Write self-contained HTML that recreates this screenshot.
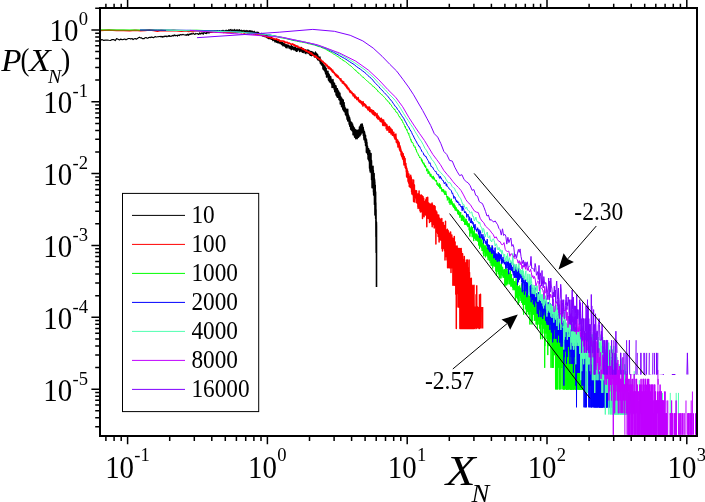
<!DOCTYPE html>
<html><head><meta charset="utf-8"><title>P(X_N)</title>
<style>html,body{margin:0;padding:0;background:#fff;}body{width:705px;height:502px;overflow:hidden;font-family:"Liberation Serif",serif;}svg{display:block;will-change:transform;}</style></head>
<body>
<svg width="705" height="502" viewBox="0 0 705 502">
<rect width="100%" height="100%" fill="#fff"/>
<defs><clipPath id="cp"><rect x="100" y="8" width="597" height="428"/></clipPath></defs>
<g clip-path="url(#cp)">
<path d="M100.0 40.7L101.9 39.5L103.7 40.4L105.5 40.1L107.2 40.0L108.9 40.3L110.5 40.5L112.1 39.5L113.6 39.6L115.2 40.6L116.6 38.6L118.1 39.2L119.5 39.9L120.8 39.1L122.2 39.7L123.5 39.4L124.8 39.0L126.0 39.9L127.3 39.0L128.5 38.5L129.7 38.5L130.8 39.1L132.0 38.5L133.1 39.6L134.2 38.8L135.3 38.5L136.3 39.2L137.4 38.6L138.4 37.7L139.4 37.2L140.4 37.9L141.4 37.8L142.3 38.6L143.3 38.6L144.2 38.6L145.1 37.7L146.0 37.5L146.9 38.1L147.8 38.2L148.7 37.5L149.5 37.4L150.4 37.6L151.2 36.9L152.0 37.4L152.8 37.3L153.6 37.7L154.4 37.1L155.2 36.5L155.9 37.0L156.7 37.0L157.4 36.7L158.2 36.7L158.9 36.6L159.6 36.5L160.3 36.4L161.0 37.0L161.7 36.4L162.4 37.2L163.1 36.3L163.8 37.0L164.4 36.4L165.1 36.1L165.8 36.4L166.4 36.1L167.0 36.9L167.7 36.4L168.3 35.7L168.9 36.5L169.5 35.6L170.1 36.5L170.7 36.2L171.3 36.3L171.9 35.7L172.5 35.4L173.1 36.1L173.6 35.7L174.2 34.8L174.8 35.6L175.3 35.8L175.9 35.2L176.4 35.5L177.0 35.6L177.5 36.1L178.0 34.9L178.6 35.4L179.1 35.2L179.6 35.6L180.1 34.5L180.6 34.7L181.1 34.6L181.6 35.0L182.1 34.7L182.6 34.5L183.1 34.4L183.6 34.7L184.1 34.8L184.5 34.9L185.0 35.0L185.5 35.1L186.0 34.5L186.4 34.7L186.9 35.5L187.3 34.6L187.8 34.0L188.2 34.6L188.7 35.3L189.1 34.5L189.6 34.0L190.0 34.2L190.4 34.5L190.9 33.5L191.3 33.4L191.7 34.2L192.1 33.8L192.6 34.0L193.0 33.8L193.4 33.4L193.8 33.7L194.2 34.0L194.6 34.3L195.0 34.3L195.4 33.9L195.8 33.4L196.2 33.7L196.6 33.8L197.0 33.7L197.4 33.7L197.7 33.5L198.1 34.2L198.5 34.5L198.9 33.8L199.2 34.1L199.6 32.8L200.0 33.6L200.4 33.6L200.7 34.1L201.1 33.3L201.4 33.6L201.8 32.8L202.2 32.9L202.5 33.6L202.9 33.0L203.2 34.4L203.6 33.4L203.9 32.5L204.3 32.7L204.6 32.9L204.9 33.0L205.3 33.5L205.6 33.5L206.0 32.7L206.3 32.0L206.6 33.7L206.9 32.4L207.3 32.4L207.6 32.2L207.9 33.0L208.2 32.8L208.6 32.5L208.9 32.9L209.2 33.0L209.5 32.8L209.8 32.4L210.1 32.1L210.5 32.3L210.8 32.2L211.1 32.5L211.4 32.5L211.7 31.6L212.0 32.1L212.3 32.1L212.6 31.6L212.9 31.4L213.2 31.4L213.5 31.7L213.8 31.9L214.1 31.7L214.4 31.7L214.7 31.1L214.9 31.6L215.2 31.4L215.5 31.7L215.8 31.0L216.1 32.5L216.4 31.4L216.6 31.2L216.9 32.0L217.2 30.5L217.5 31.5L217.8 31.5L218.0 31.9L218.3 31.0L218.6 31.3L218.8 31.6L219.1 31.2L219.4 31.0L219.7 30.7L219.9 31.1L220.2 31.7L220.4 31.5L220.7 32.2L221.0 31.5L221.2 30.8L221.5 30.9L221.7 31.2L222.0 31.2L222.3 30.4L222.5 30.9L222.8 30.6L223.0 30.8L223.3 31.3L223.5 30.3L223.8 31.5L224.0 31.5L224.3 31.1L224.5 31.2L224.8 31.1L225.0 31.1L225.3 30.4L225.5 30.8L225.7 30.6L226.0 31.5L226.2 31.2L226.5 30.3L226.7 31.3L226.9 30.2L227.2 31.2L227.4 30.6L227.6 31.1L227.9 30.6L228.1 31.1L228.3 30.7L228.6 29.9L228.8 30.8L229.0 29.7L229.3 30.8L229.5 31.1L229.7 30.5L229.9 30.7L230.2 29.7L230.4 30.1L230.6 30.0L230.8 30.2L231.0 29.4L231.3 30.1L231.5 30.2L231.7 30.9L231.9 30.9L232.1 30.4L232.4 30.0L232.6 29.9L232.8 30.9L233.0 30.2L233.2 30.3L233.4 30.9L233.6 30.2L233.9 31.5L234.1 30.3L234.3 29.3L234.5 30.9L234.7 30.4L234.9 31.3L235.1 30.8L235.3 30.0L235.5 30.9L235.7 30.4L235.9 30.6L236.1 30.6L236.3 30.3L236.5 30.2L236.7 29.8L236.9 30.0L237.1 30.7L237.3 29.8L237.5 29.9L237.7 31.2L237.9 30.1L238.1 30.1L238.3 30.0L238.5 30.2L238.7 31.1L238.9 30.6L239.1 31.5L239.3 30.6L239.5 29.6L239.7 30.2L239.9 30.2L240.1 30.8L240.3 31.1L240.4 31.1L240.6 30.5L240.8 31.0L241.0 30.9L241.2 30.1L241.4 31.5L241.6 31.3L241.8 30.9L241.9 30.7L242.1 30.8L242.3 31.4L242.5 30.7L242.7 30.8L242.9 30.6L243.0 31.3L243.2 30.7L243.4 30.7L243.6 31.2L243.8 31.0L243.9 31.2L244.1 30.2L244.3 32.5L244.5 31.6L244.6 31.8L244.8 31.2L245.0 31.3L245.2 31.2L245.4 30.7L245.5 31.9L245.7 31.5L245.9 31.2L246.0 31.7L246.2 30.9L246.4 31.0L246.6 31.5L246.7 32.1L246.9 30.4L247.1 31.0L247.2 31.0L247.4 31.2L247.6 31.3L247.7 30.9L247.9 31.3L248.1 31.6L248.2 31.0L248.4 31.3L248.6 31.8L248.7 31.9L248.9 30.9L249.1 31.1L249.2 30.5L249.4 31.8L249.6 31.9L249.7 31.3L249.9 30.9L250.1 31.3L250.2 31.4L250.4 30.7L250.5 32.0L250.7 32.3L250.9 32.1L251.0 31.9L251.2 31.5L251.3 31.2L251.5 31.6L251.6 31.0L251.8 32.2L252.0 30.9L252.1 32.3L252.3 31.3L252.4 32.4L252.6 31.8L252.7 32.0L252.9 31.8L253.0 31.7L253.2 32.2L253.4 32.1L253.5 32.0L253.7 32.9L253.8 32.6L254.0 33.1L254.1 32.3L254.3 31.2L254.4 32.0L254.6 32.8L254.7 32.8L254.9 32.0L255.0 32.8L255.2 33.4L255.3 33.1L255.5 33.2L255.6 33.2L255.8 32.4L255.9 32.7L256.0 33.6" fill="none" stroke="#000000" stroke-width="1.15" stroke-linejoin="round"/>
<path d="M256.0 33.6L256.2 33.1L256.3 33.5L256.5 33.6L256.6 33.8L256.8 32.1L256.9 33.2L257.1 32.8L257.2 32.7L257.4 33.4L257.5 33.0L257.6 33.0L257.8 33.2L257.9 32.2L258.1 33.3L258.2 33.6L258.3 33.2L258.5 32.6L258.6 33.1L258.8 33.9L258.9 34.2L259.0 34.3L259.2 34.2L259.3 33.6L259.5 33.4L259.6 35.2L259.7 34.0L259.9 34.6L260.0 33.7L260.2 33.6L260.3 34.6L260.4 34.5L260.6 34.8L260.7 34.1L260.8 35.3L261.0 35.0L261.1 34.8L261.2 33.8L261.4 33.3L261.5 34.6L261.6 35.3L261.8 34.7L261.9 35.2L262.0 34.5L262.2 35.5L262.3 35.1L262.4 35.0L262.6 34.7L262.7 35.1L262.8 34.4L263.0 35.1L263.1 36.2L263.2 34.7L263.4 35.4L263.5 35.7L263.6 34.5L263.7 36.0L263.9 35.4L264.0 35.9L264.1 34.8L264.3 35.8L264.4 35.5L264.5 36.5L264.6 34.9L264.8 36.4L264.9 35.3L265.0 35.2L265.1 35.2L265.3 34.9L265.4 36.7L265.5 35.8L265.6 36.0L265.8 35.9L265.9 35.6L266.0 36.2L266.1 36.8L266.3 36.4L266.4 35.5L266.5 37.2L266.6 36.5L266.8 37.2L266.9 36.0L267.0 37.7L267.1 36.9L267.2 36.8L267.4 36.8L267.5 35.5L267.6 36.0L267.7 37.6L267.9 35.8L268.0 37.8L268.1 38.3L268.2 38.1L268.3 37.1L268.5 37.0L268.6 38.7L268.7 37.1L268.8 37.6L268.9 37.1L269.0 37.8L269.2 37.1L269.3 37.3L269.4 38.5L269.5 36.9L269.6 37.7L269.8 37.4L269.9 37.2L270.0 38.6L270.1 38.1L270.2 38.6L270.3 38.8L270.4 38.0L270.6 38.1L270.7 37.5L270.8 37.5L270.9 38.4L271.0 39.0L271.1 36.6L271.3 37.3L271.4 38.7L271.5 39.3L271.6 39.0L271.7 38.6L271.8 38.1L271.9 38.3L272.0 38.7L272.2 39.2L272.3 39.0L272.4 39.3L272.5 39.1L272.6 39.3L272.7 38.9L272.8 40.6L272.9 39.6L273.0 39.6L273.2 40.2L273.3 39.7L273.4 40.3L273.5 40.1L273.6 39.9L273.7 39.9L273.8 40.2L273.9 39.1L274.0 39.8L274.1 39.7L274.3 39.8L274.4 40.5L274.5 40.7L274.6 39.6L274.7 40.4L274.8 41.4L274.9 41.8L275.0 40.2L275.1 40.9L275.2 40.5L275.3 40.9L275.4 40.8L275.5 40.7L275.6 41.5L275.8 40.7L275.9 40.1L276.0 40.3L276.1 42.0L276.2 41.8L276.3 41.8L276.4 41.1L276.5 40.4L276.6 40.8L276.7 42.3L276.8 41.1L276.9 40.6L277.0 41.5L277.1 40.0L277.2 41.8L277.3 40.6L277.4 39.8L277.5 42.4L277.6 41.7L277.7 41.2L277.8 39.4L277.9 42.9L278.0 41.3L278.1 41.5L278.2 42.1L278.3 42.4L278.4 42.2L278.5 42.1L278.6 42.9L278.7 40.9L278.8 42.9L278.9 42.4L279.0 42.6L279.1 42.5L279.2 42.2L279.3 42.8L279.4 42.5L279.5 41.2L279.6 41.7L279.7 42.7L279.8 41.9L279.9 43.1L280.0 42.5L280.1 43.7L280.2 43.5L280.3 43.4L280.4 41.9L280.5 42.7L280.6 42.5L280.7 42.8L280.8 42.7L280.9 42.7L281.0 42.5L281.1 43.0L281.2 43.8L281.3 43.8L281.4 42.4L281.5 42.3L281.6 42.9L281.7 44.6L281.8 42.3L281.9 43.3L282.0 43.6L282.1 43.6L282.2 43.9L282.3 42.4L282.4 42.5L282.5 44.6L282.6 43.9L282.6 43.6L282.7 43.0L282.8 45.8L282.9 43.3L283.0 42.8L283.1 44.3L283.2 44.2L283.3 43.2L283.4 43.9L283.5 45.3L283.6 45.2L283.7 45.1L283.8 45.5L283.9 44.4L284.0 44.9L284.0 44.5L284.1 44.0L284.2 43.3L284.3 44.5L284.4 46.1L284.5 43.7L284.6 44.9L284.7 43.9L284.8 45.2L284.9 44.7L285.0 45.1L285.1 45.0L285.1 44.1L285.2 45.6L285.3 45.0L285.4 45.0L285.5 45.5L285.6 47.0L285.7 45.0L285.8 47.6L285.9 46.6L286.0 45.8L286.0 45.1L286.1 44.8L286.2 44.9L286.3 45.1L286.4 45.9L286.5 44.7L286.6 45.9L286.7 44.9L286.8 47.6L286.8 46.6L286.9 46.3L287.0 45.9L287.1 47.9L287.2 45.3L287.3 45.2L287.4 45.4L287.5 46.5L287.5 45.0L287.6 46.6L287.7 45.5L287.8 46.3L287.9 46.3L288.0 46.4L288.1 46.4L288.2 45.5L288.2 45.3L288.3 45.3L288.4 45.8L288.5 46.0L288.6 46.2L288.7 45.2L288.8 47.0L288.8 47.2L288.9 46.7L289.0 48.1L289.1 47.0L289.2 46.9L289.3 47.7L289.3 47.3L289.4 46.3L289.5 47.1L289.6 46.9L289.7 46.2L289.8 47.5L289.9 48.0L289.9 47.1L290.0 46.8L290.1 48.7L290.2 46.7L290.3 47.5L290.4 47.6L290.4 48.0L290.5 47.5L290.6 46.6L290.7 47.0L290.8 46.8L290.9 47.8L290.9 46.2L291.0 46.5L291.1 47.6L291.2 49.8L291.3 47.6L291.3 45.4L291.4 47.7L291.5 48.6L291.6 46.3L291.7 48.3L291.8 47.4L291.8 47.2L291.9 49.1L292.0 47.8L292.1 46.9L292.2 48.2L292.2 47.4L292.3 48.0L292.4 47.1L292.5 46.5L292.6 49.0L292.6 48.3L292.7 47.8L292.8 48.7L292.9 48.9L293.0 48.5L293.0 48.4L293.1 48.8L293.2 48.0L293.3 47.6L293.4 47.7L293.4 47.8L293.5 47.4L293.6 49.6L293.7 48.5L293.8 48.3L293.8 48.0L293.9 49.9L294.0 46.9L294.1 49.3L294.1 48.3L294.2 47.9L294.3 47.7L294.4 49.2L294.5 49.1L294.5 48.3L294.6 48.2L294.7 47.9L294.8 48.8L294.8 49.3L294.9 49.9L295.0 47.3L295.1 50.0L295.2 48.2L295.2 48.6L295.3 48.2L295.4 48.0L295.5 47.7L295.5 49.0L295.6 48.6L295.7 50.7L295.8 48.9L295.8 49.8L295.9 49.1L296.0 47.9L296.1 48.9L296.1 48.1L296.2 49.2L296.3 48.7L296.4 49.5L296.4 51.4L296.5 49.8L296.6 49.4L296.7 49.0L296.7 49.2L296.8 49.3L296.9 48.4L297.0 48.7L297.0 49.6L297.1 48.5L297.2 51.1L297.3 49.5L297.3 49.4L297.4 48.2L297.5 49.8L297.6 50.7L297.6 49.2L297.7 47.9L297.8 49.6L297.9 49.5L297.9 49.6L298.0 49.4L298.1 48.3L298.2 47.8L298.2 49.1L298.3 49.6L298.4 47.9L298.4 49.4L298.5 49.5L298.6 49.9L298.7 49.9L298.7 49.4L298.8 49.9L298.9 49.2L299.0 49.5L299.0 49.1L299.1 50.0L299.2 49.8L299.2 49.5L299.3 49.6L299.4 49.6L299.5 48.7L299.5 50.7L299.6 51.6L299.7 49.1L299.7 50.0L299.8 48.6L299.9 49.9L300.0 50.9L300.0 47.9L300.1 49.5L300.2 50.3L300.2 50.6L300.3 49.4L300.4 50.5L300.4 49.6L300.5 48.9L300.6 51.2L300.7 50.3L300.7 49.5L300.8 48.5L300.9 49.2L300.9 50.4L301.0 48.7L301.1 50.4L301.1 50.2L301.2 49.7L301.3 51.1L301.4 47.4L301.4 49.0L301.5 49.9L301.6 50.7L301.6 51.2L301.7 49.8L301.8 49.5L301.8 50.6L301.9 50.4L302.0 49.7L302.0 50.3L302.1 52.0L302.2 49.7L302.3 50.1L302.3 49.6L302.4 51.0L302.5 52.3L302.5 51.5L302.6 50.1L302.7 48.5L302.7 48.3L302.8 50.1L302.9 51.8L302.9 50.7L303.0 50.0L303.1 50.1L303.1 50.4L303.2 49.3L303.3 51.3L303.3 52.6L303.4 51.3L303.5 51.6L303.5 48.6L303.6 50.7L303.7 51.9L303.7 50.0L303.8 49.7L303.9 50.6L303.9 50.5L304.0 49.7L304.1 50.2L304.1 51.4L304.2 50.2L304.3 49.9L304.3 50.4L304.4 50.0L304.5 50.2L304.5 51.0L304.6 50.9L304.7 50.3L304.7 51.4L304.8 49.8L304.9 49.8L304.9 52.9L305.0 51.0L305.1 51.6L305.1 51.5L305.2 50.8L305.3 51.1L305.3 50.5L305.4 50.7L305.5 50.7L305.5 51.8L305.6 51.4L305.6 49.8L305.7 53.5L305.8 49.6L305.8 51.7L305.9 50.1L306.0 53.7L306.0 51.6L306.1 50.4L306.2 51.1L306.2 50.3L306.3 52.1L306.4 51.8L306.4 51.9L306.5 50.9L306.5 50.9L306.6 51.5L306.7 51.6L306.7 51.7L306.8 51.4L306.9 52.4L306.9 51.5L307.0 51.6L307.1 52.0L307.1 52.1L307.2 50.2L307.2 52.2L307.3 51.2L307.4 50.3L307.4 50.9L307.5 51.6L307.6 50.7L307.6 53.1L307.7 52.9L307.7 52.1L307.8 52.0L307.9 51.9L307.9 50.0L308.0 50.2L308.1 51.9L308.1 51.6L308.2 52.7L308.2 51.6L308.3 53.2L308.4 50.6L308.4 52.4L308.5 51.4L308.6 53.3L308.6 50.7L308.7 51.4L308.7 50.2L308.8 52.0L308.9 53.7L308.9 52.9L309.0 53.4L309.0 50.7L309.1 52.8L309.2 52.9L309.2 51.6L309.3 52.0L309.3 51.8L309.4 52.8L309.5 54.3L309.5 53.6L309.6 54.5L309.6 51.1L309.7 51.5L309.8 52.8L309.8 51.8L309.9 51.8L310.0 51.9L310.0 52.0L310.1 51.7L310.1 52.5L310.2 54.8L310.3 55.4L310.3 51.4L310.5 52.5L310.6 53.6L310.6 53.2L310.7 55.4L310.7 52.0L310.8 52.9L310.8 52.0L310.9 51.8L311.0 51.6L311.0 51.3L311.1 52.6L311.1 52.7L311.2 53.6L311.3 52.5L311.4 54.2L311.4 51.9L311.5 52.4L311.6 55.8L311.6 55.0L311.7 53.4L311.7 54.5L311.8 52.0L311.8 53.0L311.9 52.7L312.0 52.4L312.0 52.0L312.1 53.6L312.1 52.7L312.2 53.1L312.3 52.6L312.4 52.1L312.5 54.0L312.5 53.4L312.6 54.7L312.7 53.3L312.7 52.1L312.8 54.2L312.8 55.4L312.9 53.8L312.9 54.2L313.0 53.7L313.2 54.9L313.2 52.3L313.3 54.1L313.3 53.4L313.4 53.2L313.5 54.1L313.5 53.6L313.6 54.5L313.7 53.6L313.8 55.5L313.9 55.1L313.9 55.0L314.0 54.8L314.0 53.1L314.1 54.3L314.1 54.7L314.2 54.2L314.3 53.4L314.4 57.0L314.5 55.4L314.5 53.1L314.6 53.1L314.6 54.4L314.7 55.1L314.8 53.9L314.8 55.1L314.9 53.2L315.0 54.1L315.0 55.7L315.1 53.9L315.1 55.2L315.2 55.2L315.3 55.4L315.4 54.2L315.5 54.3L315.5 51.9L315.6 55.6L315.6 54.1L315.7 56.0L315.8 55.5L315.8 56.6L315.9 54.2L316.0 55.3L316.0 55.6" fill="none" stroke="#000000" stroke-width="1.3" stroke-linejoin="round"/>
<path d="M316.0 55.6L316.1 56.1L316.2 53.2L316.3 55.9L316.4 56.4L316.4 56.9L316.5 55.1L316.5 55.9L316.7 57.2L316.8 54.1L317.0 58.4L317.1 58.0L317.1 56.9L317.2 56.6L317.2 58.0L317.3 55.0L317.5 57.2L317.5 54.6L317.7 59.8L317.7 57.3L317.8 56.5L317.8 57.4L317.9 55.7L318.0 57.9L318.0 57.0L318.1 56.9L318.1 58.9L318.2 57.5L318.3 56.8L318.3 56.8L318.4 59.0L318.5 57.5L318.5 57.2L318.6 58.4L318.7 57.4L318.8 58.6L318.8 58.3L318.9 58.6L319.0 58.9L319.0 59.7L319.1 60.4L319.2 58.6L319.3 58.7L319.4 58.1L319.5 60.2L319.5 58.9L319.7 60.8L319.7 59.3L319.8 60.1L319.9 57.1L320.0 60.3L320.0 59.7L320.2 61.8L320.3 61.0L320.4 63.2L320.5 59.3L320.5 61.4L320.6 60.8L320.7 63.1L320.7 61.6L320.8 62.1L320.8 61.1L320.9 63.1L321.0 61.7L321.0 61.4L321.1 61.2L321.2 63.4L321.3 61.1L321.4 64.7L321.5 61.9L321.5 63.8L321.7 61.8L321.7 63.5L321.8 63.8L321.9 65.0L321.9 63.0L322.0 64.8L322.0 63.1L322.1 64.7L322.2 63.0L322.2 63.2L322.3 65.5L322.4 63.8L322.5 65.6L322.5 65.3L322.7 64.0L322.7 65.9L322.8 63.2L322.9 67.5L323.0 66.3L323.0 68.8L323.2 64.6L323.2 65.6L323.3 68.5L323.4 65.7L323.4 69.4L323.5 67.8L323.5 66.1L323.6 69.7L323.7 64.9L323.8 68.0L323.8 68.7L324.0 67.2L324.0 66.2L324.1 70.0L324.2 68.3L324.3 67.3L324.4 69.6L324.5 67.6L324.5 69.2L324.6 67.9L324.7 69.5L324.7 68.4L324.8 66.0L324.9 71.3L325.0 70.7L325.0 69.6L325.1 70.2L325.1 67.0L325.2 68.0L325.3 71.4L325.4 68.0L325.5 73.0L325.5 69.0L325.7 73.6L325.8 68.2L326.0 73.8L326.0 71.5L326.1 68.3L326.2 74.4L326.2 73.2L326.3 71.9L326.3 71.7L326.4 73.5L326.5 71.9L326.5 71.3L326.6 77.1L326.7 72.6L326.8 73.3L326.9 71.3L327.0 75.2L327.0 73.4L327.1 75.5L327.2 71.7L327.2 74.9L327.3 75.4L327.4 72.6L327.5 75.5L327.5 75.4L327.7 71.9L327.8 75.9L327.9 71.2L328.0 76.6L328.0 75.9L328.2 74.7L328.2 78.0L328.3 75.7L328.3 73.5L328.5 80.1L328.5 76.4L328.5 78.8L328.6 74.2L328.7 77.9L328.8 75.8L328.9 78.6L329.0 77.7L329.0 76.4L329.1 74.3L329.2 78.5L329.2 75.7L329.3 77.1L329.3 76.3L329.5 81.7L329.5 78.6L329.6 75.8L329.7 80.8L329.7 78.7L329.8 78.7L329.9 77.2L329.9 81.3L330.0 80.0L330.0 77.9L330.1 77.6L330.2 80.9L330.2 78.8L330.3 77.0L330.4 81.0L330.5 80.8L330.5 82.5L330.7 76.8L330.7 79.8L330.8 78.0L330.9 81.1L331.0 80.0L331.0 79.6L331.1 79.1L331.2 81.6L331.2 80.6L331.3 81.9L331.4 80.4L331.5 82.7L331.5 84.0L331.7 80.6L331.8 82.3L331.8 81.4L332.0 84.8L332.0 81.7L332.1 87.5L332.2 81.4L332.2 85.4L332.3 82.5L332.3 86.1L332.4 80.8L332.5 81.4L332.5 85.2L332.6 87.0L332.7 81.5L332.7 82.0L332.8 84.0L332.9 84.2L332.9 79.5L333.0 81.3L333.0 84.5L333.1 82.0L333.1 86.2L333.2 85.5L333.3 85.3L333.4 82.3L333.5 87.4L333.5 82.3L333.6 85.5L333.7 84.2L333.8 86.4L333.8 87.9L333.9 82.7L334.0 87.4L334.0 87.2L334.1 84.8L334.2 86.9L334.3 84.2L334.3 89.6L334.5 83.5L334.5 87.9L334.5 87.7L334.6 89.6L334.7 85.0L334.7 86.0L334.8 91.8L334.8 85.2L335.0 87.3L335.0 87.6L335.1 89.8L335.1 86.1L335.2 87.4L335.3 87.5L335.4 90.9L335.5 89.0L335.5 91.9L335.6 86.4L335.7 90.2L335.8 89.9L335.8 91.3L335.9 85.8L336.0 86.0L336.0 90.7L336.1 95.1L336.2 87.8L336.2 89.8L336.3 89.4L336.4 89.0L336.4 92.4L336.5 91.3L336.5 90.8L336.7 95.9L336.7 89.4L336.8 90.4L336.8 89.8L336.9 93.9L337.0 91.9L337.0 93.6L337.1 88.8L337.2 90.6L337.3 91.2L337.3 88.7L337.4 97.2L337.5 93.1L337.5 94.2L337.7 90.1L337.7 92.3L337.8 92.8L337.9 95.5L338.0 90.7L338.0 90.9L338.2 97.0L338.2 94.7L338.3 95.5L338.4 91.1L338.5 97.2L338.5 94.1L338.6 91.4L338.6 97.5L338.7 96.5L338.8 95.8L338.9 93.2L339.0 99.6L339.0 97.8L339.2 99.0L339.2 94.5L339.3 95.6L339.3 97.6L339.5 97.3L339.5 96.7L339.7 93.0L339.7 99.5L339.7 97.5L339.8 94.9L339.9 93.6L340.0 100.5L340.0 96.6L340.1 99.8L340.2 96.5L340.3 103.1L340.3 104.0L340.4 96.6L340.5 98.6L340.5 96.3L340.7 100.7L340.8 102.9L340.9 98.5L341.0 103.9L341.0 101.1L341.0 97.4L341.2 104.4L341.3 98.4L341.4 100.7L341.5 98.0L341.5 105.5L341.6 106.6L341.7 98.3L341.7 100.3L341.8 101.2L341.8 104.1L341.9 100.3L342.0 102.6L342.0 103.1L342.1 99.6L342.2 105.6L342.2 103.6L342.3 104.9L342.5 99.6L342.5 106.0L342.5 102.4L342.7 102.6L342.8 109.1L342.9 100.3L343.0 105.3L343.0 106.3L343.1 109.8L343.2 100.0L343.2 104.2L343.3 105.3L343.3 102.3L343.5 105.5L343.5 103.7L343.6 109.4L343.7 103.4L343.8 107.7L343.8 105.0L343.8 110.7L344.0 108.2L344.0 103.2L344.1 102.7L344.1 110.3L344.2 108.7L344.3 108.3L344.3 111.6L344.5 105.7L344.5 108.8L344.6 107.2L344.7 109.7L344.7 107.3L344.8 109.0L344.8 108.2L344.9 111.9L345.0 110.3L345.0 110.3L345.1 108.5L345.2 111.5L345.2 108.9L345.3 111.8L345.4 108.1L345.5 114.4L345.5 110.1L345.6 108.9L345.6 112.8L345.7 110.1L345.8 113.6L345.8 108.9L346.0 112.4L346.0 115.0L346.1 109.7L346.2 115.8L346.2 111.5L346.3 112.7L346.3 114.7L346.4 112.0L346.5 114.1L346.5 113.5L346.6 112.9L346.6 116.0L346.7 113.6L346.8 113.1L346.8 109.7L347.0 117.9L347.0 117.0L347.1 119.2L347.2 114.5L347.2 115.4L347.3 113.0L347.3 112.9L347.4 116.1L347.5 115.7L347.5 115.7L347.6 118.9L347.7 109.4L347.8 118.9L347.8 121.0L347.9 113.0L348.0 117.3L348.0 118.4L348.1 119.5L348.2 116.0L348.3 114.9L348.4 119.9L348.5 119.0L348.5 116.8L348.6 121.1L348.7 118.8L348.8 119.3L348.8 115.9L348.9 120.5L349.0 119.7L349.0 117.7L349.2 124.3L349.2 119.7L349.3 119.5L349.3 117.3L349.4 121.4L349.5 119.0L349.5 120.1L349.6 117.9L349.7 124.9L349.7 119.9L349.8 121.0L349.8 126.3L349.9 119.3L350.0 122.4L350.0 123.1L350.1 122.0L350.2 125.0L350.2 123.6L350.3 123.6L350.4 126.8L350.4 121.4L350.5 123.8L350.5 122.8L350.6 121.9L350.7 129.0L350.8 125.5L350.8 122.2L350.9 129.5L351.0 122.7L351.0 122.1L351.0 122.0L351.1 127.0L351.2 126.1L351.3 126.2L351.3 123.9L351.5 129.9L351.5 127.8L351.6 124.2L351.7 126.2L351.8 125.9L351.8 122.8L351.9 129.1L352.0 127.4L352.0 125.8L352.1 130.7L352.2 124.4L352.2 126.1L352.3 127.4L352.3 130.0L352.5 124.1L352.5 130.0L352.6 131.3L352.7 127.1L352.8 127.4L352.9 127.2L352.9 129.5L353.0 129.0L353.0 130.0L353.0 126.0L353.1 134.8L353.2 127.0L353.3 129.3L353.3 126.2L353.5 133.7L353.5 129.2L353.5 134.6L353.6 128.2L353.7 130.5L353.8 134.9L354.0 129.1L354.0 133.0L354.0 130.1L354.1 128.2L354.1 132.9L354.2 130.5L354.3 130.1L354.4 128.1L354.5 134.2L354.5 131.4L354.5 132.3L354.6 137.1L354.7 135.5L354.8 133.1L354.8 135.0L354.8 131.4L355.0 133.0L355.0 131.9L355.2 130.9L355.2 136.2L355.2 133.3L355.3 133.3L355.3 129.9L355.5 137.4L355.5 132.4L355.6 135.2L355.6 130.3L355.7 131.9L355.8 138.8L355.8 130.4L356.0 134.8L356.0 132.3L356.1 130.4L356.2 136.5L356.2 135.8L356.3 133.9L356.3 136.9L356.3 131.6L356.5 136.2L356.5 134.2L356.6 135.8L356.6 131.8L356.7 135.6L356.8 130.8L356.8 130.3L356.9 137.9L357.0 133.9L357.0 135.3L357.0 132.9L357.2 138.6L357.2 135.1L357.3 134.0L357.3 137.8L357.4 131.1L357.5 134.8L357.5 137.7L357.7 131.9L357.8 134.4L357.8 136.3L358.0 132.7L358.0 133.0L358.1 136.9L358.2 132.4L358.2 136.5L358.3 131.0L358.3 130.1L358.3 136.4L358.5 131.3L358.5 137.3L358.6 131.3L358.7 133.1L358.8 133.6L358.9 136.5L358.9 131.2L359.0 135.4L359.0 130.2L359.1 135.8L359.2 132.1L359.3 133.8L359.3 134.4L359.5 129.2L359.5 130.7L359.5 127.1L359.7 133.3L359.7 131.8L359.8 130.0L359.8 128.6L359.8 133.8L360.0 132.0L360.0 131.9L360.0 135.8L360.2 128.7L360.2 129.0L360.3 130.3L360.4 127.1L360.4 130.9L360.5 129.5L360.5 125.6L360.7 131.3L360.7 126.8L360.8 126.4L360.9 134.2L360.9 124.5L361.0 127.6L361.0 129.2L361.1 130.9L361.2 124.2L361.3 128.1L361.3 127.2L361.4 133.0L361.5 127.3L361.5 127.8L361.7 125.4L361.7 129.5L361.7 126.2L361.8 128.4L361.9 129.4L362.0 124.3L362.0 127.3L362.0 126.6L362.1 129.9L362.2 124.1L362.2 126.7L362.3 125.8L362.3 131.8L362.5 127.1L362.5 126.0L362.6 125.7L362.7 131.5L362.7 128.7L362.8 130.6L362.9 131.0L363.0 128.2L363.0 133.4L363.2 127.6L363.2 129.5L363.3 130.9L363.4 135.5L363.4 129.8L363.5 132.0L363.5 129.6L363.7 136.0L363.8 133.3L363.8 132.6L363.9 138.3L364.0 133.7L364.0 134.8L364.1 139.7L364.2 131.2L364.2 132.9L364.3 135.0L364.3 131.7L364.5 137.5L364.5 136.2L364.5 132.0L364.7 138.8L364.7 136.7L364.8 136.6L364.8 139.5L364.9 134.1L365.0 136.7L365.0 136.9L365.2 142.5L365.2 138.7L365.3 135.5L365.4 141.8L365.5 135.5L365.5 141.0L365.5 142.1L365.5 138.0L365.6 145.6L365.7 143.6L365.8 145.0L365.8 138.2L366.0 139.0L366.0 144.2L366.2 141.0L366.2 145.9L366.3 146.1L366.4 139.7L366.4 152.2L366.5 145.5L366.5 145.3L366.5 139.8L366.5 151.0L366.7 143.6L366.8 151.0L366.9 142.4L367.0 148.8L367.0 146.5L367.0 145.8L367.1 153.1L367.2 147.7L367.3 148.8L367.3 152.8L367.4 146.1L367.5 146.8L367.5 149.0L367.6 153.0L367.7 148.0L367.7 152.6L367.8 152.0L367.8 154.8L367.9 148.7L368.0 149.5L368.0 151.0L368.1 149.3L368.1 159.1L368.2 154.3L368.3 153.4L368.3 148.7L368.5 158.0L368.5 157.4L368.6 148.7L368.7 158.4L368.7 153.9L368.8 154.0L368.8 151.5L369.0 161.0L369.0 152.9L369.0 152.0L369.1 159.5L369.2 157.0L369.3 159.1L369.3 155.0L369.4 160.6L369.5 158.7L369.5 156.7L369.6 168.2L369.7 150.6L369.7 158.2L369.8 161.9L370.0 153.1L370.0 170.4L370.0 161.9L370.2 156.2L370.2 171.9L370.3 167.5L370.4 156.2L370.5 163.1L370.5 161.9L370.7 171.1L370.7 161.4L370.8 164.3L370.8 170.4L371.0 153.5L371.0 157.7L371.0 163.1L371.2 171.9L371.3 169.6L371.4 160.3L371.5 174.3L371.5 161.4L371.6 179.8L371.7 178.8L371.8 173.5L371.8 178.8L371.9 166.2L372.0 170.4L372.0 173.5L372.1 187.8L372.2 169.6L372.2 174.3L372.3 174.3L372.4 187.8L372.4 168.2L372.5 168.9L372.5 174.3L372.6 183.0L372.6 168.9L372.7 171.1L372.8 179.8L372.8 181.9L373.0 166.2L373.0 180.9L373.0 184.1L373.0 171.1L373.2 177.9L373.3 170.4L373.3 186.5L373.5 178.8L373.5 192.0L373.6 176.0L373.7 195.1L373.7 180.9L373.8 176.0L373.8 189.1L374.0 173.5L374.0 180.9L374.1 173.5L374.2 193.5L374.2 177.9L374.3 187.8L374.4 178.8L374.5 204.6L374.5 180.9L374.6 204.6L374.6 179.8L374.7 183.0L374.8 192.0L374.8 181.9L375.0 215.1L375.0 193.5L375.1 207.0L375.2 185.3L375.3 202.5L375.3 190.5L375.4 204.6L375.5 198.6L375.5 207.0L375.6 192.0L375.7 218.4L375.8 202.5L376.0 236.8L376.0 209.5L376.0 212.2L376.2 252.7L376.3 236.8L376.3 252.7L376.4 222.1L376.5 226.3L376.5 287.0" fill="none" stroke="#000000" stroke-width="1.6" stroke-linejoin="round"/>
<path d="M100.0 30.6L108.9 30.1L116.6 30.6L123.5 30.5L129.7 30.8L135.3 30.3L140.4 30.8L145.1 30.4L149.5 30.1L153.6 30.6L157.4 31.3L161.0 30.5L164.4 30.7L167.7 30.7L170.7 30.8L173.6 30.6L176.4 30.7L179.1 31.0L181.6 31.3L184.1 31.1L186.4 30.9L188.7 31.6L190.9 31.1L193.0 31.7L195.0 30.9L197.0 30.8L198.9 31.1L200.7 31.5L202.5 31.2L204.3 31.1L206.0 31.0L207.6 31.2L209.2 31.3L210.8 31.9L212.3 31.7L213.8 31.6L215.2 31.8L216.6 32.3L218.0 31.9L219.4 32.1L220.7 31.9L222.0 31.9L223.3 32.4L224.5 32.3L225.7 32.1L226.9 32.5L228.1 32.2L229.3 32.5L230.4 32.5L231.5 32.1L232.6 32.4L233.6 32.6L234.7 32.1L235.7 32.6L236.7 32.6L237.7 32.6L238.7 31.8L239.7 32.5L240.6 32.5L241.6 32.9L242.5 32.6L243.4 32.6L244.3 33.3L245.2 32.9L246.0 32.6L246.9 32.6L247.7 33.1L248.6 32.6L249.4 33.5L250.2 33.1L251.0 33.3L251.8 33.8L252.6 33.3L253.4 34.0L254.1 33.9L254.9 33.9L255.6 34.3L256.3 33.7L257.1 34.2L257.8 34.5L258.5 34.2L259.2 34.4L259.9 34.8L260.6 34.8L261.2 34.6L261.9 34.8L262.6 35.7L263.2 35.1L263.9 35.3L264.5 35.5L265.1 36.2L265.8 36.5L266.4 36.5L267.0 36.9L267.6 37.0L268.2 37.3L268.8 37.4L269.4 37.6L270.0 37.7L270.6 37.8L271.1 38.1L271.7 38.3L272.3 37.9L272.8 38.2L273.4 38.5L273.9 39.1L274.5 38.8L275.0 39.2L275.5 39.1L276.1 39.3L276.6 38.8L277.1 39.7L277.6 40.1L278.1 39.6L278.6 39.8L279.1 39.8L279.6 41.2L280.1 40.8L280.6 40.9L281.1 41.3L281.6 40.9L282.1 40.9L282.6 40.9L283.0 41.1L283.5 41.5L284.0 41.1L284.4 41.7L284.9 42.8L285.3 42.1L285.8 42.4L286.2 42.2L286.7 42.6L287.1 42.7L287.5 42.3L288.0 43.1L288.4 43.5L288.8 43.1L289.3 43.1L289.7 43.5L290.1 43.6L290.5 43.9L290.9 44.3L291.3 44.3L291.8 44.5L292.2 43.9L292.6 44.5L293.0 44.1L293.4 44.8L293.8 45.2L294.1 45.0L294.5 45.2L294.9 44.9L295.3 46.2L295.7 45.8L296.1 45.7L296.4 46.3L296.8 46.1L297.2 46.4L297.6 46.0L297.9 46.2L298.3 47.5L298.7 47.5L299.0 47.4L299.4 47.3L299.7 47.5L300.1 47.8L300.4 47.6L300.8 47.7L301.1 48.1L301.5 48.4L301.8 48.5L302.2 49.0L302.5 48.5L302.9 48.7L303.2 49.5L303.5 48.8L303.9 49.5L304.2 49.4L304.5 49.9L304.9 50.1L305.2 50.0L305.5 50.8L305.8 50.7L306.2 51.2L306.5 50.7L306.8 51.2L307.1 51.4L307.4 51.7L307.7 51.4L308.1 51.7L308.4 52.1L308.7 52.4L309.0 51.7L309.3 52.0L309.6 53.1L309.9 52.4L310.2 52.9L310.5 53.1L310.8 53.3L311.1 54.1L311.4 52.9L311.7 53.2L312.0 54.1L312.3 54.3L312.5 54.5L312.8 55.0L313.1 54.7L313.4 55.1L313.7 55.7L314.0 55.6L314.3 55.9L314.5 56.0L314.8 56.1L315.1 55.9L315.4 56.5L315.6 57.2L315.9 56.1L316.2 57.2L316.5 56.5L316.7 57.2L317.0 57.2L317.3 58.0L317.5 57.8L317.8 58.2L318.1 58.2L318.3 58.2L318.6 58.7L318.8 58.4L319.1 59.5L319.4 59.6L319.6 59.1L319.9 59.3L320.1 59.3L320.4 59.2L320.6 59.9L320.9 60.0L321.1 60.4L321.4 60.6L321.6 60.9L321.9 61.0L322.1 61.5L322.4 61.6L322.6 61.4L322.9 61.7L323.1 61.6L323.4 62.5L323.6 62.7L323.8 62.5L324.1 63.3L324.3 63.6L324.6 63.1L324.8 63.7L325.0 63.4L325.3 63.9L325.5 64.4L325.7 64.9L326.0 64.1L326.2 64.9L326.4 65.5L326.6 66.0L326.9 66.1L327.1 65.9L327.3 65.3L327.6 66.6L327.8 66.2L328.0 66.4L328.2 68.4L328.5 67.6L328.7 66.8L328.9 68.4L329.1 67.1L329.3 67.8L329.6 68.9L329.8 67.4L330.0 68.5L330.2 67.9L330.4 68.8L330.6 69.5L330.8 68.8L331.1 68.7L331.3 69.1L331.5 70.6L331.7 69.9L331.9 71.0L332.1 70.9L332.3 70.2L332.5 71.8L332.7 70.0L332.9 72.3L333.2 72.4L333.4 71.5L333.6 72.2L333.8 72.4L334.0 73.0L334.2 72.4L334.4 72.8L334.6 73.2L334.8 73.8L335.0 74.4L335.2 73.8L335.4 75.2L335.6 74.6L335.8 74.1L336.0 74.3L336.2 75.1L336.4 76.5L336.6 74.9L336.7 75.0L336.9 75.6L337.1 75.2L337.3 75.5L337.5 77.2L337.7 76.6L337.9 76.9L338.1 76.0L338.3 76.5L338.5 77.2L338.7 77.2L338.8 77.2L339.0 78.3L339.2 78.2L339.4 78.3L339.6 78.7L339.8 78.9L340.0 78.7L340.1 79.8L340.3 80.0L340.5 79.0L340.7 78.8L340.9 78.8L341.0 81.1L341.2 80.0L341.4 80.9L341.6 81.0L341.8 81.0L341.9 80.8L342.1 80.9L342.3 82.9L342.5 82.0L342.6 81.2L342.8 81.9L343.0 83.2L343.2 83.0L343.3 83.1L343.5 82.2L343.7 81.9L343.9 83.9L344.0 83.1L344.2 83.8L344.4 83.5L344.6 84.2L344.7 85.0L344.9 84.9L345.1 85.1L345.2 84.0L345.4 85.6L345.6 85.0L345.7 86.1L345.9 86.2L346.1 85.8L346.2 86.6L346.4 85.1L346.6 85.7L346.7 87.6L346.9 86.7L347.1 86.2L347.2 88.3L347.4 87.9L347.5 86.9L347.7 88.6L347.9 87.8L348.0 88.5L348.2 88.6L348.3 89.6L348.5 89.1L348.7 89.6L348.8 88.3L349.0 89.2L349.1 89.8L349.3 90.1L349.5 89.8L349.6 91.6L349.8 91.4L349.9 91.5L350.1 91.6L350.2 92.4L350.4 91.1L350.5 92.0L350.7 90.9L350.9 92.1L351.0 92.5L351.2 92.1L351.3 92.2L351.5 92.9L351.6 92.5L351.8 92.2L351.9 93.6L352.1 92.5L352.2 93.8L352.4 93.1L352.5 94.0L352.7 94.4L352.8 94.1L353.0 95.3L353.1 95.8L353.3 94.8L353.4 95.1L353.6 95.9L353.7 93.7L353.9 95.1L354.0 96.1L354.1 95.3L354.3 95.4L354.4 96.3L354.6 96.3L354.7 97.7L354.9 96.2L355.0 95.1L355.2 95.8L355.3 96.0L355.4 97.4L355.6 97.9L355.7 96.5L355.9 97.1L356.0 97.6L356.1 97.9L356.3 97.0L356.4 97.4L356.6 98.4L356.7 98.2L356.8 99.6L357.0 99.4L357.1 98.1L357.3 99.0L357.4 99.5L357.5 98.7L357.7 98.0L357.8 99.8L358.0 99.5L358.1 99.6L358.2 97.6L358.4 98.8L358.5 99.5L358.6 101.1L358.8 99.4L358.9 99.7L359.0 100.4L359.2 101.0L359.3 100.8L359.4 102.0L359.6 101.0L359.7 101.2L359.8 101.7L360.0 101.3L360.1 102.5L360.2 100.4L360.4 101.5L360.5 102.5L360.6 101.0L360.8 101.3L360.9 102.3L361.0 103.1L361.1 102.1L361.3 101.8L361.4 101.8L361.5 101.6L361.7 101.8L361.8 103.9L361.9 102.6L362.0 104.5L362.2 102.1L362.3 102.7L362.4 102.4L362.6 103.3L362.7 103.4L362.8 104.0L362.9 106.1L363.1 103.9L363.2 101.7L363.3 102.8L363.4 104.2L363.6 103.9L363.7 103.9L363.8 104.9L363.9 104.5L364.1 104.3L364.2 105.1L364.3 104.4L364.4 103.8L364.5 104.3L364.7 104.9L364.8 105.4L364.9 104.7L365.0 105.9L365.2 106.1L365.3 104.5L365.4 106.1L365.5 107.1L365.6 105.2L365.8 105.4L365.9 105.2L366.0 106.4L366.1 105.4L366.2 106.6L366.4 107.5L366.5 106.9L366.6 106.6L366.7 107.9L366.8 107.2L367.0 106.9L367.1 107.6L367.2 107.3L367.3 107.5L367.4 108.3L367.5 107.3L367.7 107.2L367.8 109.7L367.9 108.6L368.0 107.3L368.1 107.7L368.2 110.0L368.3 108.1L368.5 107.2L368.6 107.7L368.7 107.9L368.8 108.8L368.9 108.8L369.0 110.0L369.1 109.0L369.3 107.0L369.4 109.2L369.5 110.2L369.6 108.9L369.7 111.5L369.8 107.5L369.9 109.1L370.1 110.0L370.2 110.2L370.3 110.9L370.4 110.0L370.5 110.1L370.6 111.8L370.7 109.4L370.8 110.8L370.9 111.6L371.1 109.8L371.2 110.0L371.3 111.4L371.4 111.6L371.5 110.0L371.6 111.5L371.7 111.0L371.8 110.0L371.9 112.6L372.0 113.0L372.1 112.4L372.3 112.3L372.4 111.8L372.5 110.9L372.6 112.4L372.7 110.5L372.8 111.9L372.9 114.2L373.0 112.4L373.1 111.7L373.2 111.5L373.3 113.3L373.4 112.8L373.5 110.7L373.6 112.8L373.7 113.9L373.8 114.6L374.0 113.6L374.1 112.9L374.2 114.5L374.3 112.1L374.4 114.3L374.5 115.6L374.6 113.1L374.7 113.8L374.8 114.2L374.9 112.8L375.0 114.7L375.1 113.5L375.2 114.9L375.3 112.8L375.4 114.5L375.5 114.6L375.6 114.1L375.7 114.9L375.8 114.4L375.9 115.2L376.0 114.4L376.1 115.1L376.2 115.8L376.3 114.8L376.4 115.0L376.5 116.7L376.6 116.0L376.7 117.5L376.8 115.7L376.9 115.1L377.0 113.6L377.1 115.8L377.2 115.1L377.3 114.8L377.4 115.7L377.5 118.5L377.6 117.1L377.7 116.3L377.8 116.5L377.9 116.8L378.0 118.0L378.1 119.1L378.2 116.8L378.3 116.1L378.4 117.9L378.5 116.9L378.6 118.1L378.7 117.8L378.8 118.4L378.9 117.0L379.0 119.0L379.1 117.9L379.2 117.2L379.3 118.3L379.4 119.7L379.5 118.0L379.6 118.7L379.7 120.1L379.8 118.9L379.9 119.2L379.9 118.3L380.0 119.6L380.1 119.0L380.2 118.6L380.3 121.5L380.4 118.4L380.5 119.5L380.6 120.7L380.7 119.6L380.8 118.7L380.9 120.7L381.0 120.6L381.1 118.6L381.2 118.5L381.3 118.2L381.4 120.3L381.4 121.5L381.5 121.7L381.6 121.0L381.7 121.9L381.8 120.4L381.9 119.6L382.0 122.3L382.1 119.5L382.2 122.3L382.3 122.1L382.4 123.0L382.5 120.7L382.6 121.7L382.6 121.7L382.7 125.3L382.8 122.6L382.9 121.7L383.0 125.4L383.1 120.1L383.2 122.0L383.3 121.2L383.4 122.9L383.5 121.6L383.5 121.3L383.6 120.0L383.7 124.1L383.8 120.7L383.9 124.3L384.0 123.0L384.1 123.7L384.2 123.5L384.3 125.8L384.3 123.9L384.4 125.0L384.5 123.9L384.6 123.5L384.7 123.8L384.8 124.1L384.9 122.5L385.0 123.8L385.1 123.6L385.1 122.8L385.2 124.5L385.3 124.4L385.4 123.9L385.5 125.1L385.6 123.4L385.7 125.7L385.7 125.3L385.8 125.3L385.9 125.6L386.0 125.4L386.1 126.0L386.2 128.6L386.3 124.3L386.4 126.3L386.4 125.0L386.5 127.3L386.6 125.4L386.7 127.8L386.8 124.6L386.9 126.5L386.9 127.0L387.0 130.3L387.1 129.6L387.2 127.4L387.3 127.7L387.4 127.8L387.5 127.8L387.5 126.1L387.6 127.8L387.7 127.9L387.8 128.5L387.9 129.0L388.0 127.3L388.0 128.4L388.1 128.4L388.2 127.7L388.3 128.1L388.4 127.3L388.5 127.4L388.5 130.1L388.6 129.6L388.7 127.5L388.8 129.2L388.9 128.1L388.9 130.1L389.0 132.3L389.1 132.1L389.2 130.2L389.3 129.9L389.4 126.6L389.4 128.6L389.5 128.8L389.6 128.6L389.7 132.0L389.8 129.9L389.8 130.2L389.9 127.7L390.0 131.2L390.1 132.3L390.2 130.4L390.2 130.8L390.3 130.5L390.4 130.5L390.5 130.7L390.6 131.8L390.6 131.6L390.7 128.2L390.8 132.1L390.9 130.7L391.0 132.8L391.0 133.9L391.1 130.5L391.2 131.5L391.3 130.1L391.4 130.5L391.4 131.7L391.5 133.1L391.6 129.7L391.7 132.2L391.8 129.6L391.8 131.5L391.9 131.3L392.0 131.8L392.1 132.1L392.1 133.1L392.2 129.9L392.3 134.2L392.4 135.2L392.5 132.8L392.5 134.2L392.6 132.1L392.7 133.7L392.8 132.0L392.8 133.6L392.9 134.9L393.0 134.4L393.1 133.1L393.1 135.0L393.2 135.4L393.3 134.6L393.4 134.0L393.5 132.9L393.5 134.1L393.6 133.6L393.7 135.2L393.8 132.5L393.8 132.2L393.9 136.2L394.0 135.0L394.1 135.6L394.1 135.1L394.2 136.1L394.3 136.8L394.4 137.8L394.4 136.7L394.5 136.1L394.6 134.8L394.7 135.6L394.7 137.1L394.8 137.6L394.9 138.9L395.0 135.9L395.0 136.8L395.1 136.2L395.2 136.1L395.3 136.6L395.3 137.6L395.4 138.0L395.5 139.2L395.5 138.8L395.6 137.3L395.7 135.0L395.8 138.8L395.8 138.0L395.9 134.1L396.0 138.5L396.1 139.2L396.1 138.9L396.2 139.4L396.3 142.2L396.3 138.1L396.4 142.2L396.5 140.4L396.6 140.4L396.6 139.2L396.7 140.3L396.8 140.9L396.9 141.7L396.9 140.1L397.0 141.1L397.1 141.9L397.1 143.0L397.2 142.4L397.3 141.0L397.4 143.9L397.4 141.3L397.5 141.6L397.6 140.1L397.6 143.1L397.7 143.7L397.8 142.5L397.9 143.1L397.9 147.1L398.0 141.0L398.1 142.6L398.1 142.9L398.2 144.6L398.3 142.9L398.3 144.1L398.4 141.4L398.5 142.9L398.6 141.9L398.6 146.4L398.7 146.0L398.8 145.4L398.8 145.9L398.9 142.5L399.0 144.6L399.0 147.2L399.1 146.0L399.2 142.8L399.3 146.4L399.3 145.1L399.4 149.3L399.5 147.4L399.5 146.9L399.6 147.2L399.7 147.0L399.7 146.6L399.8 145.5L399.9 150.7L399.9 147.6L400.0 146.7L400.1 147.7L400.1 146.4L400.2 148.7L400.3 149.4L400.4 150.3L400.4 147.5L400.5 151.6L400.6 150.2L400.6 149.7L400.7 148.8L400.8 150.6L400.8 152.0L400.9 149.4L401.0 152.8L401.0 152.2L401.1 154.9L401.2 150.9L401.2 151.2L401.3 155.0L401.4 152.3L401.4 151.1L401.5 153.5L401.6 155.8L401.6 152.9L401.7 151.8L401.8 156.8L401.8 151.8L401.9 153.7L402.0 152.0L402.0 156.0L402.1 152.4L402.2 153.7L402.2 153.1L402.3 154.6L402.4 153.1L402.4 155.5L402.5 156.2L402.6 157.6L402.6 159.0L402.7 155.8L402.8 156.9L402.8 156.6L402.9 157.2L402.9 156.1L403.0 156.9L403.1 158.4L403.1 156.0L403.2 153.7L403.3 159.7L403.3 158.9L403.4 157.1L403.5 160.0L403.5 156.6L403.6 160.3L403.7 161.6L403.7 161.3L403.8 157.3L403.9 164.2L403.9 159.6L404.0 164.9L404.0 158.7L404.1 159.6L404.2 159.3L404.2 156.6L404.3 161.2L404.4 158.9L404.4 160.2L404.5 159.5L404.6 163.5L404.6 159.7L404.7 162.9L404.7 159.4L404.8 160.7L404.9 162.7L404.9 161.8L405.0 162.2L405.1 163.0L405.1 158.4L405.2 165.9L405.2 167.4L405.3 167.6L405.4 165.3L405.4 165.1L405.5 163.7L405.6 163.3L405.6 165.1L405.7 165.6L405.7 168.4L405.8 164.2L405.9 163.6L405.9 167.2L406.0 165.5L406.1 168.9L406.1 167.7L406.2 167.7L406.2 166.2L406.3 172.1L406.4 168.5L406.4 166.9L406.5 168.4L406.5 167.9L406.6 176.4L406.7 172.2L406.7 171.3L406.8 172.4L406.9 177.2L406.9 168.5L407.0 170.7L407.0 176.9L407.1 173.1L407.2 172.0L407.2 170.0L407.3 170.9L407.3 175.6L407.4 174.8L407.5 172.8L407.5 171.1L407.6 175.0L407.6 175.8L407.7 172.8L407.8 174.2L407.8 171.4L407.9 173.8L407.9 172.7L408.0 181.3L408.2 175.5L408.3 177.4L408.4 175.5L408.4 179.2L408.5 174.7L408.5 175.2L408.6 182.9L408.7 181.0L408.7 179.9L408.8 176.1L408.8 176.3L408.9 173.9L409.0 183.5L409.0 178.4L409.1 179.3L409.1 180.2L409.2 180.0L409.3 186.4L409.5 176.6L409.5 182.8L409.6 180.2L409.7 183.1L409.7 186.2L409.8 182.8L409.8 180.6L409.9 184.9L410.0 180.4L410.0 177.3L410.2 185.0L410.2 180.0L410.3 187.4L410.4 186.3L410.4 178.2L410.5 182.1L410.5 181.9L410.6 184.4L410.6 175.9L410.7 175.3L410.8 184.4L410.9 185.1L411.0 180.5L411.0 180.8L411.1 185.5L411.2 183.6L411.2 177.1L411.3 182.2L411.3 181.0L411.5 189.4L411.6 189.1L411.6 191.9L411.7 189.9L411.7 189.3L411.8 184.1L411.8 192.5L411.9 185.4L411.9 194.1L412.0 179.5L412.1 189.1L412.2 188.2L412.3 187.4L412.3 187.4L412.4 186.2L412.5 189.8L412.5 182.9L412.7 189.1L412.8 190.8L412.8 189.4L412.9 187.6L413.0 195.1L413.0 190.6L413.1 188.1L413.2 194.0L413.3 189.4L413.3 190.5L413.4 189.2L413.4 193.2L413.5 198.4L413.6 201.5L413.6 180.0L413.7 194.4L413.8 197.8L413.8 186.8L414.0 196.1L414.0 188.4L414.1 194.8L414.2 187.9L414.2 192.5L414.3 202.0L414.4 184.9L414.5 198.0L414.5 194.0L414.6 196.4L414.7 193.6L414.8 192.2L414.9 195.2L414.9 194.7L415.0 193.8L415.0 197.7L415.2 190.6L415.2 191.9L415.3 192.6L415.4 197.7L415.4 190.7L415.5 196.2L415.5 195.4L415.6 196.6L415.7 192.7L415.7 197.7L415.8 193.1L416.0 199.1L416.0 191.5L416.2 202.4L416.3 192.9L416.5 200.3L416.5 190.8L416.6 194.7L416.6 194.3L416.7 193.9L416.8 193.4L417.0 203.1L417.0 199.2L417.1 193.7L417.1 203.1L417.2 195.4L417.3 199.1L417.4 202.4L417.4 197.3L417.5 200.5L417.5 201.1L417.7 194.7L417.7 203.4L417.8 196.6L417.9 207.1L418.0 198.6L418.0 199.1L418.1 208.4L418.2 193.9L418.2 196.0L418.3 196.6L418.3 206.4L418.5 201.4L418.5 199.4L418.6 206.7L418.6 195.5L418.7 196.6L418.8 194.5L418.8 207.5L419.0 205.4L419.0 196.8L419.1 191.1L419.1 204.7L419.2 199.9L419.3 199.6L419.4 197.6L419.4 203.0L419.5 202.1L419.5 194.4L419.7 208.7L419.7 198.8L419.8 198.3L419.9 195.0L419.9 210.4L420.0 197.7L420.0 208.3L420.1 210.4L420.2 198.2L420.2 201.8L420.3 203.4L420.4 211.9L420.5 200.7L420.5 204.6L420.6 209.0L420.7 201.2L420.7 203.4L420.8 201.2L420.8 196.4L420.9 204.6L421.0 200.7L421.0 207.7L421.1 196.4L421.2 208.3L421.3 202.9L421.3 204.0L421.4 195.0L421.5 195.9L421.5 202.9L421.6 198.7L421.7 207.0L421.8 197.3L421.9 211.9L422.0 205.2L422.0 205.8L422.1 202.3L422.2 209.0L422.3 196.4L422.3 208.3L422.4 195.9L422.5 202.3L422.5 218.4L422.7 197.3L422.8 209.7L422.8 196.8L423.0 215.8L423.0 196.4L423.1 209.7L423.2 201.8L423.3 198.2L423.4 215.0L423.5 209.0L423.5 203.4L423.6 205.2L423.7 198.2L423.7 204.6L423.8 212.6L423.8 204.6L424.0 205.8L424.0 205.2L424.1 216.7L424.1 202.9L424.2 204.0L424.3 205.8L424.3 201.8L424.3 214.2L424.5 207.7L424.5 205.8L424.6 201.8L424.7 209.7L424.7 208.3L424.8 204.6L424.8 211.1L425.0 202.9L425.0 202.9L425.2 209.7L425.3 205.8L425.3 201.2L425.4 212.6L425.5 209.0L425.5 203.4L425.6 215.0L425.7 199.7L425.7 205.8L425.8 205.2L425.9 214.2L426.0 207.0L426.0 208.3L426.2 211.9L426.2 202.3L426.3 214.2L426.4 197.7L426.5 205.2L426.5 215.0L426.6 205.2L426.7 207.0L426.8 226.8L426.8 204.6L427.0 207.7L427.0 213.4L427.1 204.6L427.2 211.1L427.3 208.3L427.3 201.8L427.5 217.5L427.5 207.0L427.6 209.7L427.7 197.3L427.8 211.1L427.9 213.4L428.0 205.2L428.0 205.8L428.1 204.0L428.2 215.0L428.2 209.0L428.3 218.4L428.3 203.4L428.5 207.0L428.5 215.8L428.6 218.4L428.7 202.9L428.8 209.0L428.8 204.0L428.9 217.5L429.0 209.0L429.0 212.6L429.1 205.8L429.1 215.0L429.2 206.4L429.3 213.4L429.4 207.7L429.5 222.4L429.5 211.9L429.6 204.0L429.6 214.2L429.7 211.9L429.8 215.8L429.8 211.1L430.0 218.4L430.0 219.4L430.2 206.4L430.3 208.3L430.4 205.2L430.5 214.2L430.5 207.7L430.6 206.4L430.6 211.9L430.7 210.4L430.8 221.3L430.9 204.0L431.0 215.8L431.0 208.3L431.2 215.8L431.3 215.8L431.3 219.4L431.4 207.7L431.5 217.5L431.5 214.2L431.5 216.7L431.7 209.0L431.8 216.7L431.8 210.4L432.0 224.5L432.0 213.4L432.0 224.5L432.1 202.9L432.2 226.8L432.2 212.6L432.3 219.4L432.4 204.6L432.5 212.6L432.5 213.4L432.7 220.3L432.7 210.4L432.8 215.8L432.9 205.2L433.0 218.4L433.0 209.7L433.2 222.4L433.2 207.7L433.3 209.0L433.4 224.5L433.5 222.4L433.5 209.7L433.6 222.4L433.7 213.4L433.8 217.5L433.8 210.4L434.0 211.9L434.0 216.7L434.1 214.2L434.2 228.0L434.2 223.4L434.3 222.4L434.3 205.8L434.4 224.5L434.5 219.4L434.5 218.4L434.6 214.2L434.6 225.6L434.7 219.4L434.8 225.6L434.9 215.8L435.0 216.7L435.0 224.5L435.1 206.4L435.2 224.5L435.3 218.4L435.4 212.6L435.4 226.8L435.5 220.3L435.5 219.4L435.6 211.1L435.7 221.3L435.7 217.5L435.8 210.4L435.9 244.0L436.0 217.5L436.0 215.0L436.1 212.6L436.2 226.8L436.2 224.5L436.3 217.5L436.4 214.2L436.5 226.8L436.5 224.5L436.7 216.7L436.7 225.6L436.7 223.4L436.8 229.3L436.8 211.9L437.0 222.4L437.0 224.5L437.1 232.0L437.2 217.5L437.2 217.5L437.3 217.5L437.5 224.5L437.5 230.6L437.6 216.7L437.7 233.5L437.7 223.4L437.8 226.8L437.8 215.0L437.9 233.5L438.0 223.4L438.0 220.3L438.1 217.5L438.2 236.6L438.2 217.5L438.3 226.8L438.3 233.5L438.4 217.5L438.5 223.4L438.5 226.8L438.7 235.0L438.7 215.0L438.8 228.0L438.9 221.3L439.0 236.6L439.0 235.0L439.1 242.0L439.2 225.6L439.3 228.0L439.3 222.4L439.4 233.5L439.5 232.0L439.5 224.5L439.6 218.4L439.6 235.0L439.7 230.6L439.8 220.3L439.9 218.4L440.0 238.3L440.0 228.0L440.0 232.0L440.1 233.5L440.2 223.4L440.3 226.8L440.4 233.5L440.5 219.4L440.5 229.3L440.6 240.1L440.6 221.3L440.7 223.4L440.8 236.6L440.9 223.4L441.0 229.3L441.0 230.6L441.1 219.4L441.2 238.3L441.3 233.5L441.3 236.6L441.4 222.4L441.5 229.3L441.5 230.6L441.6 240.1L441.6 225.6L441.7 226.8L441.8 229.3L441.8 218.4L441.9 248.5L442.0 235.0L442.0 229.3L442.0 225.6L442.2 238.3L442.2 232.0L442.3 229.3L442.4 225.6L442.5 251.0L442.5 236.6L442.5 235.0L442.7 224.5L442.7 232.0L442.8 240.1L442.8 242.0L442.8 228.0L443.0 230.6L443.0 240.1L443.2 244.0L443.2 222.4L443.2 244.0L443.3 226.8L443.4 248.5L443.5 229.3L443.5 240.1L443.7 226.8L443.7 248.5L443.7 246.1L443.8 246.1L443.8 226.8L444.0 236.6L444.0 238.3L444.0 248.5L444.1 226.8L444.2 246.1L444.3 235.0L444.3 225.6L444.5 229.3L444.5 235.0L444.6 226.8L444.7 251.0L444.8 235.0L444.9 229.3L445.0 244.0L445.0 259.9L445.2 225.6L445.2 228.0L445.3 242.0L445.3 230.6L445.5 233.5L445.5 236.6L445.5 221.3L445.6 248.5L445.7 236.6L445.8 242.0L445.8 235.0L446.0 256.6L446.0 246.1L446.0 246.1L446.1 235.0L446.2 235.0L446.3 238.3L446.3 230.6L446.4 246.1L446.5 230.6L446.5 244.0L446.6 256.6L446.7 242.0L446.7 244.0L446.8 242.0L446.8 238.3L447.0 259.9L447.0 238.3L447.2 251.0L447.3 253.7L447.4 229.3L447.5 240.1L447.5 251.0L447.6 230.6L447.6 267.8L447.7 238.3L447.8 251.0L447.8 236.6L448.0 246.1L448.0 242.0L448.1 230.6L448.2 256.6L448.3 246.1L448.3 251.0L448.3 238.3L448.5 238.3L448.5 244.0L448.6 253.7L448.7 232.0L448.8 236.6L448.9 267.8L449.0 263.6L449.0 240.1L449.1 263.6L449.2 246.1L449.3 267.8L449.4 240.1L449.5 240.1L449.5 235.0L449.6 263.6L449.7 253.7L449.8 244.0L450.0 267.8L450.0 242.0L450.1 233.5L450.2 259.9L450.3 242.0L450.4 253.7L450.4 233.5L450.5 244.0L450.5 259.9L450.6 232.0L450.7 242.0L450.8 259.9L450.8 240.1L451.0 267.8L451.0 272.6L451.2 240.1L451.3 259.9L451.5 238.3L451.5 236.6L451.6 267.8L451.7 256.6L451.8 248.5L451.8 235.0L452.0 263.6L452.0 251.0L452.0 256.6L452.2 246.1L452.2 267.8L452.2 246.1L452.3 251.0L452.3 259.9L452.3 240.1L452.5 246.1L452.5 251.0L452.6 259.9L452.7 240.1L452.7 248.5L452.8 253.7L452.8 238.3L452.9 285.2L453.0 263.6L453.0 259.9L453.0 248.5L453.2 285.2L453.2 267.8L453.3 256.6L453.3 267.8L453.4 248.5L453.5 248.5L453.5 256.6L453.5 278.3L453.7 242.0L453.7 256.6L453.8 256.6L453.8 244.0L453.9 259.9L454.0 248.5L454.0 248.5L454.1 278.3L454.2 256.6L454.3 253.7L454.3 236.6L454.4 267.8L454.5 253.7L454.5 248.5L454.6 285.2L454.6 244.0L454.7 259.9L454.8 267.8L454.9 242.0L455.0 259.9L455.0 251.0L455.1 242.0L455.2 272.6L455.3 259.9L455.3 246.1L455.5 253.7L455.5 246.1L455.6 285.2L455.7 256.6L455.8 263.6L455.8 294.2L455.8 246.1L456.0 259.9L456.0 256.6L456.1 263.6L456.1 251.0L456.2 259.9L456.3 256.6L456.3 328.5L456.4 251.0L456.5 272.6L456.5 248.5L456.7 278.3L456.7 251.0L456.8 267.8L456.8 248.5L457.0 285.2L457.0 256.6L457.1 246.1L457.2 259.9L457.2 259.9L457.3 267.8L457.4 278.3L457.4 251.0L457.5 263.6L457.5 267.8L457.6 253.7L457.6 272.6L457.7 259.9L457.8 256.6L457.8 294.2L458.0 248.5L458.0 272.6L458.0 306.9L458.0 256.6L458.2 285.2L458.3 259.9L458.3 285.2L458.3 256.6L458.5 263.6L458.5 267.8L458.5 285.2L458.6 253.7L458.7 267.8L458.8 248.5L459.0 306.9L459.0 251.0L459.2 306.9L459.2 263.6L459.3 263.6L459.4 256.6L459.4 285.2L459.5 278.3L459.5 267.8L459.6 253.7L459.7 294.2L459.8 263.6L459.9 328.5L459.9 248.5L460.0 253.7L460.0 278.3L460.2 256.6L460.3 263.6L460.3 306.9L460.4 253.7L460.5 294.2L460.5 278.3L460.6 256.6L460.7 328.5L460.7 278.3L460.8 272.6L460.8 294.2L460.9 256.6L461.0 285.2L461.0 259.9L461.0 272.6L461.2 248.5L461.2 267.8L461.3 263.6L461.3 285.2L461.4 251.0L461.5 263.6L461.5 272.6L461.6 253.7L461.7 328.5L461.7 278.3L461.8 285.2L461.8 263.6L462.0 285.2L462.0 272.6L462.0 285.2L462.1 263.6L462.2 278.3L462.3 278.3L462.3 253.7L462.5 285.2L462.5 259.9L462.5 285.2L462.6 253.7L462.7 328.5L462.7 267.8L462.8 285.2L463.0 263.6L463.0 328.5L463.1 259.9L463.2 267.8L463.3 278.3L463.4 259.9L463.4 306.9L463.5 285.2L463.5 278.3L463.5 328.5L463.6 272.6L463.7 294.2L463.8 263.6L464.0 328.5L464.0 328.5L464.2 263.6L464.2 263.6L464.3 256.6L464.4 294.2L464.5 278.3L464.5 285.2L464.5 328.5L464.7 259.9L464.7 263.6L464.8 278.3L464.8 263.6L464.9 328.5L465.0 263.6L465.0 328.5L465.2 263.6L465.2 328.5L465.3 272.6L465.4 294.2L465.5 263.6L465.5 285.2L465.5 272.6L465.6 263.6L465.7 306.9L465.7 278.3L465.8 272.6L465.9 294.2L465.9 263.6L466.0 278.3L466.0 285.2L466.0 263.6L466.1 306.9L466.2 294.2L466.3 328.5L466.3 267.8L466.5 278.3L466.5 263.6L466.7 306.9L466.7 278.3L466.8 285.2L466.8 328.5L466.8 259.9L467.0 285.2L467.0 278.3L467.1 306.9L467.2 267.8L467.2 285.2M467.3 267.8L467.3 328.5L467.4 259.9L467.5 285.2L467.5 328.5L467.6 272.6L467.7 294.2L467.8 294.2L467.8 328.5L468.0 278.3L468.0 294.2L468.0 306.9L468.0 278.3L468.1 328.5L468.1 285.2M468.2 306.9L468.2 278.3L468.3 294.2L468.3 306.9L468.4 267.8L468.4 294.2M468.5 278.3L468.5 285.2L468.6 272.6L468.7 328.5L468.7 285.2L468.8 294.2L468.8 328.5L468.8 285.2L469.0 306.9L469.0 328.5L469.1 259.9L469.2 294.2L469.3 328.5L469.5 285.2L469.5 294.2L469.5 285.2L469.5 272.6L469.5 328.5L469.7 328.5L469.8 294.2M469.8 285.2L469.8 278.3L469.9 328.5L470.0 294.2L470.0 328.5L470.0 306.9L470.1 328.5M470.2 285.2L470.2 306.9L470.2 294.2L470.3 285.2L470.3 306.9L470.3 306.9M470.4 285.2L470.4 285.2L470.4 306.9M470.5 306.9L470.5 328.5L470.5 285.2L470.6 328.5L470.7 328.5M470.8 328.5L470.8 328.5L470.9 306.9L470.9 294.2M470.9 285.2L470.9 328.5L471.0 285.2L471.0 294.2L471.0 328.5L471.0 306.9L471.0 294.2L471.1 328.5M471.2 328.5L471.2 294.2L471.3 306.9L471.3 278.3L471.4 294.2M471.5 328.5L471.5 294.2M471.5 328.5L471.6 328.5M471.6 294.2L471.6 328.5L471.6 294.2M471.7 328.5L471.7 328.5L471.7 306.9L471.7 328.5L471.8 294.2M471.8 328.5L471.8 306.9M471.9 328.5L472.0 285.2L472.0 294.2L472.0 306.9L472.1 328.5M472.1 306.9L472.1 285.2L472.1 306.9M472.2 328.5L472.2 328.5M472.2 294.2L472.3 328.5L472.3 306.9L472.3 328.5L472.3 328.5M472.4 328.5L472.4 328.5L472.4 328.5M472.5 306.9L472.5 328.5M472.6 306.9L472.6 328.5L472.7 306.9M472.8 306.9L472.8 328.5M472.9 306.9L472.9 306.9M473.0 294.2L473.0 306.9L473.0 328.5L473.0 294.2M473.2 306.9L473.2 294.2L473.2 328.5L473.2 306.9L473.3 328.5L473.3 306.9M473.3 285.2L473.3 306.9M473.5 328.5L473.5 328.5L473.5 328.5M473.5 328.5L473.6 306.9L473.6 306.9M473.7 328.5L473.7 328.5L473.7 328.5L473.8 328.5L474.0 285.2L474.0 328.5L474.0 294.2L474.1 306.9M474.1 328.5L474.2 328.5L474.2 306.9L474.2 328.5M474.3 306.9L474.3 328.5L474.3 306.9L474.4 328.5M474.4 306.9L474.4 306.9M474.5 328.5L474.5 306.9M474.6 328.5L474.6 306.9L474.7 306.9M474.7 328.5L474.7 328.5L474.7 306.9L474.8 306.9L474.8 328.5M474.9 306.9L474.9 328.5L474.9 328.5M475.1 306.9L475.2 328.5L475.2 328.5M475.3 328.5L475.3 328.5M475.3 328.5L475.3 306.9M475.4 328.5L475.4 306.9M475.4 328.5L475.5 328.5L475.5 328.5L475.5 328.5L475.5 328.5L475.5 328.5L475.6 306.9M475.7 306.9L475.7 306.9M475.8 328.5L475.8 328.5M476.0 328.5L476.0 306.9L476.0 328.5M476.1 294.2L476.1 306.9L476.1 328.5L476.1 294.2M476.3 328.5L476.3 306.9M476.4 306.9L476.4 328.5L476.5 328.5L476.5 328.5L476.5 328.5M476.6 328.5L476.6 328.5M476.7 285.2L476.8 328.5M476.9 328.5L477.0 328.5L477.0 328.5M477.4 328.5L477.4 328.5L477.4 328.5L477.4 328.5M477.5 328.5L477.5 306.9L477.6 328.5M477.7 328.5L477.7 328.5L477.7 328.5M477.8 328.5L477.8 328.5M478.0 328.5L478.0 328.5L478.0 328.5L478.0 328.5L478.0 328.5L478.1 306.9M478.2 328.5L478.2 328.5M478.2 328.5L478.2 328.5L478.3 328.5L478.3 328.5M478.3 328.5L478.4 328.5M478.5 328.5L478.6 328.5M478.6 306.9L478.6 306.9M478.7 328.5L478.7 306.9M479.0 306.9L479.0 306.9L479.1 328.5M479.4 306.9L479.4 328.5L479.5 294.2M479.6 328.5L479.7 328.5M479.8 328.5L479.8 328.5M479.9 328.5L479.9 328.5M480.1 328.5L480.1 328.5L480.2 328.5M480.3 328.5L480.3 328.5L480.3 328.5M480.4 306.9L480.5 294.2L480.5 328.5M480.5 328.5L480.5 328.5M480.6 328.5L480.6 306.9M480.8 328.5L480.8 328.5M481.0 328.5L481.1 306.9M481.5 328.5L481.5 328.5M482.1 328.5L482.1 328.5L482.1 328.5L482.1 328.5M482.2 328.5L482.2 328.5M482.6 306.9L482.6 328.5L482.6 328.5" fill="none" stroke="#ff0000" stroke-width="1.5" stroke-linejoin="round"/>
<path d="M100.0 29.9L135.3 30.0L157.4 30.0L173.6 30.2L186.4 30.5L197.0 30.2L206.0 30.6L213.8 30.9L220.7 31.2L226.9 31.4L232.6 31.7L237.7 31.8L242.5 32.2L246.9 32.7L251.0 33.1L254.9 33.2L258.5 33.7L261.9 33.9L265.1 34.4L268.2 35.2L271.1 35.4L273.9 35.8L276.6 36.6L279.1 37.4L281.6 37.9L284.0 38.2L286.2 38.7L288.4 39.2L290.5 39.7L292.6 40.3L294.5 40.7L296.4 41.0L298.3 41.4L300.1 41.9L301.8 42.0L303.5 42.3L305.2 42.8L306.8 43.1L308.4 43.7L309.9 43.9L311.4 44.3L312.8 44.7L314.3 44.9L315.6 45.4L317.0 45.9L318.3 46.5L319.6 46.7L320.9 47.0L322.1 47.7L323.4 48.3L324.6 48.7L325.7 49.2L326.9 50.0L328.0 50.5L329.1 51.3L330.2 51.8L331.3 52.5L332.3 53.0L333.4 53.9L334.4 54.4L335.4 55.0L336.4 55.7L337.3 56.4L338.3 56.8L339.2 57.6L340.1 58.4L341.0 58.7L341.9 59.6L342.8 59.9L343.7 61.0L344.6 61.2L345.4 61.6L346.2 62.5L347.1 62.9L347.9 63.8L348.7 64.5L349.5 65.1L350.2 65.5L351.0 66.1L351.8 66.8L352.5 67.5L353.3 68.3L354.0 69.3L354.7 69.7L355.4 69.9L356.1 71.2L356.8 71.4L357.5 72.0L358.2 73.1L358.9 73.3L359.6 74.1L360.2 74.5L360.9 75.2L361.5 75.8L362.2 76.6L362.8 77.4L363.4 77.2L364.1 78.3L364.7 78.7L365.3 79.3L365.9 79.8L366.5 80.5L367.1 80.7L367.7 81.4L368.2 82.0L368.8 82.5L369.4 82.8L369.9 83.6L370.5 83.8L371.1 84.1L371.6 84.7L372.1 85.3L372.7 86.3L373.2 86.2L373.7 86.8L374.3 87.0L374.8 88.0L375.3 88.4L375.8 88.4L376.3 89.5L376.8 89.5L377.3 90.1L377.8 91.4L378.3 91.3L378.8 91.8L379.3 92.5L379.8 93.1L380.2 93.1L380.7 93.8L381.2 94.2L381.6 94.8L382.1 95.1L382.6 95.3L383.0 95.7L383.5 96.3L383.9 97.0L384.3 97.4L384.8 97.7L385.2 98.0L385.7 98.8L386.1 99.7L386.5 99.7L386.9 100.1L387.4 100.9L387.8 100.9L388.2 101.9L388.6 102.2L389.0 102.6L389.4 102.7L389.8 104.0L390.2 104.0L390.6 104.4L391.0 105.1L391.4 105.2L391.8 106.3L392.2 106.9L392.6 107.5L393.0 107.8L393.4 108.4L393.8 108.3L394.1 109.0L394.5 110.0L394.9 109.5L395.3 110.4L395.6 111.6L396.0 112.2L396.3 112.0L396.7 112.0L397.1 113.2L397.4 113.2L397.8 113.5L398.1 114.3L398.5 115.3L398.8 116.2L399.2 116.5L399.5 116.2L399.9 117.2L400.2 118.2L400.6 118.5L400.9 119.0L401.2 119.0L401.6 120.2L401.9 119.8L402.2 121.0L402.6 121.6L402.9 122.8L403.2 122.7L403.5 123.4L403.9 123.9L404.2 125.1L404.5 125.4L404.8 126.8L405.1 127.3L405.4 126.4L405.7 128.3L406.1 129.2L406.4 129.0L406.7 130.2L407.0 129.5L407.3 131.4L407.6 131.8L407.9 132.9L408.2 132.9L408.5 134.1L408.8 133.3L409.1 135.8L409.4 135.8L409.7 136.3L410.0 138.0L410.2 138.2L410.5 139.0L410.8 140.2L411.1 139.6L411.4 142.1L411.7 141.7L411.9 142.3L412.2 142.0L412.5 142.8L412.8 142.7L413.1 143.2L413.3 144.4L413.6 145.7L413.9 145.2L414.2 146.7L414.4 147.0L414.7 147.4L415.0 147.0L415.2 146.7L415.5 148.2L415.8 149.8L416.0 149.4L416.3 149.6L416.5 151.6L416.8 151.4L417.1 152.5L417.3 152.9L417.6 152.9L417.8 153.4L418.1 154.5L418.3 154.4L418.6 155.8L418.8 155.5L419.1 155.7L419.3 156.6L419.6 157.9L419.8 157.8L420.1 157.4L420.3 157.4L420.6 157.8L420.8 158.2L421.1 158.1L421.3 160.2L421.5 159.4L421.8 161.4L422.0 159.7L422.3 160.8L422.5 162.8L422.7 161.8L423.0 162.0L423.2 163.9L423.4 163.3L423.7 163.2L423.9 162.8L424.1 165.2L424.3 163.8L424.6 166.4L424.8 166.6L425.0 165.1L425.3 166.0L425.5 167.7L425.7 166.0L425.9 167.3L426.2 167.9L426.4 168.7L426.6 171.2L426.8 169.1L427.0 168.6L427.3 169.8L427.5 169.4L427.7 170.5L427.9 169.5L428.1 174.0L428.3 170.9L428.5 172.6L428.8 171.8L429.0 171.7L429.2 171.5L429.4 172.2L429.6 172.1L429.8 174.6L430.0 173.7L430.2 176.4L430.4 174.1L430.6 176.4L430.9 173.9L431.1 175.1L431.3 175.8L431.5 176.5L431.7 175.9L431.9 177.0L432.1 178.2L432.3 176.5L432.5 178.1L432.7 177.0L432.9 178.7L433.1 179.3L433.3 175.9L433.5 177.9L433.7 177.5L433.9 179.3L434.1 179.3L434.3 179.5L434.4 177.7L434.6 179.3L434.8 180.1L435.0 180.5L435.2 180.7L435.4 179.8L435.6 181.2L435.8 181.4L436.0 180.2L436.2 180.8L436.4 181.3L436.5 180.2L436.7 182.7L436.9 184.2L437.1 185.0L437.3 183.4L437.5 183.3L437.7 182.7L437.8 185.7L438.0 185.9L438.2 184.8L438.4 185.1L438.6 186.7L438.7 185.4L438.9 184.6L439.1 186.0L439.3 183.2L439.5 185.3L439.6 187.4L439.8 186.9L440.0 188.6L440.2 184.5L440.4 187.6L440.5 187.9L440.7 186.9L440.9 188.4L441.0 189.1L441.2 188.6L441.4 187.4L441.6 187.7L441.7 191.0L441.9 191.6L442.1 189.1L442.3 190.3L442.4 190.7L442.6 189.0L442.8 190.0L442.9 191.5L443.1 190.2L443.3 192.2L443.4 192.2L443.6 189.3L443.8 192.2L443.9 191.4L444.1 192.7L444.3 193.0L444.4 194.4L444.6 194.6L444.8 191.6L444.9 190.6L445.1 192.8L445.2 193.1L445.4 194.9L445.6 194.4L445.7 192.5L445.9 191.4L446.1 194.0L446.2 194.7L446.4 193.9L446.5 195.5L446.7 197.0L446.8 197.4L447.0 196.7L447.2 197.1L447.3 200.4L447.5 199.7L447.6 196.0L447.8 196.0L447.9 196.5L448.1 198.2L448.3 199.1L448.4 198.3L448.6 198.0L448.7 199.4L448.9 197.3L449.0 200.2L449.2 203.1L449.3 198.5L449.5 198.4L449.6 200.2L449.8 198.6L449.9 198.6L450.1 204.8L450.2 200.2L450.4 202.9L450.5 200.1L450.7 201.0L450.8 200.3L451.0 202.2L451.1 203.0L451.3 201.8L451.4 198.8L451.6 201.9L451.7 204.5L451.9 203.1L452.0 203.6L452.1 201.4L452.3 203.4L452.4 204.3L452.6 203.7L452.7 205.4L452.9 203.7L453.0 206.5L453.1 205.6L453.3 204.7L453.4 207.6L453.6 207.7L453.7 206.9L453.9 203.4L454.0 204.6L454.1 206.1L454.3 204.7L454.4 205.1L454.6 207.8L454.7 208.9L454.8 205.1L455.0 208.5L455.1 206.4L455.2 210.5L455.4 208.1L455.5 210.3L455.7 207.2L455.8 207.2L455.9 208.0L456.1 207.5L456.2 210.0L456.3 208.5L456.5 208.4L456.6 211.2L456.7 208.7L456.9 209.5L457.0 209.3L457.1 210.8L457.3 210.6L457.4 209.9L457.5 210.7L457.7 210.1L457.8 213.8L457.9 209.8L458.1 213.2L458.2 210.0L458.3 214.8L458.5 213.4L458.6 211.9L458.7 211.8L458.9 213.6L459.0 214.7L459.1 212.0L459.2 211.4L459.4 215.2L459.5 216.1L459.6 215.0L459.8 214.3L459.9 217.8L460.0 216.4L460.1 213.3L460.3 216.3L460.4 216.6L460.5 212.3L460.6 213.2L460.8 212.4L460.9 215.6L461.0 216.1L461.1 216.8L461.3 219.2L461.4 220.8L461.5 216.7L461.6 218.2L461.8 215.6L461.9 215.1L462.0 220.4L462.1 220.2L462.3 217.1L462.4 214.9L462.5 214.8L462.6 219.4L462.7 218.0L462.9 215.5L463.0 220.1L463.1 220.8L463.2 216.2L463.3 220.5L463.5 221.7L463.6 216.2L463.7 220.4L463.8 220.5L463.9 218.6L464.1 216.9L464.2 218.5L464.3 219.7L464.4 219.5L464.5 219.7L464.7 220.1L464.8 224.8L464.9 220.4L465.0 224.2L465.1 223.0L465.2 221.3L465.4 222.0L465.5 221.1L465.6 222.1L465.7 221.2L465.8 218.6L465.9 225.0L466.1 220.4L466.2 219.0L466.3 223.9L466.4 223.9L466.5 223.5L466.6 222.5L466.7 225.2L466.9 224.6L467.0 224.0L467.1 223.9L467.2 221.2L467.3 225.5L467.4 222.7L467.5 223.0L467.6 224.4L467.8 224.7L467.9 227.1L468.0 227.0L468.1 224.6L468.2 225.1L468.3 226.4L468.4 223.4L468.5 225.7L468.6 226.1L468.8 226.7L468.9 224.1L469.0 225.4L469.1 226.1L469.2 230.1L469.3 223.4L469.4 230.7L469.5 226.5L469.6 230.5L469.7 231.6L469.9 236.6L470.0 227.8L470.1 227.6L470.2 229.4L470.3 229.8L470.4 232.3L470.5 229.1L470.6 229.9L470.7 233.2L470.8 230.7L470.9 230.5L471.0 232.7L471.1 227.4L471.2 233.5L471.3 225.8L471.5 227.7L471.6 231.7L471.7 226.9L471.8 228.2L471.9 228.0L472.0 230.7L472.1 233.8L472.2 237.2L472.3 230.8L472.4 232.0L472.5 233.4L472.6 227.2L472.7 230.9L472.8 236.3L472.9 232.7L473.0 231.2L473.1 236.0L473.2 232.3L473.3 233.8L473.4 237.2L473.5 232.2L473.6 231.7L473.7 241.1L473.8 232.5L473.9 235.3L474.0 234.8L474.1 238.7L474.2 236.9L474.3 230.0L474.4 232.7L474.5 235.1L474.6 234.5L474.7 237.2L474.8 235.4L474.9 237.5L475.0 234.6L475.1 238.6L475.2 235.1L475.3 233.7L475.4 236.7L475.5 235.5L475.6 235.4L475.7 237.7L475.8 240.5L475.9 233.8L476.0 236.4L476.1 237.6L476.2 233.7L476.3 239.4L476.4 238.6L476.5 239.3L476.6 240.4L476.7 238.0L476.8 239.5L476.9 234.2L477.0 239.9L477.1 234.9L477.2 240.8L477.3 239.3L477.4 238.4L477.5 241.2L477.6 236.9L477.7 240.6L477.8 240.9L477.8 237.3L477.9 241.5L478.0 237.7L478.1 236.7L478.2 237.5L478.3 236.0L478.4 241.1L478.5 236.7L478.6 241.8L478.7 245.4L478.8 241.0L478.9 235.4L479.0 243.7L479.1 236.1L479.2 245.4L479.3 238.6L479.3 239.8L479.4 242.7L479.5 248.9L479.6 239.7L479.7 239.9L479.8 240.5L479.9 239.3L480.0 244.6L480.1 236.9L480.2 239.8L480.3 244.9L480.4 236.8L480.4 242.7L480.5 241.6L480.6 240.6L480.7 245.9L480.8 246.1L480.9 243.9L481.0 247.2L481.1 244.3L481.2 239.9L481.3 247.6L481.3 243.8L481.4 246.0L481.5 241.9L481.6 248.3L481.7 248.2L481.8 245.3L481.9 239.2L482.0 248.1L482.1 251.0L482.1 248.6L482.2 243.3L482.3 242.8L482.4 245.9L482.5 245.1L482.6 250.7L482.7 244.9L482.8 246.7L482.8 248.4L482.9 243.5L483.0 243.4L483.1 248.3L483.2 246.2L483.3 253.9L483.4 250.7L483.5 243.3L483.5 251.2L483.6 250.6L483.7 244.2L483.8 256.3L483.9 250.2L484.0 245.7L484.1 249.6L484.1 251.2L484.2 252.0L484.3 247.8L484.4 251.8L484.5 247.7L484.6 249.3L484.7 248.9L484.7 245.5L484.8 250.7L484.9 252.5L485.0 249.3L485.1 248.6L485.2 250.2L485.2 255.9L485.3 247.6L485.4 256.3L485.5 257.4L485.6 247.1L485.7 245.5L485.7 251.2L485.8 253.3L485.9 246.1L486.0 255.4L486.1 250.8L486.2 252.8L486.2 248.9L486.3 249.9L486.4 253.8L486.5 247.6L486.6 248.8L486.7 251.3L486.7 252.5L486.8 251.8L486.9 256.3L487.0 252.6L487.1 252.7L487.1 250.1L487.2 252.8L487.3 253.6L487.4 251.4L487.5 249.2L487.6 250.5L487.6 253.0L487.7 254.2L487.8 248.3L487.9 252.8L488.0 257.5L488.0 252.3L488.1 260.1L488.2 255.1L488.3 251.1L488.4 254.0L488.4 254.7L488.5 251.1L488.6 249.8L488.7 257.4L488.8 258.2L488.8 256.7L488.9 258.4L489.0 252.6L489.1 251.8L489.1 254.8L489.2 258.6L489.3 260.9L489.4 255.3L489.5 257.8L489.5 253.4L489.6 260.0L489.7 257.2L489.8 256.7L489.9 251.8L489.9 252.7L490.0 253.8L490.1 254.9L490.2 253.3L490.2 263.2L490.3 252.8L490.4 256.9L490.5 251.0L490.5 253.0L490.6 252.1L490.7 258.9L490.8 247.2L490.9 254.4L490.9 255.5L491.0 258.8L491.1 255.4L491.2 265.8L491.2 252.2L491.3 255.1L491.4 257.2L491.5 252.4L491.5 255.3L491.6 255.6L491.7 259.3L491.8 256.2L491.8 262.2L491.9 262.1L492.0 257.1L492.1 260.2L492.1 263.4L492.2 258.7L492.3 265.9L492.4 252.7L492.4 261.9L492.5 261.9L492.6 253.0L492.7 264.8L492.7 268.5L492.8 258.7L492.9 259.9L493.0 255.2L493.0 259.2L493.1 266.0L493.2 258.8L493.3 260.3L493.3 254.9L493.4 258.3L493.5 263.4L493.5 262.4L493.6 259.7L493.7 261.5L493.8 259.1L493.8 258.9L493.9 265.0L494.0 259.3L494.1 257.2L494.1 265.4L494.2 266.6L494.3 257.6L494.3 258.4L494.4 257.1L494.5 254.4L494.6 261.2L494.6 265.3L494.7 260.1L494.8 263.8L494.9 259.6L494.9 258.4L495.0 260.9L495.1 259.2L495.1 261.6L495.2 260.6L495.3 266.7L495.4 255.5L495.4 264.3L495.5 263.8L495.6 264.9L495.6 263.2L495.7 263.8L495.8 271.3L495.8 256.8L495.9 261.1L496.0 263.8L496.1 262.7L496.1 258.6L496.2 259.6L496.3 261.6L496.3 259.6L496.4 275.9L496.5 259.6L496.5 264.3L496.6 266.7L496.7 267.9L496.8 263.2L496.8 271.3L496.9 262.1L497.0 267.3L497.0 261.1L497.1 272.0L497.2 262.7L497.2 266.1L497.3 269.2L497.4 259.6L497.4 260.1L497.5 268.6L497.6 266.1L497.7 259.1L497.7 264.3L497.8 267.9L497.9 269.2L497.9 268.6L498.0 262.7L498.1 261.6L498.1 267.3L498.2 269.9L498.3 269.2L498.3 274.3L498.4 263.8L498.5 266.1L498.5 261.6L498.7 257.7L498.8 261.1L498.9 268.6L499.1 267.9L499.2 272.8L499.3 277.6L499.5 260.1L499.6 266.1L499.7 275.1L499.9 264.9L500.0 278.4L500.1 269.2L500.3 267.9L500.4 271.3L500.5 271.3L500.7 265.5L500.8 271.3L500.9 264.3L501.0 278.4L501.2 271.3L501.3 263.2L501.4 275.1L501.6 275.1L501.7 269.9L501.8 272.8L501.9 269.2L502.1 266.7L502.2 268.6L502.3 269.9L502.5 272.8L502.6 270.6L502.7 267.3L502.8 275.9L503.0 273.5L503.1 277.6L503.2 272.0L503.3 271.3L503.5 275.1L503.6 277.6L503.7 276.7L503.8 269.9L504.0 275.9L504.1 269.2L504.2 275.9L504.3 276.7L504.4 269.9L504.6 277.6L504.7 269.2L504.8 286.5L504.9 274.3L505.1 276.7L505.2 276.7L505.3 273.5L505.4 285.4L505.5 266.1L505.7 277.6L505.8 265.5L505.9 272.0L506.0 274.3L506.1 284.3L506.3 268.6L506.4 272.8L506.5 270.6L506.6 284.3L506.7 285.4L506.8 278.4L507.0 274.3L507.1 273.5L507.2 271.3L507.3 281.2L507.4 284.3L507.5 274.3L507.7 282.2L507.8 277.6L507.9 269.2L508.0 280.3L508.1 276.7L508.2 276.7L508.4 278.4L508.5 276.7L508.6 276.7L508.7 278.4L508.8 272.8L508.9 275.1L509.0 284.3L509.2 272.8L509.3 278.4L509.4 280.3L509.5 283.3L509.6 276.7L509.7 280.3L509.8 284.3L509.9 284.3L510.1 275.1L510.2 282.2L510.3 282.2L510.4 270.6L510.5 279.3L510.6 278.4L510.7 280.3L510.8 281.2L510.9 286.5L511.0 278.4L511.2 280.3L511.3 286.5L511.4 282.2L511.5 274.3L511.6 281.2L511.7 282.2L511.8 285.4L511.9 285.4L512.0 280.3L512.1 279.3L512.2 282.2L512.4 279.3L512.5 287.7L512.6 285.4L512.7 282.2L512.8 278.4L512.9 286.5L513.0 279.3L513.1 290.2L513.2 279.3L513.3 278.4L513.4 286.5L513.5 283.3L513.6 281.2L513.7 288.9L513.8 287.7L513.9 287.7L514.0 283.3L514.2 281.2L514.3 290.2L514.4 290.2L514.5 283.3L514.6 288.9L514.7 287.7L514.8 282.2L514.9 286.5L515.0 281.2L515.1 286.5L515.2 287.7L515.3 290.2L515.4 301.0L515.5 288.9L515.6 297.5L515.7 283.3L515.8 284.3L515.9 285.4L516.0 282.2L516.1 278.4L516.2 297.5L516.3 288.9L516.4 284.3L516.5 290.2L516.6 288.9L516.7 283.3L516.8 286.5L516.9 297.5L517.0 282.2L517.1 292.9L517.2 287.7L517.3 286.5L517.4 299.2L517.5 282.2L517.6 286.5L517.7 287.7L517.8 286.5L517.9 291.5L518.0 286.5L518.1 287.7L518.2 304.9L518.3 297.5L518.4 286.5L518.5 297.5L518.6 287.7L518.7 291.5L518.8 287.7L518.9 302.9L519.0 290.2L519.1 291.5L519.2 290.2L519.2 290.2L519.3 291.5L519.4 290.2L519.5 290.2L519.6 295.9L519.7 285.4L519.8 292.9L519.9 295.9L520.0 288.9L520.1 301.0L520.2 287.7L520.3 294.4L520.4 292.9L520.5 292.9L520.6 291.5L520.7 297.5L520.8 295.9L520.9 291.5L521.0 297.5L521.0 294.4L521.1 295.9L521.2 297.5L521.3 299.2L521.4 299.2L521.5 297.5L521.6 302.9L521.7 302.9L521.8 283.3L521.9 295.9L522.0 290.2L522.1 294.4L522.2 291.5L522.2 295.9L522.3 290.2L522.4 294.4L522.5 294.4L522.6 304.9L522.7 291.5L522.8 297.5L522.9 295.9L523.0 294.4L523.1 295.9L523.1 297.5L523.2 290.2L523.3 302.9L523.4 311.9L523.5 299.2L523.6 314.6L523.7 299.2L523.8 291.5L523.9 290.2L524.0 304.9L524.0 295.9L524.1 304.9L524.2 295.9L524.3 291.5L524.4 302.9L524.5 290.2L524.6 297.5L524.7 286.5L524.7 302.9L524.8 304.9L524.9 291.5L525.0 294.4L525.1 295.9L525.2 302.9L525.3 297.5L525.4 302.9L525.4 291.5L525.5 295.9L525.6 302.9L525.7 304.9L525.8 309.4L525.9 302.9L526.0 299.2L526.0 297.5L526.1 294.4L526.2 302.9L526.3 292.9L526.4 314.6L526.5 301.0L526.6 295.9L526.6 302.9L526.7 299.2L526.8 295.9L526.9 302.9L527.0 299.2L527.1 294.4L527.2 309.4L527.2 294.4L527.3 301.0L527.4 311.9L527.5 299.2L527.6 297.5L527.7 302.9L527.7 299.2L527.8 299.2L527.9 301.0L528.0 301.0L528.1 297.5L528.2 297.5L528.2 301.0L528.3 314.6L528.4 311.9L528.5 304.9L528.6 295.9L528.6 299.2L528.7 292.9L528.8 299.2L528.9 299.2L529.0 304.9L529.1 295.9L529.1 311.9L529.2 301.0L529.3 302.9L529.4 307.0L529.5 297.5L529.5 299.2L529.6 301.0L529.7 304.9L529.8 314.6L529.9 311.9L529.9 324.5L530.0 311.9L530.1 301.0L530.2 295.9L530.3 311.9L530.3 297.5L530.4 294.4L530.5 297.5L530.6 294.4L530.7 304.9L530.7 307.0L530.8 302.9L530.9 299.2L531.0 301.0L531.1 302.9L531.1 299.2L531.2 311.9L531.3 299.2L531.4 320.8L531.5 297.5L531.5 297.5L531.6 292.9L531.7 311.9L531.8 309.4L531.8 311.9L531.9 317.5L532.0 324.5L532.1 301.0L532.2 307.0L532.2 307.0L532.3 320.8L532.4 304.9L532.5 294.4L532.5 304.9L532.6 301.0L532.7 314.6L532.8 299.2L532.9 307.0L532.9 304.9L533.0 304.9L533.1 307.0L533.2 302.9L533.2 307.0L533.3 309.4L533.4 314.6L533.5 314.6L533.5 301.0L533.6 301.0L533.7 307.0L533.8 309.4L533.8 311.9L533.9 307.0L534.0 299.2L534.1 304.9L534.1 311.9L534.2 301.0L534.3 302.9L534.4 320.8L534.4 311.9L534.5 301.0L534.6 304.9L534.7 309.4L534.7 304.9L534.8 317.5L534.9 317.5L535.0 309.4L535.0 307.0L535.1 299.2L535.2 309.4L535.3 307.0L535.3 299.2L535.4 311.9L535.5 309.4L535.6 309.4L535.6 307.0L535.7 307.0L535.8 304.9L535.8 317.5L535.9 320.8L536.0 309.4L536.1 324.5L536.1 299.2L536.2 314.6L536.3 314.6L536.4 304.9L536.4 307.0L536.5 307.0L536.6 309.4L536.6 320.8L536.7 311.9L536.8 314.6L536.9 324.5L536.9 311.9L537.0 304.9L537.1 317.5L537.1 317.5L537.2 317.5L537.3 307.0L537.4 328.7L537.4 307.0L537.5 309.4L537.6 311.9L537.6 317.5L537.7 314.6L537.8 301.0L537.9 309.4L537.9 314.6L538.0 307.0L538.1 320.8L538.1 304.9L538.2 311.9L538.3 297.5L538.3 299.2L538.4 309.4L538.5 309.4L538.6 314.6L538.6 309.4L538.7 307.0L538.8 324.5L538.8 324.5L538.9 309.4L539.0 317.5L539.0 311.9L539.1 311.9L539.2 311.9L539.2 314.6L539.3 309.4L539.4 304.9L539.5 302.9L539.5 317.5L539.6 311.9L539.7 314.6L539.7 328.7L539.8 328.7L539.9 314.6L539.9 311.9L540.0 309.4L540.1 320.8L540.1 309.4L540.2 314.6L540.3 317.5L540.3 307.0L540.4 333.5L540.5 339.2L540.5 302.9L540.6 314.6L540.7 309.4L540.7 317.5L540.8 320.8L540.9 324.5L540.9 333.5L541.0 314.6L541.1 324.5L541.1 317.5L541.2 314.6L541.3 317.5L541.3 314.6L541.4 307.0L541.5 314.6L541.5 314.6L541.6 317.5L541.7 307.0L541.7 307.0L541.8 320.8L541.9 314.6L541.9 317.5L542.0 320.8L542.1 324.5L542.1 304.9L542.2 311.9L542.3 339.2L542.3 309.4L542.4 304.9L542.5 317.5L542.5 317.5L542.6 317.5L542.7 311.9L542.7 320.8L542.8 314.6L542.9 333.5L542.9 309.4L543.0 328.7L543.1 320.8L543.1 314.6L543.2 311.9L543.3 324.5L543.3 324.5L543.4 307.0L543.4 324.5L543.5 324.5L543.6 324.5L543.6 314.6L543.7 314.6L543.8 311.9L543.8 314.6L543.9 320.8L544.0 314.6L544.0 314.6L544.1 328.7L544.1 324.5L544.2 320.8L544.3 309.4L544.3 320.8L544.4 317.5L544.5 320.8L544.5 317.5L544.6 314.6L544.7 328.7L544.7 367.8L544.8 314.6L544.8 346.1L544.9 317.5L545.0 317.5L545.0 314.6L545.1 328.7L545.2 317.5L545.2 314.6L545.3 314.6L545.3 311.9L545.4 328.7L545.5 324.5L545.5 324.5L545.6 320.8L545.7 314.6L545.7 314.6L545.8 320.8L545.8 309.4L545.9 317.5L546.0 333.5L546.0 311.9L546.1 333.5L546.2 333.5L546.2 324.5L546.3 324.5L546.3 320.8L546.4 320.8L546.5 328.7L546.5 328.7L546.6 317.5L546.6 320.8L546.7 324.5L546.8 328.7L546.8 320.8L546.9 333.5L546.9 339.2L547.0 314.6L547.1 317.5L547.1 324.5L547.2 311.9L547.3 324.5L547.3 317.5L547.5 320.8L547.6 311.9L547.6 314.6L547.7 346.1L547.7 317.5L547.8 355.1L547.9 333.5L547.9 320.8L548.0 333.5L548.0 314.6L548.1 328.7L548.2 317.5L548.2 320.8L548.3 317.5L548.3 314.6L548.4 339.2L548.4 324.5L548.5 320.8L548.6 317.5L548.7 339.2L548.8 346.1L548.9 333.5L548.9 324.5L549.0 324.5L549.0 314.6L549.1 320.8L549.2 317.5L549.2 339.2L549.3 324.5L549.3 328.7L549.4 328.7L549.4 314.6L549.5 324.5L549.7 346.1L549.8 311.9L549.9 324.5L549.9 324.5L550.0 324.5L550.0 328.7L550.1 328.7L550.1 333.5L550.2 324.5L550.3 328.7L550.4 314.6L550.4 339.2L550.5 320.8L550.5 328.7L550.6 311.9L550.7 324.5L550.7 317.5L550.8 333.5L550.8 317.5L550.9 333.5L550.9 339.2L551.0 367.8L551.2 324.5L551.2 339.2L551.3 328.7L551.3 328.7L551.4 339.2L551.5 314.6L551.5 311.9L551.6 324.5L551.7 320.8L551.8 339.2L551.8 324.5L551.9 314.6L552.0 328.7L552.0 328.7L552.2 367.8L552.2 328.7L552.3 320.8L552.4 324.5L552.4 328.7L552.5 328.7L552.5 328.7L552.6 355.1L552.7 314.6L552.7 324.5L552.8 367.8L552.8 317.5L552.9 333.5L553.0 320.8L553.0 328.7L553.1 320.8L553.2 367.8L553.3 324.5L553.3 328.7L553.4 328.7L553.5 333.5L553.5 324.5L553.6 317.5L553.7 328.7L553.7 328.7L553.8 339.2L553.8 317.5L553.9 355.1L554.0 333.5L554.1 328.7L554.1 328.7L554.2 333.5L554.2 317.5L554.3 320.8L554.3 355.1L554.5 320.8L554.5 339.2L554.6 355.1L554.6 333.5L554.7 333.5L554.8 324.5L554.9 346.1L554.9 328.7L555.0 328.7L555.0 339.2L555.1 328.7L555.2 333.5L555.3 339.2L555.3 320.8L555.5 389.4L555.5 328.7L555.6 339.2L555.7 328.7L555.7 333.5L555.8 339.2L555.9 320.8L556.0 324.5L556.0 346.1L556.2 367.8L556.2 324.5L556.3 346.1L556.3 324.5L556.5 367.8L556.5 389.4L556.7 339.2L556.8 333.5L556.8 328.7L556.9 346.1L557.0 367.8L557.0 339.2L557.1 355.1L557.2 328.7L557.3 333.5L557.3 389.4L557.4 320.8L557.5 339.2L557.5 346.1L557.6 328.7L557.7 339.2L557.8 339.2L557.8 328.7L557.9 389.4L558.0 367.8L558.0 339.2L558.1 355.1L558.2 333.5L558.2 333.5L558.3 346.1L558.3 367.8L558.4 320.8L558.5 346.1L558.5 339.2L558.6 346.1L558.7 333.5L558.7 339.2L558.8 346.1L558.8 328.7L559.0 339.2L559.0 346.1L559.1 328.7L559.2 328.7L559.3 346.1L559.4 333.5L559.5 389.4L559.5 333.5L559.6 328.7L559.6 346.1L559.7 346.1L559.8 355.1L559.9 333.5L560.0 346.1L560.0 339.2L560.1 389.4L560.2 328.7L560.3 355.1L560.5 328.7L560.5 339.2L560.6 355.1L560.7 355.1L560.8 355.1L560.8 328.7L560.9 367.8L561.0 339.2L561.0 389.4L561.2 333.5L561.3 339.2L561.5 367.8L561.5 324.5L561.6 346.1L561.6 346.1M561.7 367.8L561.8 339.2L561.9 367.8L562.0 324.5L562.0 367.8L562.1 355.1L562.2 355.1L562.3 339.2L562.3 333.5L562.4 367.8L562.5 355.1L562.5 355.1L562.6 333.5L562.7 346.1L562.8 333.5L562.9 389.4L563.0 339.2L563.0 346.1M563.2 389.4L563.3 389.4L563.3 355.1L563.4 355.1M563.4 389.4L563.5 367.8L563.5 346.1L563.6 324.5L563.7 355.1L563.7 355.1L563.8 346.1L563.8 339.2L564.0 389.4L564.0 355.1L564.1 389.4L564.2 346.1L564.3 339.2L564.3 333.5L564.4 389.4L564.5 355.1L564.5 355.1L564.5 367.8L564.7 346.1L564.7 367.8L564.8 355.1L564.8 367.8L565.0 355.1L565.0 339.2L565.0 367.8L565.2 367.8L565.3 367.8L565.3 367.8M565.5 339.2L565.5 355.1L565.6 339.2L565.7 389.4L565.8 389.4L565.8 328.7L566.0 346.1L566.0 355.1L566.1 339.2L566.2 367.8L566.2 339.2L566.3 389.4L566.3 346.1L566.5 389.4L566.5 328.7L566.6 389.4L566.7 355.1L566.8 389.4L566.9 333.5L567.0 367.8M567.1 389.4L567.1 355.1L567.2 367.8L567.2 389.4L567.3 389.4L567.4 333.5L567.5 355.1L567.5 367.8L567.6 346.1L567.7 346.1M567.8 355.1L567.9 389.4L568.0 367.8L568.0 389.4L568.1 367.8L568.2 367.8L568.3 355.1L568.3 367.8L568.3 339.2M568.5 355.1L568.5 389.4L568.6 328.7L568.7 367.8L568.8 333.5M568.8 389.4L568.9 346.1M569.0 367.8L569.0 367.8L569.2 346.1L569.3 355.1L569.3 367.8L569.4 346.1L569.5 346.1M569.7 355.1L569.7 355.1L569.8 389.4L569.8 367.8L569.9 389.4M569.9 367.8L570.0 339.2L570.0 367.8L570.1 346.1L570.2 389.4L570.2 367.8L570.3 389.4L570.4 339.2L570.5 367.8L570.5 355.1L570.6 389.4L570.7 389.4M571.0 328.7L571.0 389.4L571.1 346.1L571.2 389.4L571.3 367.8L571.3 367.8L571.3 367.8L571.4 355.1M571.5 389.4L571.5 367.8L571.5 389.4L571.6 346.1L571.7 367.8M571.7 389.4L571.8 389.4L571.8 355.1L572.0 367.8L572.0 389.4L572.1 355.1L572.2 367.8M572.3 346.1L572.3 367.8M572.5 389.4L572.6 367.8M572.7 389.4L572.7 367.8L572.7 367.8M572.8 367.8L572.9 389.4L572.9 389.4L572.9 367.8M573.0 355.1L573.1 389.4L573.2 389.4M573.3 339.2L573.3 389.4M573.4 367.8L573.4 367.8L573.5 389.4M573.6 389.4L573.6 389.4L573.7 367.8M573.7 389.4L573.8 367.8M573.8 389.4L573.9 389.4L573.9 367.8M574.0 367.8L574.0 367.8L574.1 367.8L574.1 367.8M574.2 367.8L574.3 367.8M574.4 355.1L574.5 355.1L574.5 346.1L574.5 389.4L574.7 389.4L574.8 389.4L574.8 389.4M574.9 389.4L574.9 355.1L575.0 389.4M575.2 367.8L575.2 355.1M575.3 367.8L575.3 389.4M575.4 355.1L575.4 346.1L575.5 389.4M575.7 367.8L575.8 389.4L575.8 367.8M575.9 389.4L575.9 355.1L576.0 389.4L576.0 389.4L576.0 367.8M576.1 389.4L576.2 389.4L576.2 355.1M576.3 389.4L576.4 367.8L576.5 367.8L576.5 389.4L576.6 389.4L576.6 367.8M576.7 367.8L576.7 389.4L576.7 389.4L576.8 389.4L576.8 346.1L576.9 367.8M577.0 389.4L577.0 346.1M577.3 367.8L577.3 367.8M577.6 389.4L577.6 389.4L577.6 389.4L577.7 367.8M577.8 389.4L577.8 367.8L577.9 389.4M578.0 355.1L578.0 389.4M578.1 389.4L578.1 389.4L578.2 389.4M578.3 367.8L578.3 355.1M578.4 367.8L578.4 389.4M578.5 367.8L578.5 355.1L578.6 389.4M578.6 367.8L578.7 389.4L578.7 389.4L578.8 389.4L578.8 389.4L578.8 389.4M578.9 389.4L578.9 339.2L579.0 389.4M579.2 367.8L579.3 367.8L579.3 389.4L579.5 355.1L579.5 389.4M579.6 389.4L579.6 355.1L579.6 389.4L579.7 389.4M579.8 367.8L579.8 389.4M580.0 389.4L580.1 389.4M580.1 355.1L580.2 389.4M580.3 389.4L580.4 389.4L580.4 389.4L580.4 355.1M580.5 389.4L580.6 346.1L580.7 389.4L580.8 355.1M580.9 355.1L580.9 389.4L580.9 367.8L581.0 389.4L581.0 389.4M581.2 389.4L581.2 389.4L581.3 389.4M581.4 389.4L581.4 389.4M581.5 389.4L581.6 367.8L581.7 389.4L581.8 367.8L581.8 389.4L581.8 355.1L581.9 389.4M582.0 389.4L582.0 389.4L582.1 367.8M582.1 389.4L582.2 367.8L582.2 367.8L582.3 389.4L582.3 389.4M582.4 389.4L582.5 389.4M582.7 367.8L582.7 389.4L582.7 389.4L582.8 389.4L582.9 339.2L582.9 367.8M583.2 367.8L583.2 389.4M583.3 355.1L583.3 367.8M583.4 389.4L583.4 389.4M583.7 355.1L583.7 367.8M583.8 367.8L583.8 367.8L583.9 346.1L583.9 389.4M584.0 355.1L584.0 355.1M584.1 355.1L584.2 389.4L584.2 389.4M584.3 389.4L584.3 367.8M584.5 389.4L584.5 367.8L584.5 367.8L584.6 389.4M584.6 367.8L584.7 389.4M584.7 389.4L584.8 367.8M584.8 355.1L584.9 389.4L584.9 389.4L584.9 355.1M585.2 389.4L585.2 389.4L585.2 367.8L585.3 389.4M585.4 355.1L585.4 367.8L585.4 389.4M585.5 367.8L585.5 389.4L585.6 355.1L585.7 367.8L585.8 389.4L585.8 355.1L586.0 389.4L586.0 367.8L586.0 389.4L586.1 389.4L586.1 367.8M586.2 389.4L586.2 389.4L586.3 389.4M586.4 389.4L586.4 389.4" fill="none" stroke="#00ff00" stroke-width="1.0" stroke-linejoin="round"/>
<path d="M140.0 30.0L188.5 30.3L215.1 30.9L233.6 31.7L247.7 32.8L259.1 33.5L268.8 34.8L277.1 36.4L284.4 37.9L290.9 39.5L296.8 40.6L302.2 41.7L307.1 42.7L311.7 43.8L315.9 45.0L319.9 46.2L323.6 47.6L327.1 48.9L330.4 50.7L333.5 52.3L336.5 53.9L339.4 55.6L342.1 57.1L344.7 58.5L347.2 60.1L349.6 61.7L351.9 63.2L354.1 64.5L356.3 66.4L358.3 67.8L360.4 69.2L362.3 70.7L364.2 72.1L366.0 73.5L367.8 75.5L369.5 76.9L371.2 78.3L372.8 80.1L374.4 82.1L375.9 83.7L377.4 85.2L378.9 86.7L380.3 88.6L381.7 89.7L383.1 91.5L384.4 92.7L385.7 94.1L387.0 95.5L388.3 96.9L389.5 98.6L390.7 100.0L391.9 101.3L393.1 103.2L394.2 104.7L395.3 106.5L396.4 107.2L397.5 109.4L398.6 110.5L399.6 112.2L400.6 113.7L401.6 115.4L402.6 116.9L403.6 118.1L404.5 119.9L405.5 121.8L406.4 123.2L407.3 125.3L408.2 126.3L409.1 127.9L410.0 129.8L410.9 131.0L411.7 132.6L412.6 134.8L413.4 135.9L414.2 137.9L415.0 139.2L415.8 140.8L416.6 142.0L417.4 143.8L418.1 144.7L418.9 146.4L419.6 146.3L420.4 148.5L421.1 149.5L421.8 151.4L422.5 152.1L423.2 152.7L423.9 155.2L424.6 155.1L425.3 156.6L426.0 156.3L426.6 158.2L427.3 159.1L427.9 160.5L428.6 161.1L429.2 163.5L429.9 162.7L430.5 164.2L431.1 166.7L431.7 166.4L432.3 167.5L432.9 167.4L433.5 169.4L434.1 170.0L434.7 170.5L435.3 171.7L435.8 171.1L436.4 172.7L436.9 174.2L437.5 174.3L438.1 175.2L438.6 174.5L439.1 177.2L439.7 178.4L440.2 176.0L440.7 178.2L441.3 177.8L441.8 179.3L442.3 180.3L442.8 180.0L443.3 181.0L443.8 182.1L444.3 183.8L444.8 182.5L445.3 182.2L445.8 182.9L446.2 185.7L446.7 183.9L447.2 186.9L447.7 186.7L448.1 186.8L448.6 187.5L449.0 188.9L449.5 189.1L450.0 189.3L450.4 189.9L450.9 190.1L451.3 190.6L451.7 192.0L452.2 193.6L452.6 192.9L453.0 194.5L453.5 196.0L453.9 198.5L454.3 196.5L454.7 196.7L455.1 197.0L455.5 199.9L456.0 199.5L456.4 202.1L456.8 200.5L457.2 201.0L457.6 202.9L458.0 201.9L458.4 201.9L458.7 202.4L459.1 205.2L459.5 204.7L459.9 204.0L460.3 206.0L460.7 206.7L461.0 207.1L461.4 206.2L461.8 208.1L462.2 210.8L462.5 208.0L462.9 205.8L463.2 209.2L463.6 208.5L464.0 210.3L464.3 211.5L464.7 213.0L465.0 211.4L465.4 212.6L465.7 211.8L466.1 213.3L466.4 213.0L466.8 217.4L467.1 214.4L467.4 214.5L467.8 215.3L468.1 214.3L468.4 216.8L468.8 216.2L469.1 220.6L469.4 216.9L469.8 217.4L470.1 220.3L470.4 222.9L470.7 221.4L471.0 220.4L471.4 218.4L471.7 223.2L472.0 221.0L472.3 221.2L472.6 221.8L472.9 224.2L473.2 222.5L473.5 226.3L473.8 227.8L474.1 225.1L474.5 226.9L474.8 229.9L475.0 224.1L475.3 225.4L475.6 226.2L475.9 229.3L476.2 229.3L476.5 231.4L476.8 229.0L477.1 229.9L477.4 229.9L477.7 227.7L478.0 231.6L478.2 231.4L478.5 234.4L478.8 229.2L479.1 230.2L479.4 237.5L479.6 237.7L479.9 230.6L480.2 230.5L480.5 233.1L480.7 232.2L481.0 237.9L481.3 235.5L481.5 234.4L481.8 236.8L482.1 238.8L482.3 237.5L482.6 239.4L482.9 234.3L483.1 239.2L483.4 240.2L483.6 243.4L483.9 236.5L484.2 240.3L484.4 239.0L484.7 240.8L484.9 240.4L485.2 241.3L485.4 243.0L485.7 241.0L485.9 244.2L486.2 242.1L486.4 242.2L486.7 241.6L486.9 245.8L487.2 239.1L487.4 243.9L487.6 247.5L487.9 249.2L488.1 245.2L488.4 245.9L488.6 244.5L488.8 250.3L489.1 246.8L489.3 245.9L489.6 245.0L489.8 252.1L490.0 249.4L490.3 250.1L490.5 248.7L490.7 249.4L490.9 248.7L491.2 251.6L491.4 248.5L491.6 253.9L491.9 250.2L492.1 245.3L492.3 253.3L492.5 246.5L492.8 247.8L493.0 252.5L493.2 250.3L493.4 250.2L493.6 254.6L493.9 258.3L494.1 253.2L494.3 256.4L494.5 251.4L494.7 258.0L494.9 248.1L495.2 247.6L495.4 255.8L495.6 260.0L495.8 253.3L496.0 255.8L496.2 254.8L496.4 259.5L496.6 259.3L496.8 253.7L497.0 259.3L497.3 261.8L497.5 254.3L497.7 254.3L497.9 257.1L498.1 259.5L498.3 252.2L498.5 257.7L498.7 255.0L498.9 261.2L499.1 261.5L499.3 256.8L499.5 253.4L499.7 260.9L499.9 259.7L500.1 259.3L500.3 254.4L500.5 258.5L500.7 257.4L500.9 256.2L501.1 256.8L501.3 254.5L501.4 263.4L501.6 258.5L501.8 258.4L502.0 263.6L502.2 259.5L502.4 259.2L502.6 261.3L502.8 262.4L503.0 256.9L503.2 259.8L503.3 261.0L503.5 260.1L503.7 262.6L503.9 260.5L504.1 259.9L504.3 264.3L504.5 262.0L504.6 262.1L504.8 261.5L505.0 263.5L505.2 262.4L505.4 264.0L505.5 265.6L505.7 264.5L505.9 268.5L506.1 261.3L506.3 262.2L506.4 266.4L506.6 266.8L506.8 266.7L507.0 268.1L507.1 268.0L507.3 262.6L507.5 265.4L507.7 261.8L507.8 263.2L508.0 263.6L508.2 269.6L508.4 259.9L508.5 266.0L508.7 274.2L508.9 266.5L509.0 267.1L509.2 264.2L509.4 269.8L509.6 265.9L509.7 267.8L509.9 262.9L510.1 267.8L510.2 265.4L510.4 263.9L510.6 270.2L510.7 266.4L510.9 267.6L511.1 262.7L511.2 265.9L511.4 270.7L511.5 262.4L511.7 270.3L511.9 268.7L512.0 268.3L512.2 266.9L512.4 271.5L512.5 270.0L512.7 270.7L512.8 268.9L513.0 272.7L513.2 271.4L513.3 275.4L513.5 264.6L513.6 268.6L513.8 266.4L514.0 273.4L514.1 278.0L514.3 277.6L514.4 276.2L514.6 269.6L514.7 273.0L514.9 273.8L515.0 276.9L515.2 266.5L515.3 277.8L515.5 273.3L515.7 273.7L515.8 273.4L516.0 273.6L516.1 271.8L516.3 264.7L516.4 269.5L516.6 272.5L516.7 278.0L516.9 268.7L517.0 268.7L517.2 276.6L517.3 272.4L517.5 285.1L517.6 279.0L517.8 271.0L517.9 282.6L518.0 272.9L518.2 271.4L518.3 281.8L518.5 276.3L518.6 270.6L518.8 267.9L518.9 276.0L519.1 271.0L519.2 280.0L519.4 279.5L519.5 275.2L519.6 274.2L519.8 276.4L519.9 273.0L520.1 274.2L520.2 272.6L520.4 274.7L520.5 277.5L520.6 277.2L520.8 278.3L520.9 277.5L521.1 274.1L521.2 274.7L521.3 273.4L521.5 275.2L521.6 275.6L521.7 282.2L521.9 280.6L522.0 281.1L522.2 282.8L522.3 292.2L522.4 277.5L522.6 285.2L522.7 284.0L522.8 284.0L523.0 275.2L523.1 279.5L523.2 275.6L523.4 281.7L523.5 278.5L523.6 278.5L523.8 282.8L523.9 281.7L524.0 290.7L524.2 287.1L524.3 282.2L524.4 294.6L524.6 282.2L524.7 282.8L524.8 286.5L525.0 280.6L525.1 281.7L525.2 279.5L525.4 283.4L525.5 281.7L525.6 283.4L525.8 291.4L525.9 285.2L526.0 285.8L526.1 285.2L526.3 285.2L526.4 282.2L526.5 285.8L526.7 289.2L526.8 284.0L526.9 297.2L527.0 293.8L527.2 281.7L527.3 294.6L527.4 285.8L527.5 292.2L527.7 284.6L527.8 286.5L527.9 283.4L528.0 285.8L528.2 283.4L528.3 293.0L528.4 282.2L528.5 290.7L528.7 285.2L528.8 289.9L528.9 284.6L529.0 287.1L529.1 288.5L529.3 287.1L529.4 289.9L529.5 289.9L529.6 284.0L529.8 287.8L529.9 289.9L530.0 292.2L530.1 285.2L530.2 294.6L530.4 291.4L530.5 297.2L530.6 293.8L530.7 292.2L530.8 289.9L531.0 292.2L531.1 287.8L531.2 302.2L531.3 284.0L531.4 289.9L531.5 289.9L531.7 296.3L531.8 288.5L531.9 296.3L532.0 293.0L532.1 292.2L532.2 290.7L532.4 290.7L532.5 298.2L532.6 300.1L532.7 287.8L532.8 290.7L532.9 291.4L533.1 292.2L533.2 292.2L533.3 304.4L533.4 294.6L533.5 290.7L533.6 293.8L533.7 291.4L533.8 293.0L534.0 297.2L534.1 299.1L534.2 295.5L534.3 290.7L534.4 304.4L534.5 291.4L534.6 306.8L534.7 287.8L534.9 297.2L535.0 295.5L535.1 298.2L535.2 292.2L535.3 300.1L535.4 290.7L535.5 287.8L535.6 296.3L535.7 301.2L535.8 293.8L536.0 301.2L536.1 299.1L536.2 296.3L536.3 293.0L536.4 303.3L536.5 294.6L536.6 295.5L536.7 299.1L536.8 295.5L536.9 298.2L537.0 300.1L537.1 309.4L537.3 313.8L537.4 299.1L537.5 296.3L537.6 304.4L537.7 301.2L537.8 293.0L537.9 295.5L538.0 309.4L538.1 297.2L538.2 301.2L538.3 298.2L538.4 300.1L538.5 305.6L538.6 292.2L538.7 317.1L538.8 306.8L538.9 296.3L539.0 302.2L539.2 300.1L539.3 308.1L539.4 298.2L539.5 306.8L539.6 309.4L539.7 309.4L539.8 298.2L539.9 303.3L540.0 300.1L540.1 301.2L540.2 304.4L540.3 310.8L540.4 302.2L540.5 301.2L540.6 310.8L540.7 308.1L540.8 309.4L540.9 317.1L541.0 303.3L541.1 302.2L541.2 305.6L541.3 303.3L541.4 304.4L541.5 299.1L541.6 301.2L541.7 301.2L541.8 309.4L541.9 303.3L542.0 305.6L542.1 312.3L542.2 303.3L542.3 317.1L542.4 312.3L542.5 301.2L542.6 303.3L542.7 318.9L542.8 304.4L542.9 305.6L543.0 308.1L543.1 313.8L543.2 308.1L543.3 303.3L543.4 299.1L543.5 303.3L543.5 312.3L543.6 304.4L543.7 298.2L543.8 309.4L543.9 315.4L544.0 302.2L544.1 312.3L544.2 308.1L544.3 306.8L544.4 309.4L544.5 308.1L544.6 305.6L544.7 304.4L544.8 306.8L544.9 304.4L545.0 306.8L545.1 312.3L545.2 301.2L545.3 308.1L545.4 306.8L545.4 304.4L545.5 310.8L545.6 318.9L545.7 320.8L545.8 312.3L545.9 304.4L546.0 308.1L546.1 306.8L546.2 313.8L546.3 320.8L546.4 312.3L546.5 322.8L546.6 317.1L546.6 308.1L546.7 315.4L546.8 320.8L546.9 309.4L547.0 309.4L547.1 310.8L547.2 324.9L547.3 308.1L547.4 313.8L547.5 309.4L547.6 306.8L547.6 310.8L547.7 305.6L547.8 309.4L547.9 315.4L548.0 317.1L548.1 303.3L548.2 302.2L548.3 315.4L548.4 310.8L548.5 310.8L548.5 309.4L548.6 324.9L548.7 309.4L548.8 312.3L548.9 312.3L549.0 315.4L549.1 305.6L549.2 315.4L549.2 304.4L549.3 305.6L549.4 317.1L549.5 308.1L549.6 308.1L549.7 315.4L549.8 329.8L549.9 315.4L549.9 312.3L550.0 303.3L550.1 306.8L550.2 308.1L550.3 312.3L550.4 309.4L550.5 318.9L550.6 318.9L550.6 322.8L550.7 322.8L550.8 315.4L550.9 304.4L551.0 324.9L551.1 313.8L551.1 315.4L551.2 329.8L551.3 317.1L551.4 332.5L551.5 309.4L551.6 310.8L551.7 320.8L551.7 318.9L551.8 318.9L551.9 320.8L552.0 312.3L552.1 324.9L552.2 318.9L552.2 324.9L552.3 310.8L552.4 317.1L552.5 310.8L552.6 322.8L552.7 342.4L552.7 313.8L552.8 315.4L552.9 312.3L553.0 318.9L553.1 313.8L553.2 313.8L553.2 322.8L553.3 338.7L553.4 315.4L553.5 317.1L553.6 322.8L553.6 329.8L553.7 309.4L553.8 318.9L553.9 318.9L554.0 327.3L554.1 324.9L554.1 318.9L554.2 329.8L554.3 312.3L554.4 322.8L554.5 312.3L554.5 318.9L554.6 327.3L554.7 309.4L554.8 320.8L554.9 324.9L554.9 315.4L555.0 318.9L555.1 320.8L555.2 338.7L555.3 335.4L555.3 315.4L555.4 324.9L555.5 318.9L555.6 327.3L555.7 320.8L555.7 338.7L555.8 322.8L555.9 313.8L556.0 320.8L556.0 324.9L556.1 322.8L556.2 322.8L556.3 312.3L556.4 320.8L556.4 320.8L556.5 327.3L556.6 318.9L556.7 320.8L556.8 329.8L556.8 338.7L556.9 324.9L557.0 317.1L557.1 327.3L557.1 327.3L557.2 317.1L557.3 324.9L557.4 342.4L557.4 313.8L557.5 324.9L557.6 329.8L557.7 327.3L557.8 320.8L557.8 329.8L557.9 313.8L558.0 322.8L558.1 320.8L558.1 322.8L558.2 329.8L558.3 324.9L558.4 315.4L558.4 329.8L558.5 327.3L558.6 322.8L558.7 332.5L558.7 320.8L558.8 335.4L558.9 322.8L559.0 335.4L559.0 329.8L559.1 329.8L559.2 312.3L559.3 332.5L559.3 320.8L559.4 324.9L559.5 332.5L559.6 320.8L559.6 327.3L559.7 342.4L559.8 342.4L559.9 327.3L559.9 327.3L560.0 342.4L560.1 327.3L560.1 329.8L560.2 324.9L560.3 335.4L560.4 327.3L560.4 329.8L560.5 324.9L560.6 320.8L560.7 317.1L560.7 342.4L560.8 327.3L560.9 338.7L560.9 338.7L561.0 346.6L561.1 335.4L561.2 329.8L561.2 332.5L561.3 329.8L561.4 329.8L561.5 327.3L561.5 329.8L561.6 329.8L561.7 329.8L561.7 335.4L561.8 342.4L561.9 346.6L562.0 327.3L562.0 342.4L562.1 327.3L562.2 335.4L562.2 338.7L562.3 335.4L562.4 332.5L562.4 320.8L562.5 335.4L562.6 338.7L562.7 329.8L562.7 324.9L562.8 335.4L562.9 338.7L562.9 329.8L563.0 329.8L563.1 329.8L563.1 346.6L563.2 329.8L563.3 332.5L563.4 324.9L563.4 335.4L563.5 329.8L563.6 335.4L563.6 320.8L563.7 351.4L563.8 342.4L563.8 342.4L563.9 385.7L564.0 338.7L564.1 322.8L564.1 329.8L564.2 327.3L564.3 335.4L564.3 338.7L564.4 335.4L564.5 346.6L564.5 357.1L564.6 327.3L564.7 335.4L564.7 324.9L564.8 351.4L564.9 335.4L564.9 351.4L565.0 324.9L565.1 335.4L565.1 346.6L565.2 346.6L565.3 327.3L565.3 346.6L565.4 338.7L565.5 335.4L565.5 346.6L565.6 324.9L565.7 322.8L565.7 342.4L565.8 335.4L565.9 329.8L565.9 332.5L566.0 329.8L566.1 346.6L566.1 335.4L566.2 351.4L566.3 338.7L566.3 332.5L566.4 329.8L566.5 364.0L566.5 335.4L566.6 351.4L566.7 332.5L566.7 335.4L566.8 335.4L566.9 329.8L566.9 335.4L567.0 346.6L567.1 342.4L567.1 335.4L567.2 357.1L567.3 338.7L567.3 335.4L567.4 346.6L567.5 329.8L567.5 329.8L567.6 332.5L567.7 338.7L567.7 342.4L567.8 332.5L567.8 335.4L567.9 329.8L568.0 346.6L568.0 332.5L568.1 329.8L568.2 346.6L568.2 338.7L568.3 338.7L568.4 342.4L568.4 332.5L568.5 342.4L568.6 332.5L568.6 335.4L568.7 332.5L568.7 342.4L568.8 346.6L568.9 335.4L568.9 338.7L569.0 332.5L569.1 342.4L569.1 346.6L569.2 335.4L569.3 338.7L569.3 342.4L569.4 335.4L569.4 342.4L569.5 338.7L569.6 335.4L569.6 351.4L569.7 332.5L569.8 338.7L569.8 342.4L569.9 342.4L569.9 346.6L570.0 364.0L570.1 338.7L570.1 346.6L570.2 329.8L570.3 329.8L570.3 346.6L570.4 338.7L570.4 332.5L570.5 338.7L570.6 342.4L570.6 342.4L570.7 351.4L570.8 335.4L570.9 342.4L571.0 329.8L571.1 338.7L571.1 332.5L571.2 357.1L571.2 351.4L571.3 351.4L571.4 335.4L571.4 346.6L571.5 332.5L571.5 342.4L571.6 332.5L571.7 346.6L571.7 335.4L571.8 346.6L571.8 342.4L571.9 351.4L572.0 364.0L572.0 351.4L572.1 338.7L572.2 338.7L572.2 364.0L572.3 357.1L572.3 357.1L572.4 338.7L572.5 351.4L572.5 351.4L572.7 335.4L572.8 346.6L572.9 364.0L572.9 346.6L573.0 327.3L573.0 357.1L573.1 332.5L573.2 351.4L573.2 351.4L573.3 332.5L573.3 346.6L573.4 373.0L573.5 357.1L573.5 351.4L573.6 346.6L573.6 332.5L573.7 335.4L573.8 342.4L573.8 338.7L573.9 364.0L574.0 342.4L574.0 346.6L574.1 335.4L574.2 342.4L574.2 335.4L574.3 346.6L574.3 346.6L574.4 346.6L574.5 351.4L574.5 335.4L574.6 357.1L574.7 329.8L574.8 327.3L574.9 332.5L574.9 342.4L575.0 332.5L575.0 346.6L575.1 357.1L575.1 342.4L575.2 357.1L575.3 346.6L575.3 327.3L575.5 338.7L575.5 346.6L575.6 342.4L575.7 357.1L575.7 364.0L575.8 351.4L575.9 385.7L576.0 357.1L576.1 357.1L576.1 332.5L576.2 338.7L576.2 338.7L576.3 346.6L576.3 357.1L576.4 357.1L576.4 332.5L576.5 407.3L576.7 335.4L576.8 357.1L576.8 346.6L576.9 332.5L577.0 338.7L577.0 346.6L577.2 332.5L577.2 342.4L577.3 373.0L577.3 351.4L577.4 335.4L577.4 351.4L577.5 346.6L577.6 357.1L577.7 338.7L577.7 338.7L577.8 357.1L577.8 335.4L577.9 364.0L578.0 338.7L578.1 364.0L578.1 373.0L578.2 338.7L578.2 338.7L578.3 342.4L578.4 364.0L578.5 338.7L578.5 329.8L578.6 346.6L578.7 338.7L578.7 357.1L578.8 342.4L579.0 373.0L579.0 338.7L579.2 364.0L579.2 338.7L579.3 342.4L579.3 351.4L579.4 338.7L579.5 342.4L579.5 335.4L579.7 373.0L579.7 335.4L579.8 351.4L579.9 364.0L580.0 351.4L580.0 346.6L580.1 346.6L580.1 351.4L580.2 346.6L580.3 338.7L580.4 357.1L580.5 342.4L580.5 357.1L580.7 332.5L580.7 338.7L580.8 342.4L580.9 357.1L581.0 351.4L581.0 351.4L581.1 357.1L581.2 335.4L581.2 357.1L581.3 364.0L581.3 338.7L581.4 351.4L581.5 357.1L581.5 346.6L581.6 351.4L581.7 346.6L581.8 357.1L581.8 342.4L582.0 385.7L582.0 346.6L582.1 357.1L582.2 357.1L582.3 364.0L582.3 342.4L582.5 357.1L582.5 357.1L582.6 342.4L582.7 364.0L582.8 373.0L582.9 346.6L582.9 385.7L583.0 385.7L583.0 357.1L583.1 364.0L583.2 342.4L583.2 351.4L583.3 357.1L583.3 338.7L583.5 357.1L583.5 346.6L583.6 338.7L583.6 357.1L583.7 342.4L583.8 364.0L583.8 346.6L584.0 364.0L584.0 407.3L584.2 351.4L584.2 357.1L584.3 357.1L584.3 342.4L584.4 364.0L584.5 346.6L584.5 357.1L584.6 373.0L584.7 346.6L584.8 342.4L585.0 385.7L585.0 351.4L585.1 407.3L585.2 346.6L585.2 351.4L585.3 385.7L585.3 407.3L585.5 342.4L585.5 335.4L585.7 364.0L585.7 338.7L585.8 357.1L585.8 346.6L586.0 351.4L586.0 338.7L586.2 373.0L586.2 357.1L586.3 357.1L586.3 346.6L586.4 364.0L586.5 357.1L586.5 407.3L586.6 342.4L586.7 373.0L586.8 364.0L586.9 346.6L587.0 357.1L587.0 346.6L587.1 357.1L587.2 342.4L587.3 351.4L587.4 385.7L587.4 338.7L587.5 357.1L587.5 385.7L587.6 351.4L587.7 357.1L587.8 364.0L587.8 373.0L587.9 346.6L588.0 357.1L588.0 357.1L588.1 364.0L588.2 351.4L588.2 357.1L588.3 351.4L588.3 373.0L588.5 346.6L588.5 364.0L588.6 357.1L588.6 373.0L588.7 357.1L588.8 407.3L588.8 346.6L589.0 364.0L589.0 357.1L589.2 385.7L589.2 351.4L589.3 364.0L589.4 373.0L589.5 351.4L589.5 364.0L589.6 351.4L589.7 407.3L589.7 373.0L589.8 351.4L589.9 342.4L589.9 373.0L590.0 351.4L590.0 385.7L590.2 346.6L590.3 357.1L590.3 385.7L590.4 346.6L590.5 385.7L590.5 346.6L590.6 373.0L590.7 357.1L590.8 407.3L590.9 351.4L591.0 373.0L591.0 373.0L591.1 346.6L591.2 373.0L591.3 357.1L591.3 407.3L591.5 351.4L591.5 407.3L591.7 342.4L591.8 364.0L592.0 385.7L592.0 351.4L592.0 364.0L592.1 385.7L592.2 373.0L592.3 364.0L592.4 407.3L592.5 351.4L592.5 364.0L592.6 351.4L592.7 373.0L592.7 364.0L592.8 373.0M593.1 385.7L593.2 364.0L593.2 385.7L593.2 364.0L593.3 364.0M593.4 346.6L593.4 385.7L593.5 373.0L593.5 373.0L593.5 385.7L593.7 407.3L593.7 357.1L593.7 357.1L593.8 407.3L593.8 373.0L594.0 373.0L594.0 357.1L594.2 385.7L594.2 385.7L594.3 346.6L594.4 385.7L594.5 357.1L594.5 385.7L594.5 407.3M594.6 357.1L594.7 373.0L594.7 373.0L594.8 351.4L594.8 346.6L594.8 407.3L595.0 407.3L595.0 373.0L595.0 357.1L595.1 407.3L595.2 373.0L595.3 407.3L595.5 364.0L595.5 351.4L595.7 385.7L595.7 385.7L595.8 407.3L595.9 351.4L596.0 373.0L596.0 357.1L596.1 346.6L596.1 385.7M596.2 407.3L596.2 357.1L596.3 364.0L596.5 407.3L596.5 351.4L596.6 385.7L596.7 357.1L596.8 364.0L596.9 351.4L596.9 407.3L597.0 407.3L597.0 385.7M597.1 373.0L597.2 407.3L597.2 407.3L597.2 385.7L597.3 373.0L597.4 385.7L597.4 351.4L597.5 385.7L597.5 407.3L597.7 357.1L597.7 385.7L597.8 357.1L597.9 385.7L598.0 373.0L598.0 385.7L598.1 357.1L598.1 407.3L598.2 385.7L598.3 373.0L598.3 364.0L598.3 373.0M598.4 385.7L598.5 385.7L598.5 385.7M598.6 385.7L598.6 407.3M598.7 373.0L598.7 373.0L598.8 364.0L598.9 407.3L599.0 407.3L599.0 407.3L599.2 364.0L599.3 407.3L599.3 373.0L599.5 373.0L599.5 373.0L599.6 407.3L599.7 364.0L599.7 364.0L599.8 407.3L599.9 351.4L600.0 357.1L600.0 373.0L600.1 407.3L600.1 357.1L600.2 385.7L600.3 373.0L600.3 407.3L600.4 373.0M600.5 364.0L600.5 385.7L600.6 364.0L600.6 407.3L600.7 373.0M600.8 364.0L600.8 407.3L600.9 407.3M601.0 385.7L601.1 407.3L601.1 364.0M601.2 364.0L601.2 385.7L601.2 385.7L601.3 357.1L601.3 407.3M601.4 373.0L601.4 351.4L601.5 373.0L601.5 407.3L601.5 373.0L601.7 407.3L601.7 407.3L601.8 385.7M601.8 373.0L601.9 407.3L602.0 407.3L602.0 407.3L602.1 385.7L602.2 407.3M602.2 385.7L602.3 373.0L602.3 407.3L602.5 407.3L602.5 373.0L602.7 351.4L602.7 407.3L602.8 385.7M602.9 357.1L602.9 407.3L602.9 385.7L603.0 364.0L603.0 407.3L603.0 407.3L603.1 385.7M603.1 357.1L603.2 364.0L603.2 385.7L603.3 385.7L603.3 364.0L603.3 385.7L603.4 373.0M603.4 407.3L603.5 385.7L603.5 385.7L603.6 351.4L603.7 385.7M603.8 346.6L603.8 385.7L603.9 385.7M603.9 385.7L604.0 407.3M604.1 357.1L604.2 407.3L604.2 407.3L604.3 385.7M604.3 364.0L604.4 385.7L604.5 364.0M604.5 385.7L604.6 407.3L604.7 385.7M604.7 373.0L604.8 407.3L604.8 385.7L604.9 385.7M605.0 407.3L605.0 373.0M605.1 385.7L605.2 364.0L605.2 407.3L605.3 407.3L605.4 357.1L605.5 385.7L605.5 407.3L605.6 407.3L605.6 407.3L605.6 407.3M605.7 385.7L605.8 364.0M606.0 373.0L606.1 385.7M606.1 364.0L606.2 373.0L606.2 407.3L606.2 407.3L606.3 373.0M606.3 373.0L606.4 407.3L606.4 385.7L606.4 385.7M606.5 373.0L606.6 407.3M606.6 407.3L606.7 385.7L606.7 407.3M606.8 373.0L606.8 373.0L606.9 407.3M607.0 373.0L607.0 385.7L607.1 373.0L607.2 385.7M607.2 385.7L607.3 407.3L607.4 407.3M607.5 357.1L607.5 385.7M607.6 373.0L607.6 373.0L607.7 385.7M607.7 407.3L607.8 364.0M607.9 407.3L607.9 373.0L608.0 373.0M608.0 407.3L608.1 385.7M608.1 407.3L608.2 385.7L608.2 407.3M608.4 364.0L608.4 373.0L608.5 373.0L608.5 407.3L608.5 407.3M608.6 407.3L608.6 407.3L608.7 407.3L608.7 407.3M608.9 407.3L608.9 407.3L608.9 385.7M609.0 373.0L609.0 385.7L609.1 385.7L609.1 357.1L609.1 357.1M609.4 407.3L609.4 407.3M609.5 385.7L609.5 373.0L609.5 357.1M609.7 385.7L609.7 407.3L609.7 385.7L609.8 407.3L609.8 364.0L610.0 407.3M610.0 407.3L610.1 407.3L610.1 407.3M610.2 407.3L610.3 373.0M610.3 373.0L610.4 385.7L610.4 407.3L610.4 373.0M610.5 407.3L610.6 373.0L610.7 373.0M610.8 407.3L610.9 364.0L611.0 373.0L611.0 357.1L611.1 407.3M611.2 407.3L611.2 385.7L611.2 373.0L611.3 385.7M611.3 373.0L611.4 385.7L611.4 385.7L611.4 385.7M611.6 373.0L611.6 385.7M611.7 407.3L611.8 364.0L611.8 407.3L611.9 407.3M612.0 407.3L612.0 407.3M612.1 407.3L612.1 385.7L612.2 385.7M612.2 407.3L612.3 373.0M612.3 373.0L612.3 407.3L612.4 364.0L612.5 407.3L612.5 385.7L612.6 407.3L612.7 364.0L612.7 373.0L612.8 385.7L612.8 407.3M612.9 407.3L612.9 407.3M613.1 407.3L613.1 364.0L613.2 407.3L613.3 385.7M613.3 364.0L613.4 407.3L613.4 373.0M613.5 385.7L613.6 364.0L613.6 407.3L613.7 407.3M613.8 385.7L613.8 373.0L613.9 385.7M614.0 407.3L614.1 385.7M614.1 385.7L614.1 407.3L614.2 407.3L614.2 407.3M614.3 407.3L614.3 407.3L614.3 407.3M614.5 385.7L614.5 373.0L614.5 373.0L614.5 407.3L614.6 407.3M614.6 385.7L614.7 373.0L614.7 407.3L614.7 373.0L614.8 373.0M614.9 407.3L614.9 385.7L615.0 385.7L615.0 407.3L615.0 407.3L615.0 385.7L615.1 407.3M615.3 407.3L615.3 373.0L615.4 407.3M615.5 407.3L615.5 385.7L615.6 407.3L615.6 385.7M615.8 385.7L615.8 407.3L615.9 373.0L615.9 407.3M616.1 364.0L616.1 407.3M616.2 407.3L616.2 385.7L616.2 407.3L616.3 385.7L616.3 407.3M616.7 407.3L616.7 385.7L616.7 407.3L616.8 385.7M616.8 357.1L616.9 385.7L616.9 407.3M616.9 407.3L617.0 407.3M617.0 407.3L617.1 373.0M617.2 407.3L617.2 407.3L617.3 385.7M617.3 407.3L617.5 373.0L617.5 385.7M617.6 407.3L617.6 373.0L617.7 385.7M617.8 385.7L617.9 407.3L617.9 407.3" fill="none" stroke="#0000ff" stroke-width="1.0" stroke-linejoin="round"/>
<path d="M166.0 30.2L235.2 31.9L266.7 34.5L287.3 38.4L302.7 41.5L314.9 44.3L325.1 47.6L333.9 51.3L341.5 54.9L348.3 58.9L354.4 62.6L359.9 66.3L365.0 69.9L369.7 74.0L374.0 78.0L378.1 82.6L381.9 86.5L385.4 89.9L388.8 94.0L392.0 96.9L395.1 100.3L398.0 104.5L400.7 108.6L403.4 113.2L405.9 117.2L408.3 120.6L410.7 124.5L412.9 127.6L415.1 131.6L417.2 135.0L419.2 138.4L421.2 141.1L423.1 144.5L424.9 148.3L426.7 150.7L428.4 154.3L430.1 156.2L431.8 159.5L433.4 161.1L434.9 163.5L436.4 166.2L437.9 169.8L439.4 171.2L440.8 172.5L442.2 174.2L443.5 175.8L444.8 176.8L446.1 179.5L447.4 181.4L448.6 183.0L449.9 182.5L451.0 184.1L452.2 186.6L453.4 187.8L454.5 188.2L455.6 191.3L456.7 192.1L457.7 193.9L458.8 196.3L459.8 197.5L460.8 198.8L461.8 201.8L462.8 204.6L463.8 204.3L464.7 207.1L465.7 208.6L466.6 207.0L467.5 210.1L468.4 210.6L469.3 210.9L470.1 213.3L471.0 212.4L471.8 211.9L472.7 216.4L473.5 216.3L474.3 221.0L475.1 219.5L475.9 217.0L476.6 220.4L477.4 221.9L478.2 221.6L478.9 223.7L479.7 222.1L480.4 225.4L481.1 227.2L481.8 227.6L482.5 232.6L483.2 228.3L483.9 229.1L484.6 234.2L485.3 236.9L486.0 233.8L486.6 233.3L487.3 232.0L487.9 237.1L488.6 237.9L489.2 237.3L489.8 235.7L490.4 240.7L491.0 240.5L491.7 242.0L492.3 239.5L492.8 239.1L493.4 238.8L494.0 240.3L494.6 242.4L495.2 246.1L495.7 244.6L496.3 243.7L496.9 245.2L497.4 249.5L498.0 248.8L498.5 249.8L499.0 247.3L499.6 249.4L500.1 251.6L500.6 249.6L501.1 250.8L501.7 253.8L502.2 250.3L502.7 253.1L503.2 254.1L503.7 256.8L504.2 254.5L504.7 254.0L505.1 262.0L505.6 258.1L506.1 257.5L506.6 255.9L507.0 261.1L507.5 253.3L508.0 259.2L508.4 261.4L508.9 259.8L509.4 257.6L509.8 260.3L510.2 262.7L510.7 260.4L511.1 260.6L511.6 261.5L512.0 265.1L512.4 261.8L512.9 253.3L513.3 264.0L513.7 263.2L514.1 271.0L514.5 264.6L515.0 264.1L515.4 266.8L515.8 266.4L516.2 269.5L516.6 264.3L517.0 267.0L517.4 271.4L517.8 269.0L518.2 267.5L518.5 268.1L518.9 262.1L519.3 269.9L519.7 269.7L520.1 273.3L520.5 269.0L520.8 274.2L521.2 270.1L521.6 274.4L521.9 275.5L522.3 275.8L522.7 267.3L523.0 278.0L523.4 270.9L523.8 274.5L524.1 279.7L524.5 276.5L524.8 278.7L525.2 275.1L525.5 272.9L525.9 270.8L526.2 279.6L526.5 280.1L526.9 281.0L527.2 278.9L527.5 282.3L527.9 273.8L528.2 280.5L528.5 281.4L528.9 295.2L529.2 280.7L529.5 286.0L529.8 274.2L530.2 280.3L530.5 284.6L530.8 281.5L531.1 277.1L531.4 282.9L531.7 281.7L532.1 293.7L532.4 289.0L532.7 291.6L533.0 284.8L533.3 293.8L533.6 290.6L533.9 290.6L534.2 294.3L534.5 286.2L534.8 285.2L535.1 291.2L535.4 290.0L535.7 297.1L536.0 290.6L536.3 285.7L536.6 286.7L536.8 290.6L537.1 285.7L537.4 291.2L537.7 294.3L538.0 301.8L538.3 294.3L538.5 300.2L538.8 296.4L539.1 300.2L539.4 295.0L539.6 287.8L539.9 293.7L540.2 287.8L540.5 298.6L540.7 301.0L541.0 294.3L541.3 294.3L541.5 302.7L541.8 295.0L542.1 303.5L542.3 294.3L542.6 295.0L542.8 301.0L543.1 306.3L543.4 301.0L543.6 308.4L543.9 290.6L544.1 290.0L544.4 305.4L544.6 302.7L544.9 303.5L545.1 301.0L545.4 295.7L545.6 298.6L545.9 301.0L546.1 303.5L546.4 309.4L546.6 298.6L546.9 316.6L547.1 304.4L547.4 307.3L547.6 312.8L547.8 304.4L548.1 307.3L548.3 310.5L548.6 305.4L548.8 304.4L549.0 307.3L549.3 311.6L549.5 297.9L549.7 310.5L550.0 312.8L550.2 304.4L550.4 307.3L550.6 308.4L550.9 316.6L551.1 310.5L551.3 304.4L551.6 307.3L551.8 308.4L552.0 318.0L552.2 308.4L552.4 314.0L552.7 306.3L552.9 305.4L553.1 314.0L553.3 310.5L553.5 308.4L553.8 322.6L554.0 318.0L554.2 306.3L554.4 309.4L554.6 312.8L554.8 314.0L555.1 318.0L555.3 310.5L555.5 319.5L555.7 308.4L555.9 316.6L556.1 304.4L556.3 306.3L556.5 310.5L556.7 316.6L556.9 326.1L557.1 310.5L557.4 308.4L557.6 315.3L557.8 318.0L558.0 316.6L558.2 316.6L558.4 330.0L558.6 315.3L558.8 315.3L559.0 316.6L559.2 312.8L559.4 319.5L559.6 304.4L559.8 318.0L560.0 322.6L560.2 314.0L560.3 324.3L560.5 321.0L560.7 319.5L560.9 330.0L561.1 312.8L561.3 318.0L561.5 315.3L561.7 316.6L561.9 314.0L562.1 319.5L562.3 322.6L562.5 321.0L562.6 318.0L562.8 316.6L563.0 314.0L563.2 328.0L563.4 326.1L563.6 342.6L563.8 349.6L563.9 332.1L564.1 339.7L564.3 324.3L564.5 311.6L564.7 322.6L564.9 337.0L565.0 332.1L565.2 326.1L565.4 319.5L565.6 332.1L565.8 328.0L565.9 322.6L566.1 322.6L566.3 324.3L566.5 332.1L566.6 324.3L566.8 328.0L567.0 324.3L567.2 328.0L567.3 339.7L567.5 324.3L567.7 328.0L567.9 330.0L568.0 332.1L568.2 330.0L568.4 324.3L568.5 318.0L568.7 321.0L568.9 337.0L569.0 334.5L569.2 334.5L569.4 337.0L569.6 324.3L569.7 328.0L569.9 324.3L570.1 324.3L570.2 326.1L570.4 324.3L570.6 326.1L570.7 324.3L570.9 349.6L571.0 337.0L571.2 342.6L571.4 337.0L571.5 330.0L571.7 328.0L571.9 337.0L572.0 326.1L572.2 339.7L572.3 342.6L572.5 324.3L572.7 330.0L572.8 345.9L573.0 334.5L573.1 330.0L573.3 330.0L573.4 349.6L573.6 319.5L573.8 349.6L573.9 334.5L574.1 345.9L574.2 337.0L574.4 332.1L574.5 330.0L574.7 342.6L574.8 339.7L575.0 337.0L575.2 339.7L575.3 342.6L575.5 358.6L575.6 332.1L575.8 364.3L575.9 345.9L576.1 332.1L576.2 330.0L576.4 339.7L576.5 339.7L576.7 334.5L576.8 345.9L577.0 339.7L577.1 339.7L577.3 330.0L577.4 342.6L577.5 330.0L577.7 339.7L577.8 337.0L578.0 339.7L578.1 345.9L578.3 345.9L578.4 339.7L578.6 345.9L578.7 330.0L578.9 345.9L579.0 326.1L579.1 342.6L579.3 339.7L579.4 339.7L579.6 330.0L579.7 353.8L579.9 342.6L580.0 342.6L580.1 349.6L580.3 342.6L580.4 345.9L580.6 339.7L580.7 380.2L580.8 339.7L581.0 353.8L581.1 339.7L581.2 337.0L581.4 364.3L581.5 332.1L581.7 349.6L581.8 371.2L581.9 337.0L582.1 342.6L582.2 358.6L582.3 337.0L582.5 353.8L582.6 353.8L582.8 358.6L582.9 326.1L583.0 334.5L583.2 349.6L583.3 358.6L583.4 349.6L583.6 353.8L583.7 364.3L583.8 337.0L584.0 358.6L584.1 345.9L584.2 358.6L584.3 339.7L584.5 353.8L584.6 345.9L584.7 345.9L584.9 349.6L585.0 358.6L585.1 345.9L585.3 349.6L585.4 339.7L585.5 342.6L585.6 353.8L585.8 339.7L585.9 337.0L586.0 392.9L586.2 349.6L586.3 332.1L586.4 371.2L586.5 342.6L586.7 353.8L586.8 364.3L586.9 349.6L587.0 353.8L587.2 342.6L587.3 342.6L587.4 345.9L587.5 392.9L587.7 358.6L587.8 342.6L587.9 345.9L588.0 345.9L588.2 358.6L588.3 364.3L588.4 332.1L588.5 337.0L588.7 349.6L588.8 364.3L588.9 353.8L589.0 353.8L589.1 342.6L589.3 339.7L589.4 345.9L589.5 339.7L589.6 358.6L589.7 334.5L589.9 364.3L590.0 337.0L590.1 345.9L590.2 371.2L590.3 371.2L590.5 349.6L590.6 339.7L590.7 339.7L590.8 353.8L590.9 349.6L591.1 334.5L591.2 339.7L591.3 364.3L591.4 342.6L591.5 345.9L591.6 358.6L591.8 334.5L591.9 339.7L592.0 345.9L592.1 364.3L592.2 342.6L592.3 380.2L592.4 349.6L592.6 371.2L592.7 334.5L592.8 345.9L592.9 345.9L593.0 358.6L593.1 371.2L593.2 339.7L593.4 349.6L593.5 358.6L593.6 371.2L593.7 353.8L593.8 380.2L593.9 353.8L594.0 349.6L594.1 342.6L594.3 332.1L594.4 358.6L594.5 392.9L594.6 364.3L594.7 364.3L594.8 392.9L594.9 342.6L595.0 380.2L595.1 349.6L595.3 342.6L595.4 358.6L595.5 371.2L595.6 353.8L595.7 345.9L595.8 345.9L595.9 364.3L596.0 353.8L596.1 349.6L596.2 345.9L596.3 353.8L596.4 353.8L596.6 345.9L596.7 349.6L596.8 364.3L596.9 380.2L597.0 358.6L597.1 345.9L597.2 353.8L597.3 353.8L597.4 345.9L597.5 353.8L597.6 358.6L597.7 353.8L597.8 353.8L597.9 364.3L598.0 380.2L598.1 337.0L598.2 349.6L598.4 364.3L598.5 353.8L598.6 364.3L598.7 345.9L598.8 339.7L598.9 353.8L599.0 371.2L599.1 358.6L599.2 349.6L599.3 342.6L599.4 371.2L599.5 349.6L599.6 342.6L599.7 358.6L599.8 349.6L599.9 345.9L600.0 371.2L600.1 371.2L600.2 349.6L600.3 380.2L600.4 353.8L600.5 353.8L600.6 371.2L600.7 342.6L600.8 353.8L600.9 380.2L601.0 334.5L601.1 380.2L601.2 349.6L601.3 371.2L601.4 380.2L601.5 358.6L601.6 364.3L601.7 353.8L601.8 345.9L601.9 392.9L602.0 358.6L602.1 345.9L602.2 353.8L602.3 358.6L602.4 353.8L602.5 353.8L602.6 353.8L602.7 337.0L602.8 392.9L602.9 371.2L603.0 371.2L603.1 364.3L603.2 364.3L603.3 380.2L603.4 371.2L603.4 371.2L603.5 358.6L603.6 364.3L603.7 349.6L603.8 364.3L603.9 353.8L604.0 349.6L604.1 364.3L604.2 380.2L604.3 358.6L604.4 353.8L604.5 358.6L604.6 364.3L604.7 380.2L604.8 353.8L604.9 364.3L605.0 364.3L605.1 358.6L605.2 358.6L605.2 364.3L605.3 414.5L605.4 364.3L605.5 364.3L605.6 364.3L605.7 349.6L605.8 353.8L605.9 353.8L606.0 380.2L606.1 371.2L606.2 371.2L606.3 371.2L606.4 342.6L606.4 364.3L606.5 349.6L606.6 364.3L606.7 371.2L606.8 364.3L606.9 392.9L607.0 353.8L607.1 392.9L607.2 364.3L607.3 353.8L607.3 380.2L607.4 364.3L607.5 371.2L607.6 371.2L607.7 380.2L607.8 358.6L607.9 349.6L608.0 371.2L608.1 364.3L608.2 364.3L608.2 353.8L608.3 358.6L608.4 353.8L608.5 358.6L608.6 349.6L608.7 342.6L608.8 371.2L608.9 358.6L608.9 414.5L609.0 349.6L609.1 358.6L609.2 371.2L609.3 371.2L609.4 364.3L609.5 380.2L609.6 371.2L609.6 358.6L609.7 364.3L609.8 349.6L609.9 380.2L610.0 380.2L610.1 380.2L610.2 392.9L610.2 392.9L610.3 380.2L610.4 358.6L610.5 380.2L610.6 414.5L610.7 364.3L610.8 371.2L610.8 345.9L610.9 345.9L611.0 364.3L611.1 371.2L611.2 371.2L611.3 358.6L611.3 371.2M611.5 358.6L611.6 371.2L611.7 358.6L611.8 358.6L611.8 414.5L611.9 392.9L612.0 364.3L612.1 392.9L612.2 380.2L612.3 358.6L612.3 380.2L612.4 392.9L612.5 349.6L612.6 392.9L612.7 414.5L612.8 414.5L612.8 392.9L612.9 380.2L613.0 392.9L613.1 392.9L613.2 414.5L613.3 364.3L613.3 371.2L613.4 392.9L613.5 392.9L613.6 371.2L613.7 414.5L613.7 414.5L613.8 345.9L613.9 414.5L614.0 380.2L614.1 392.9L614.1 371.2L614.2 414.5M614.4 392.9L614.5 380.2L614.5 380.2L614.6 380.2L614.7 371.2L614.8 414.5M614.9 392.9L615.0 371.2L615.1 414.5L615.2 392.9L615.3 364.3L615.3 364.3L615.4 380.2L615.5 364.3L615.6 414.5L615.7 364.3L615.7 380.2L615.8 371.2L615.9 380.2L616.0 414.5L616.0 414.5L616.1 380.2L616.2 392.9L616.3 414.5L616.4 380.2L616.4 364.3L616.5 392.9L616.6 353.8L616.7 392.9L616.7 392.9L616.8 371.2L616.9 380.2L617.0 414.5L617.0 371.2L617.1 371.2L617.2 380.2L617.3 392.9L617.4 380.2L617.4 414.5L617.5 414.5L617.6 414.5L617.7 371.2L617.7 364.3L617.8 371.2L617.9 392.9L618.0 392.9L618.0 364.3L618.1 371.2L618.2 414.5L618.3 414.5L618.3 392.9L618.4 392.9L618.5 392.9L618.6 371.2L618.6 414.5L618.7 414.5L618.8 392.9L618.9 414.5L618.9 380.2L619.0 364.3L619.1 380.2L619.2 392.9L619.2 392.9L619.3 380.2M619.6 414.5L619.7 392.9L619.7 414.5M620.0 392.9L620.0 392.9L620.1 392.9L620.2 380.2L620.3 414.5M620.5 392.9L620.5 414.5L620.6 392.9L620.7 392.9L620.8 380.2L620.8 414.5L620.9 380.2L621.0 380.2L621.0 414.5L621.1 380.2L621.2 392.9L621.3 414.5L621.3 392.9M621.5 392.9L621.5 392.9M621.8 380.2L621.8 358.6L621.9 392.9M622.0 371.2L622.1 364.3L622.2 414.5L622.3 371.2L622.3 392.9L622.4 414.5L622.5 392.9L622.5 414.5L622.6 414.5M622.9 392.9L623.0 392.9L623.0 392.9L623.1 392.9L623.2 392.9L623.2 392.9L623.3 414.5L623.4 414.5L623.4 392.9L623.5 392.9L623.6 392.9L623.6 414.5L623.7 414.5L623.8 392.9L623.9 414.5M624.0 380.2L624.1 392.9L624.1 392.9L624.2 380.2M624.4 380.2L624.5 392.9L624.5 414.5L624.6 414.5L624.7 364.3L624.7 392.9L624.8 414.5L624.9 380.2L624.9 392.9L625.0 414.5L625.1 392.9L625.1 414.5L625.2 392.9L625.3 414.5L625.3 414.5L625.4 392.9L625.5 414.5L625.5 414.5L625.6 414.5L625.7 414.5L625.7 414.5L625.8 371.2L625.9 414.5L625.9 414.5M626.1 414.5L626.2 414.5L626.3 380.2L626.3 414.5L626.4 414.5L626.5 392.9L626.5 392.9M626.7 380.2L626.7 414.5M626.9 380.2L626.9 414.5L627.0 380.2L627.1 414.5L627.1 414.5L627.2 414.5M627.6 392.9L627.7 414.5L627.8 392.9L627.8 414.5L627.9 392.9L628.0 414.5L628.0 392.9L628.1 414.5M628.3 392.9L628.3 414.5L628.4 392.9L628.5 414.5M628.7 392.9L628.7 392.9M629.0 414.5L629.0 392.9L629.1 414.5M629.3 392.9L629.4 414.5L629.5 414.5L629.5 414.5L629.6 414.5L629.7 414.5L629.7 414.5M629.9 414.5L630.0 392.9L630.0 392.9M630.3 380.2L630.4 392.9M630.8 392.9L630.9 392.9L631.0 414.5M631.6 414.5L631.6 414.5M631.9 380.2L632.0 414.5M632.8 414.5L632.8 414.5M634.1 414.5L634.2 371.2M634.5 392.9L634.6 392.9M635.5 414.5L635.6 414.5M636.6 414.5L636.6 414.5M637.3 414.5L637.4 414.5M638.1 414.5L638.2 414.5L638.2 414.5M639.1 414.5L639.2 414.5L639.3 380.2M639.5 392.9L639.6 414.5L639.6 414.5M641.0 392.9L641.0 414.5M641.4 392.9L641.4 414.5L641.5 414.5M642.6 414.5L642.7 414.5M643.1 414.5L643.1 414.5L643.2 414.5M644.0 414.5L644.0 414.5M647.5 414.5L647.6 414.5M650.2 414.5L650.2 414.5L650.3 414.5M653.2 414.5L653.3 414.5M653.7 414.5L653.7 414.5M654.0 414.5L654.0 414.5M655.1 414.5L655.1 414.5L655.2 414.5L655.2 414.5M656.6 414.5L656.7 414.5M657.4 414.5L657.4 414.5L657.4 414.5M657.6 392.9L657.6 392.9M658.0 414.5L658.0 414.5M658.9 414.5L658.9 414.5L659.0 414.5M662.5 414.5L662.5 392.9M663.0 414.5L663.1 414.5M663.6 414.5L663.7 414.5M664.4 414.5L664.4 414.5M665.5 414.5L665.5 414.5M668.5 414.5L668.5 414.5M669.4 414.5L669.5 414.5M669.9 414.5L670.0 414.5M670.2 414.5L670.2 414.5L670.3 392.9M671.2 414.5L671.2 414.5M673.4 414.5L673.4 414.5M675.1 414.5L675.1 414.5M676.2 392.9L676.2 414.5M678.1 414.5L678.1 414.5M678.3 414.5L678.3 414.5M678.4 414.5L678.5 392.9M680.1 414.5L680.1 414.5M681.3 414.5L681.3 414.5L681.4 414.5M685.2 414.5L685.2 414.5M685.6 414.5L685.7 414.5" fill="none" stroke="#50ffb0" stroke-width="1.0" stroke-linejoin="round"/>
<path d="M190.0 30.4L282.4 37.3L317.4 44.8L339.5 53.0L355.7 61.1L368.4 70.1L378.9 79.9L387.9 89.6L395.7 97.3L402.7 106.8L408.9 117.5L414.5 126.1L419.7 133.7L424.4 140.4L428.8 147.7L432.9 154.5L436.8 159.7L440.4 164.6L443.8 170.4L447.1 174.4L450.1 177.8L453.0 181.7L455.8 184.9L458.5 187.5L461.1 190.6L463.5 194.9L465.9 199.7L468.1 202.6L470.3 204.5L472.4 208.0L474.5 211.1L476.4 212.1L478.3 212.6L480.2 218.3L482.0 221.1L483.7 222.6L485.4 226.0L487.1 227.6L488.7 228.9L490.3 230.9L491.8 232.9L493.3 234.7L494.7 238.0L496.2 236.8L497.5 239.6L498.9 241.4L500.2 241.7L501.5 244.5L502.8 244.7L504.0 242.6L505.3 249.6L506.5 251.2L507.6 251.5L508.8 251.1L509.9 256.4L511.0 253.6L512.1 254.6L513.2 255.6L514.2 258.2L515.3 258.0L516.3 258.6L517.3 259.5L518.2 263.1L519.2 260.6L520.2 264.7L521.1 261.6L522.0 268.8L522.9 265.1L523.8 267.2L524.7 265.8L525.6 269.3L526.4 264.1L527.3 270.4L528.1 267.6L528.9 270.8L529.8 271.8L530.6 269.2L531.4 272.7L532.1 277.3L532.9 275.6L533.7 278.6L534.4 276.4L535.2 279.0L535.9 285.8L536.6 283.9L537.3 282.3L538.0 280.8L538.7 281.5L539.4 290.9L540.1 284.9L540.8 287.7L541.5 288.3L542.1 288.3L542.8 290.6L543.4 292.5L544.1 299.2L544.7 286.3L545.3 293.2L545.9 292.4L546.6 286.5L547.2 290.0L547.8 292.2L548.4 294.3L549.0 299.5L549.5 298.5L550.1 297.6L550.7 294.2L551.3 296.7L551.8 297.0L552.4 298.1L552.9 299.7L553.5 299.4L554.0 312.0L554.6 311.1L555.1 310.7L555.6 304.3L556.2 301.6L556.7 303.4L557.2 302.3L557.7 305.5L558.2 304.0L558.7 313.0L559.2 305.0L559.7 315.3L560.2 314.0L560.7 312.7L561.2 300.5L561.6 312.7L562.1 308.1L562.6 316.7L563.1 309.2L563.5 302.7L564.0 310.9L564.4 310.3L564.9 310.9L565.3 310.3L565.8 309.7L566.2 307.5L566.7 320.5L567.1 312.1L567.5 315.3L568.0 327.6L568.4 318.2L568.8 316.0L569.3 318.2L569.7 321.3L570.1 318.2L570.5 314.6L570.9 324.7L571.3 313.3L571.7 316.0L572.1 322.1L572.5 316.7L572.9 322.1L573.3 318.9L573.7 328.7L574.1 316.7L574.5 329.7L574.9 331.9L575.3 323.0L575.6 316.0L576.0 329.7L576.4 334.3L576.8 323.0L577.1 317.4L577.5 330.8L577.9 331.9L578.2 327.6L578.6 331.9L579.0 323.8L579.3 330.8L579.7 324.7L580.0 329.7L580.4 336.9L580.7 336.9L581.1 329.7L581.4 333.1L581.8 327.6L582.1 341.3L582.4 334.3L582.8 331.9L583.1 328.7L583.5 335.6L583.8 346.4L584.1 338.3L584.4 338.3L584.8 336.9L585.1 338.3L585.4 333.1L585.7 352.4L586.1 352.4L586.4 350.3L586.7 342.9L587.0 339.8L587.3 346.4L587.6 350.3L587.9 342.9L588.3 330.8L588.6 338.3L588.9 342.9L589.2 357.3L589.5 346.4L589.8 352.4L590.1 357.3L590.4 354.8L590.7 344.6L591.0 336.9L591.3 346.4L591.5 338.3L591.8 341.3L592.1 346.4L592.4 346.4L592.7 346.4L593.0 357.3L593.3 341.3L593.6 346.4L593.8 348.3L594.1 350.3L594.4 350.3L594.7 338.3L594.9 350.3L595.2 366.2L595.5 348.3L595.8 333.1L596.0 369.9L596.3 366.2L596.6 366.2L596.8 341.3L597.1 360.0L597.4 362.9L597.6 342.9L597.9 360.0L598.2 366.2L598.4 374.1L598.7 366.2L598.9 348.3L599.2 369.9L599.5 360.0L599.7 357.3L600.0 366.2L600.2 362.9L600.5 354.8L600.7 352.4L601.0 378.9L601.2 369.9L601.5 374.1L601.7 369.9L602.0 369.9L602.2 369.9L602.5 354.8L602.7 374.1L602.9 366.2L603.0 362.9L603.2 360.0L603.4 369.9L603.5 360.0L603.7 362.9L603.9 357.3L604.0 362.9L604.2 369.9L604.4 369.9L604.5 369.9L604.7 369.9L604.9 374.1L605.0 384.6L605.2 354.8L605.4 354.8L605.5 378.9L605.7 362.9L605.8 352.4L606.0 357.3L606.2 369.9L606.3 357.3L606.5 378.9L606.6 384.6L606.8 357.3L607.0 366.2L607.1 354.8L607.3 366.2L607.4 366.2L607.6 378.9L607.7 369.9L607.9 369.9L608.1 374.1L608.2 366.2L608.4 369.9L608.5 366.2L608.7 366.2L608.8 400.5L609.0 374.1L609.1 378.9L609.3 384.6L609.4 374.1L609.6 350.3L609.7 391.5L609.9 366.2L610.0 384.6L610.2 384.6L610.3 384.6L610.5 366.2L610.6 384.6L610.8 369.9L610.9 369.9L611.1 374.1L611.2 374.1L611.4 369.9L611.5 400.5L611.7 378.9L611.8 366.2L612.0 360.0L612.1 369.9L612.3 366.2L612.4 366.2L612.6 378.9L612.7 378.9L612.8 369.9L613.0 384.6L613.1 374.1L613.3 434.8L613.4 378.9L613.6 369.9L613.7 378.9L613.8 374.1L614.0 391.5L614.1 384.6L614.3 374.1L614.4 413.2L614.5 360.0L614.7 413.2L614.8 384.6L615.0 378.9L615.1 384.6L615.2 384.6L615.4 391.5L615.5 374.1L615.6 384.6L615.8 400.5L615.9 391.5L616.1 384.6L616.2 378.9L616.3 366.2L616.5 378.9L616.6 384.6L616.7 384.6L616.9 362.9L617.0 384.6L617.1 391.5L617.3 378.9L617.4 362.9L617.5 391.5L617.7 378.9L617.8 400.5L617.9 360.0L618.1 400.5L618.2 391.5L618.3 413.2L618.5 384.6L618.6 413.2L618.7 369.9L618.9 400.5L619.0 391.5L619.1 378.9L619.2 391.5L619.4 369.9L619.5 391.5L619.6 366.2L619.8 374.1L619.9 374.1L620.0 391.5L620.1 413.2L620.3 378.9L620.4 400.5L620.5 378.9L620.7 384.6L620.8 384.6L620.9 391.5L621.0 391.5L621.2 384.6L621.3 391.5L621.4 378.9L621.5 413.2L621.7 400.5L621.8 400.5L621.9 378.9L622.0 369.9L622.1 378.9L622.3 384.6L622.4 384.6L622.5 374.1L622.6 413.2L622.8 357.3L622.9 378.9L623.0 391.5L623.1 400.5L623.2 369.9L623.4 391.5L623.5 384.6L623.6 391.5L623.7 391.5L623.8 384.6L624.0 400.5L624.1 384.6L624.2 413.2L624.3 384.6L624.4 413.2L624.6 400.5L624.7 400.5L624.8 400.5L624.9 434.8M625.2 400.5L625.3 391.5L625.4 378.9L625.5 378.9L625.6 391.5L625.7 378.9L625.9 400.5L626.0 374.1L626.1 400.5L626.2 400.5L626.3 413.2L626.4 400.5L626.5 400.5L626.7 413.2L626.8 374.1L626.9 413.2L627.0 384.6L627.1 400.5L627.2 434.8L627.3 378.9L627.5 374.1L627.6 384.6L627.7 391.5L627.8 384.6L627.9 384.6L628.0 400.5L628.1 413.2L628.2 400.5L628.4 413.2L628.5 434.8L628.6 391.5L628.7 378.9L628.8 384.6L628.9 413.2L629.0 434.8L629.1 384.6L629.2 391.5L629.3 413.2L629.5 413.2L629.6 413.2L629.7 434.8L629.8 400.5L629.9 378.9L630.0 384.6L630.1 434.8L630.2 384.6L630.3 413.2L630.4 413.2M630.6 378.9L630.8 374.1L630.9 400.5L631.0 400.5L631.1 384.6L631.2 400.5L631.3 434.8L631.4 400.5L631.5 413.2L631.6 391.5L631.7 434.8L631.8 384.6L631.9 400.5L632.0 434.8L632.1 378.9L632.2 413.2L632.3 391.5L632.4 434.8L632.5 413.2L632.6 400.5L632.8 378.9L632.9 391.5L633.0 384.6M633.2 434.8L633.3 400.5L633.4 413.2L633.5 391.5L633.6 391.5L633.7 413.2L633.8 413.2L633.9 400.5L634.0 391.5L634.1 434.8L634.2 374.1L634.3 413.2L634.4 400.5L634.5 391.5L634.6 400.5L634.7 434.8L634.8 434.8L634.9 391.5M635.1 413.2L635.2 391.5L635.3 413.2L635.4 400.5M635.6 434.8L635.7 400.5L635.8 391.5L635.9 434.8L636.0 378.9L636.1 391.5L636.2 400.5L636.3 413.2L636.4 413.2L636.5 413.2L636.6 378.9L636.7 413.2L636.8 413.2L636.9 434.8L637.0 400.5L637.0 400.5L637.1 400.5L637.2 400.5L637.3 384.6L637.4 384.6L637.5 400.5L637.6 434.8L637.7 413.2L637.8 391.5L637.9 400.5M638.1 400.5L638.2 391.5L638.3 400.5L638.4 434.8L638.5 413.2M638.7 400.5L638.8 434.8L638.9 400.5M639.0 391.5L639.1 400.5M639.3 434.8L639.4 434.8L639.5 384.6L639.6 391.5L639.7 434.8L639.8 434.8L639.9 434.8L640.0 434.8L640.1 391.5L640.2 400.5L640.2 391.5L640.3 391.5L640.4 384.6L640.5 400.5L640.6 413.2L640.7 413.2L640.8 434.8L640.9 413.2L641.0 378.9L641.1 378.9L641.2 413.2L641.2 413.2L641.3 391.5L641.4 434.8L641.5 434.8L641.6 413.2L641.7 413.2L641.8 391.5L641.9 384.6L642.0 413.2L642.0 391.5L642.1 400.5L642.2 434.8L642.3 434.8L642.4 413.2L642.5 413.2L642.6 391.5M642.8 413.2L642.8 400.5L642.9 413.2L643.0 434.8L643.1 378.9L643.2 400.5L643.3 400.5L643.4 434.8L643.4 391.5L643.5 413.2L643.6 378.9L643.7 413.2L643.8 378.9L643.9 391.5L644.0 413.2L644.1 384.6L644.1 400.5L644.2 400.5L644.3 400.5L644.4 391.5L644.5 391.5L644.6 413.2L644.7 434.8L644.7 400.5L644.8 413.2L644.9 434.8L645.0 400.5L645.1 400.5L645.2 391.5M645.3 391.5L645.4 434.8L645.5 378.9L645.6 384.6L645.7 413.2L645.7 378.9L645.8 384.6L645.9 391.5L646.0 434.8L646.1 400.5L646.2 434.8L646.2 434.8L646.3 391.5L646.4 400.5L646.5 384.6M646.7 413.2L646.7 400.5L646.8 413.2L646.9 434.8L647.0 434.8L647.1 391.5L647.2 434.8L647.2 434.8L647.3 391.5L647.4 391.5M647.6 434.8L647.6 378.9L647.7 391.5L647.8 413.2L647.9 391.5L648.0 413.2L648.0 434.8L648.1 434.8L648.2 413.2L648.3 391.5L648.4 400.5L648.4 378.9L648.5 434.8L648.6 434.8L648.7 400.5M648.9 378.9L649.0 434.8L649.1 434.8L649.2 434.8L649.2 413.2L649.3 413.2L649.4 434.8L649.5 434.8L649.6 400.5L649.6 384.6L649.7 434.8L649.8 384.6L649.9 434.8L649.9 413.2L650.0 400.5L650.1 400.5L650.2 400.5L650.3 413.2L650.3 400.5L650.4 400.5L650.5 400.5L650.6 391.5L650.6 434.8L650.7 413.2L650.8 400.5L650.9 413.2L651.0 400.5L651.0 391.5L651.1 384.6L651.2 391.5L651.3 391.5L651.3 434.8L651.4 413.2L651.5 391.5L651.6 434.8L651.6 400.5L651.7 400.5L651.8 413.2L651.9 384.6L651.9 400.5L652.0 391.5L652.1 384.6M652.4 434.8L652.5 400.5L652.5 413.2L652.6 391.5L652.7 413.2L652.8 391.5L652.8 384.6L652.9 413.2L653.0 434.8L653.1 413.2L653.1 434.8L653.2 434.8M653.4 413.2L653.4 413.2L653.5 413.2L653.6 434.8L653.7 413.2L653.7 400.5L653.8 400.5L653.9 400.5L653.9 400.5L654.0 434.8L654.1 434.8L654.2 434.8L654.2 384.6L654.3 413.2L654.4 434.8L654.5 413.2L654.5 391.5L654.6 400.5L654.7 434.8L654.7 400.5L654.8 384.6L654.9 413.2L655.0 434.8L655.0 400.5L655.1 434.8L655.2 391.5M655.3 413.2L655.4 400.5L655.5 391.5L655.5 434.8L655.6 434.8L655.7 434.8L655.7 434.8L655.8 413.2L655.9 434.8L656.0 413.2L656.0 434.8L656.1 400.5L656.2 434.8L656.2 434.8L656.3 413.2L656.4 413.2L656.4 413.2L656.5 400.5L656.6 413.2M656.7 434.8L656.8 413.2L656.9 413.2L656.9 413.2L657.0 434.8L657.1 413.2L657.1 400.5M657.3 413.2L657.4 413.2L657.4 391.5L657.5 413.2L657.6 413.2L657.6 400.5M657.9 369.9L658.0 434.8M658.1 378.9L658.2 384.6M658.3 400.5L658.4 413.2L658.4 434.8L658.5 434.8L658.6 413.2L658.6 413.2L658.7 400.5L658.8 400.5L658.9 434.8L658.9 400.5L659.0 391.5L659.1 434.8L659.1 400.5L659.2 413.2L659.3 413.2L659.3 400.5L659.4 400.5L659.5 400.5L659.5 434.8L659.6 391.5L659.7 413.2L659.7 400.5M659.9 400.5L660.0 434.8L660.1 413.2L660.1 384.6L660.2 434.8L660.2 413.2L660.3 434.8L660.4 434.8L660.4 413.2M660.6 400.5L660.7 400.5L660.8 413.2L660.8 434.8L660.9 400.5L661.0 434.8L661.0 391.5L661.1 391.5L661.2 400.5L661.2 413.2L661.3 400.5L661.4 391.5L661.4 434.8M661.7 400.5L661.8 413.2L661.9 400.5M662.0 413.2L662.1 400.5M662.3 434.8L662.3 400.5L662.4 413.2L662.4 434.8L662.5 413.2M662.6 434.8L662.7 413.2L662.8 400.5L662.8 434.8M663.0 413.2L663.0 400.5L663.1 413.2L663.1 413.2L663.2 434.8M663.5 434.8L663.5 434.8L663.6 434.8L663.6 400.5M663.8 434.8L663.8 413.2L663.9 413.2L664.0 434.8L664.0 413.2L664.1 434.8L664.1 413.2L664.2 434.8M664.5 434.8L664.6 413.2L664.6 413.2L664.7 391.5L664.8 434.8M664.9 413.2L664.9 434.8L665.0 413.2M665.1 434.8L665.2 434.8L665.2 413.2L665.3 391.5M665.7 434.8L665.7 413.2M666.1 434.8L666.1 434.8L666.2 434.8M666.3 413.2L666.4 434.8L666.4 434.8L666.5 413.2L666.6 434.8L666.6 434.8L666.7 413.2M667.0 400.5L667.1 413.2L667.1 434.8M667.3 434.8L667.3 434.8M667.7 434.8L667.8 413.2L667.8 400.5L667.9 400.5M668.1 413.2L668.2 413.2M668.4 434.8L668.5 434.8M669.4 434.8L669.5 434.8M670.0 434.8L670.0 413.2M670.3 434.8L670.4 434.8L670.4 434.8L670.5 413.2M670.8 434.8L670.9 413.2L670.9 413.2M671.0 434.8L671.1 413.2L671.1 434.8M671.2 413.2L671.3 434.8M671.4 434.8L671.5 434.8L671.5 413.2L671.6 434.8L671.6 400.5L671.7 434.8M671.8 434.8L671.8 434.8M672.1 434.8L672.1 413.2M672.5 413.2L672.6 434.8M673.0 413.2L673.0 434.8M674.1 434.8L674.2 434.8M674.4 413.2L674.5 434.8M674.7 434.8L674.7 434.8M674.8 413.2L674.9 434.8L674.9 413.2M675.4 434.8L675.5 434.8M675.6 434.8L675.7 413.2M675.8 434.8L675.9 434.8L675.9 434.8L676.0 413.2L676.0 434.8L676.1 400.5L676.1 434.8L676.2 434.8M676.4 413.2L676.4 413.2L676.5 434.8L676.5 434.8M676.9 434.8L676.9 434.8M677.5 434.8L677.6 434.8L677.6 434.8M678.0 434.8L678.1 434.8M678.4 413.2L678.5 434.8M679.0 434.8L679.1 434.8L679.1 434.8L679.2 434.8M679.5 413.2L679.5 413.2M679.6 434.8L679.7 413.2M680.0 434.8L680.0 413.2M680.2 434.8L680.2 434.8L680.3 434.8L680.3 434.8M680.6 413.2L680.6 434.8M682.0 413.2L682.0 434.8L682.1 413.2M682.4 434.8L682.4 413.2M682.8 434.8L682.9 434.8M684.0 434.8L684.0 413.2M684.1 413.2L684.1 434.8M684.3 434.8L684.3 434.8M684.5 434.8L684.5 434.8M684.6 434.8L684.7 434.8L684.7 434.8M684.9 434.8L685.0 434.8M685.4 434.8L685.4 434.8L685.5 434.8M685.6 434.8L685.7 434.8M685.9 434.8L686.0 400.5M686.8 434.8L686.8 434.8M687.6 413.2L687.6 434.8M688.1 434.8L688.1 434.8M688.3 434.8L688.4 413.2L688.4 434.8M688.5 434.8L688.6 413.2L688.6 434.8M689.8 413.2L689.9 434.8L689.9 413.2M690.3 413.2L690.3 434.8M691.1 413.2L691.2 434.8L691.2 400.5M691.3 434.8L691.4 413.2M692.0 434.8L692.1 434.8L692.1 434.8L692.2 434.8M692.4 434.8L692.4 391.5M692.7 434.8L692.8 434.8M693.1 434.8L693.1 434.8L693.1 434.8M693.2 434.8L693.3 434.8L693.3 434.8M693.5 434.8L693.5 413.2M693.9 434.8L693.9 434.8M694.4 434.8L694.5 434.8L694.5 434.8M694.8 434.8L694.8 434.8M695.5 413.2L695.5 434.8M695.8 434.8L695.8 434.8M696.1 434.8L696.2 434.8M696.6 413.2L696.6 434.8M696.8 434.8L696.8 413.2L696.9 434.8M697.8 434.8L697.8 400.5M698.8 434.8L698.9 434.8M698.9 434.8L699.0 434.8L699.0 434.8M699.2 434.8L699.2 434.8M699.8 434.8L699.9 434.8L699.9 434.8L699.9 434.8" fill="none" stroke="#c000ff" stroke-width="1.0" stroke-linejoin="round"/>
<path d="M197.0 37.7L279.2 32.2L312.8 29.4L334.4 31.3L350.2 35.3L362.8 40.9L373.2 48.1L382.1 56.3L389.8 64.3L396.7 71.1L402.9 79.3L408.5 87.0L413.6 94.8L418.3 103.0L422.7 110.5L426.8 118.2L430.6 125.3L434.3 133.7L437.7 137.1L440.9 143.7L443.9 151.5L446.8 154.5L449.6 160.4L452.3 161.1L454.8 167.2L457.3 171.8L459.6 175.6L461.9 174.7L464.1 179.6L466.2 181.6L468.2 182.9L470.2 185.7L472.1 190.3L473.9 189.6L475.7 195.3L477.5 196.2L479.2 201.5L480.8 202.7L482.4 203.5L484.0 207.4L485.5 211.4L487.0 216.1L488.4 215.0L489.9 220.2L491.2 219.5L492.6 221.3L493.9 221.9L495.2 220.9L496.5 223.1L497.7 224.8L498.9 228.4L500.1 229.7L501.3 235.1L502.5 228.8L503.6 235.5L504.7 234.2L505.8 236.1L506.8 244.1L507.9 237.3L508.9 242.6L509.9 239.8L510.9 238.1L511.9 246.3L512.9 244.5L513.8 247.2L514.8 257.1L515.7 254.3L516.6 257.9L517.5 253.0L518.4 249.4L519.2 252.4L520.1 248.9L521.0 256.4L521.8 260.2L522.6 263.5L523.4 260.2L524.2 266.3L525.0 261.8L525.8 266.3L526.6 262.7L527.3 261.8L528.1 267.3L528.8 267.3L529.5 266.3L530.3 265.4L531.0 256.4L531.7 268.4L532.4 268.4L533.1 268.4L533.8 269.4L534.4 271.6L535.1 263.5L535.8 267.3L536.4 275.3L537.1 274.0L537.7 271.6L538.3 279.5L539.0 265.4L539.6 284.3L540.2 272.8L540.8 276.6L541.4 286.1L542.0 270.5L542.6 284.3L543.2 288.0L543.8 276.6L544.3 281.0L544.9 284.3L545.5 282.6L546.0 282.6L546.6 290.0L547.1 299.7L547.7 294.5L548.2 290.0L548.7 278.0L549.3 299.7L549.8 281.0L550.3 292.1L550.8 278.0L551.3 286.1L551.8 288.0L552.4 294.5L552.8 305.9L553.3 292.1L553.8 297.0L554.3 286.1L554.8 297.0L555.3 290.0L555.8 302.6L556.2 286.1L556.7 281.0L557.2 290.0L557.6 299.7L558.1 309.6L558.5 288.0L559.0 313.8L559.4 318.6L559.9 299.7L560.3 297.0L560.7 284.3L561.2 290.0L561.6 324.3L562.0 299.7L562.5 302.6L562.9 313.8L563.3 309.6L563.7 299.7L564.1 318.6L564.5 318.6L565.0 318.6L565.4 305.9L565.8 299.7L566.2 294.5L566.6 305.9L567.0 309.6L567.3 302.6L567.7 305.9L568.1 297.0L568.5 299.7L568.9 305.9L569.3 324.3L569.6 299.7L570.0 305.9L570.4 318.6L570.8 324.3L571.1 299.7L571.5 331.2L571.9 302.6L572.2 290.0L572.6 309.6L572.9 331.2L573.3 297.0L573.7 305.9L574.0 331.2L574.4 305.9L574.7 305.9L575.0 324.3L575.4 313.8L575.7 305.9L576.1 331.2L576.4 324.3L576.7 294.5L577.1 318.6L577.4 309.6L577.7 318.6L578.1 309.6L578.4 313.8L578.7 313.8L579.0 324.3L579.4 324.3L579.7 299.7L580.0 324.3L580.3 302.6L580.6 313.8L580.9 331.2L581.3 318.6L581.6 352.9L581.9 324.3L582.2 318.6L582.5 302.6L582.8 340.2L583.1 331.2L583.4 318.6L583.7 331.2L584.0 318.6L584.3 352.9L584.6 331.2L584.9 340.2L585.2 340.2L585.5 318.6L585.8 331.2L586.0 305.9L586.3 309.6L586.6 352.9L586.9 318.6L587.2 313.8L587.5 299.7L587.7 340.2L588.0 305.9L588.3 305.9L588.6 352.9L588.8 318.6L589.1 340.2L589.4 324.3L589.7 331.2L589.9 352.9L590.2 324.3L590.5 331.2L590.7 340.2L591.0 374.5L591.3 294.5L591.5 324.3L591.8 305.9L592.1 331.2L592.3 352.9L592.6 352.9L592.8 352.9L593.1 340.2L593.3 340.2L593.6 309.6L593.8 324.3L594.1 374.5L594.3 324.3L594.6 374.5L594.8 340.2L595.1 374.5L595.5 313.8L595.9 324.3L596.3 340.2L596.7 331.2L597.1 331.2L597.5 331.2L597.9 352.9L598.3 324.3L598.7 324.3L599.1 318.6L599.5 324.3L599.9 340.2L600.2 340.2L600.6 340.2L601.0 340.2L601.4 331.2L601.7 340.2L602.1 324.3L602.5 340.2L602.8 352.9L603.2 340.2L603.6 374.5M604.3 374.5L604.6 340.2L605.0 374.5L605.3 352.9L605.7 352.9L606.0 340.2L606.4 340.2L606.7 374.5L607.0 340.2L607.4 374.5L607.7 340.2M609.7 352.9L610.0 374.5L610.3 374.5M611.0 352.9L611.3 352.9L611.6 340.2L611.9 352.9L612.2 374.5L612.5 352.9L612.8 374.5L613.2 374.5M613.8 340.2L614.1 374.5L614.4 374.5L614.7 352.9M615.3 340.2L615.6 374.5L615.9 331.2L616.1 374.5M616.7 340.2L617.0 352.9M620.4 374.5L620.6 352.9L620.9 352.9L621.2 374.5L621.4 374.5M623.8 352.9L624.1 374.5M625.1 352.9L625.3 374.5M626.6 340.2L626.8 374.5L627.1 374.5M627.5 374.5L627.8 352.9M629.2 352.9L629.4 340.2L629.7 374.5L629.9 374.5L630.1 374.5L630.4 374.5M630.8 374.5L631.1 374.5M632.4 374.5L632.6 374.5M634.4 374.5L634.6 374.5L634.8 374.5M635.9 374.5L636.1 340.2M636.7 374.5L636.9 374.5L637.1 374.5L637.3 352.9M638.8 374.5L639.0 374.5M640.4 374.5L640.5 374.5L640.7 374.5L640.9 352.9L641.1 374.5M643.8 352.9L644.0 374.5L644.1 374.5M644.7 352.9L644.9 374.5L645.1 374.5L645.2 374.5L645.4 374.5M646.3 374.5L646.5 374.5L646.7 352.9M648.9 374.5L649.1 374.5L649.3 352.9M649.6 374.5L649.8 374.5L649.9 374.5M650.3 374.5L650.4 374.5L650.6 374.5M651.3 374.5L651.4 374.5M652.7 374.5L652.9 352.9M654.4 374.5L654.6 352.9M656.3 374.5L656.4 374.5L656.6 352.9L656.7 374.5L656.9 374.5M657.6 374.5L657.8 352.9M659.9 374.5L660.1 374.5M660.9 374.5L661.0 374.5L661.2 374.5M661.5 374.5L661.6 374.5M663.2 374.5L663.4 374.5M686.9 374.5L687.4 352.9L687.9 374.5M671.8 374.5L675.4 374.5M662.6 374.5L663.8 374.5" fill="none" stroke="#8000ff" stroke-width="1.0" stroke-linejoin="round"/>
</g>
<g stroke="#000" stroke-width="1" fill="none">
<line x1="474.1" y1="173.4" x2="645.2" y2="375.4"/>
<line x1="449.6" y1="213.6" x2="590" y2="398.4"/>
</g>
<line x1="596.3" y1="226.0" x2="567.6" y2="259.0" stroke="#000" stroke-width="1"/><polygon points="558.5,269.4 563.6,253.2 567.6,259.0 573.9,262.1" fill="#000"/>
<line x1="452.8" y1="369.0" x2="507.2" y2="323.5" stroke="#000" stroke-width="1"/><polygon points="517.8,314.6 510.2,329.8 507.2,323.5 501.5,319.4" fill="#000"/>
<g stroke="#000" fill="none">
<rect x="100" y="8" width="597" height="428" stroke-width="2"/>
<path d="M105.9 436.0V441.0M105.9 8.0V3.7M114.1 436.0V441.0M114.1 8.0V3.7M121.2 436.0V441.0M121.2 8.0V3.7M127.6 436.0V444.3M127.6 8.0V-0.5M169.7 436.0V441.0M169.7 8.0V3.7M194.3 436.0V441.0M194.3 8.0V3.7M211.8 436.0V441.0M211.8 8.0V3.7M225.3 436.0V441.0M225.3 8.0V3.7M236.4 436.0V441.0M236.4 8.0V3.7M245.7 436.0V441.0M245.7 8.0V3.7M253.9 436.0V441.0M253.9 8.0V3.7M261.0 436.0V441.0M261.0 8.0V3.7M267.4 436.0V444.3M267.4 8.0V-0.5M309.5 436.0V441.0M309.5 8.0V3.7M334.1 436.0V441.0M334.1 8.0V3.7M351.6 436.0V441.0M351.6 8.0V3.7M365.1 436.0V441.0M365.1 8.0V3.7M376.2 436.0V441.0M376.2 8.0V3.7M385.5 436.0V441.0M385.5 8.0V3.7M393.7 436.0V441.0M393.7 8.0V3.7M400.8 436.0V441.0M400.8 8.0V3.7M407.2 436.0V444.3M407.2 8.0V-0.5M449.3 436.0V441.0M449.3 8.0V3.7M473.9 436.0V441.0M473.9 8.0V3.7M491.4 436.0V441.0M491.4 8.0V3.7M504.9 436.0V441.0M504.9 8.0V3.7M516.0 436.0V441.0M516.0 8.0V3.7M525.3 436.0V441.0M525.3 8.0V3.7M533.5 436.0V441.0M533.5 8.0V3.7M540.6 436.0V441.0M540.6 8.0V3.7M547.0 436.0V444.3M547.0 8.0V-0.5M589.1 436.0V441.0M589.1 8.0V3.7M613.7 436.0V441.0M613.7 8.0V3.7M631.2 436.0V441.0M631.2 8.0V3.7M644.7 436.0V441.0M644.7 8.0V3.7M655.8 436.0V441.0M655.8 8.0V3.7M665.1 436.0V441.0M665.1 8.0V3.7M673.3 436.0V441.0M673.3 8.0V3.7M680.4 436.0V441.0M680.4 8.0V3.7M686.8 436.0V444.3M686.8 8.0V-0.5M100.0 426.8H95.2M100.0 417.8H95.2M100.0 410.8H95.2M100.0 405.1H95.2M100.0 400.3H95.2M100.0 396.2H95.2M100.0 392.5H95.2M100.0 389.2H91.4M100.0 367.6H95.2M100.0 354.9H95.2M100.0 345.9H95.2M100.0 339.0H95.2M100.0 333.3H95.2M100.0 328.5H95.2M100.0 324.3H95.2M100.0 320.6H95.2M100.0 317.3H91.4M100.0 295.7H95.2M100.0 283.1H95.2M100.0 274.1H95.2M100.0 267.1H95.2M100.0 261.4H95.2M100.0 256.6H95.2M100.0 252.4H95.2M100.0 248.8H95.2M100.0 245.5H91.4M100.0 223.8H95.2M100.0 211.2H95.2M100.0 202.2H95.2M100.0 195.3H95.2M100.0 189.6H95.2M100.0 184.8H95.2M100.0 180.6H95.2M100.0 176.9H95.2M100.0 173.6H91.4M100.0 152.0H95.2M100.0 139.3H95.2M100.0 130.4H95.2M100.0 123.4H95.2M100.0 117.7H95.2M100.0 112.9H95.2M100.0 108.7H95.2M100.0 105.0H95.2M100.0 101.8H91.4M100.0 80.1H95.2M100.0 67.5H95.2M100.0 58.5H95.2M100.0 51.5H95.2M100.0 45.8H95.2M100.0 41.0H95.2M100.0 36.9H95.2M100.0 33.2H95.2M100.0 29.9H91.4M100.0 8.3H95.2" stroke-width="1.5"/>
</g>
<g font-family="'Liberation Serif', serif" fill="#000">
<text transform="translate(105.15 478.20) scale(0.997 1.090)" font-size="29" text-anchor="start">10</text><text transform="translate(134.36 460.90) scale(1.000 1.000)" font-size="18.6" text-anchor="start">-1</text>
<text transform="translate(248.04 478.20) scale(0.997 1.090)" font-size="29" text-anchor="start">10</text><text transform="translate(277.26 460.90) scale(1.000 1.000)" font-size="18.6" text-anchor="start">0</text>
<text transform="translate(387.84 478.20) scale(0.997 1.090)" font-size="29" text-anchor="start">10</text><text transform="translate(417.06 460.90) scale(1.000 1.000)" font-size="18.6" text-anchor="start">1</text>
<text transform="translate(527.64 478.20) scale(0.997 1.090)" font-size="29" text-anchor="start">10</text><text transform="translate(556.86 460.90) scale(1.000 1.000)" font-size="18.6" text-anchor="start">2</text>
<text transform="translate(667.44 478.20) scale(0.997 1.090)" font-size="29" text-anchor="start">10</text><text transform="translate(696.66 460.90) scale(1.000 1.000)" font-size="18.6" text-anchor="start">3</text>
<text transform="translate(49.49 41.40) scale(0.997 1.090)" font-size="29" text-anchor="start">10</text><text transform="translate(78.70 25.20) scale(1.000 1.000)" font-size="18.6" text-anchor="start">0</text>
<text transform="translate(43.29 113.26) scale(0.997 1.090)" font-size="29" text-anchor="start">10</text><text transform="translate(72.51 97.06) scale(1.000 1.000)" font-size="18.6" text-anchor="start">-1</text>
<text transform="translate(43.29 185.12) scale(0.997 1.090)" font-size="29" text-anchor="start">10</text><text transform="translate(72.51 168.92) scale(1.000 1.000)" font-size="18.6" text-anchor="start">-2</text>
<text transform="translate(43.29 256.98) scale(0.997 1.090)" font-size="29" text-anchor="start">10</text><text transform="translate(72.51 240.78) scale(1.000 1.000)" font-size="18.6" text-anchor="start">-3</text>
<text transform="translate(43.29 328.84) scale(0.997 1.090)" font-size="29" text-anchor="start">10</text><text transform="translate(72.51 312.64) scale(1.000 1.000)" font-size="18.6" text-anchor="start">-4</text>
<text transform="translate(43.29 400.70) scale(0.997 1.090)" font-size="29" text-anchor="start">10</text><text transform="translate(72.51 384.50) scale(1.000 1.000)" font-size="18.6" text-anchor="start">-5</text>
<text transform="translate(1.27 70.70) scale(1.107 1.053)" font-size="30" font-style="italic">P</text>
<text transform="translate(20.62 70.48) scale(0.895 1.036)" font-size="30">(</text>
<text transform="translate(29.08 70.70) scale(1.193 1.053)" font-size="30" font-style="italic">X</text>
<text transform="translate(48.04 83.00) scale(1.103 1.043)" font-size="18" font-style="italic">N</text>
<text transform="translate(60.78 70.48) scale(0.960 1.036)" font-size="30">)</text>
<text transform="translate(445.72 484.70) scale(1.194 1.024)" font-size="41" font-style="italic">X</text>
<text transform="translate(471.39 501.70) scale(1.067 1.008)" font-size="25" font-style="italic">N</text>
<text transform="translate(574.30 220.00) scale(0.980 1.035)" font-size="24" text-anchor="start">-2.30</text>
<text transform="translate(425.00 389.40) scale(0.980 1.035)" font-size="24" text-anchor="start">-2.57</text>
<rect x="122.5" y="193.4" width="136.2" height="218.2" fill="#fff" stroke="#000" stroke-width="1"/>
<line x1="132" y1="215.4" x2="185" y2="215.4" stroke="#000000" stroke-width="1"/>
<text transform="translate(191.40 223.20) scale(0.970 1.025)" font-size="24" text-anchor="start">10</text>
<line x1="132" y1="244.4" x2="185" y2="244.4" stroke="#ff0000" stroke-width="1"/>
<text transform="translate(191.40 252.20) scale(0.970 1.025)" font-size="24" text-anchor="start">100</text>
<line x1="132" y1="273.4" x2="185" y2="273.4" stroke="#00ff00" stroke-width="1"/>
<text transform="translate(191.40 281.20) scale(0.970 1.025)" font-size="24" text-anchor="start">1000</text>
<line x1="132" y1="302.4" x2="185" y2="302.4" stroke="#0000ff" stroke-width="1"/>
<text transform="translate(191.40 310.20) scale(0.970 1.025)" font-size="24" text-anchor="start">2000</text>
<line x1="132" y1="331.4" x2="185" y2="331.4" stroke="#50ffb0" stroke-width="1"/>
<text transform="translate(191.40 339.20) scale(0.970 1.025)" font-size="24" text-anchor="start">4000</text>
<line x1="132" y1="360.4" x2="185" y2="360.4" stroke="#c000ff" stroke-width="1"/>
<text transform="translate(191.40 368.20) scale(0.970 1.025)" font-size="24" text-anchor="start">8000</text>
<line x1="132" y1="389.4" x2="185" y2="389.4" stroke="#8000ff" stroke-width="1"/>
<text transform="translate(191.40 397.20) scale(0.970 1.025)" font-size="24" text-anchor="start">16000</text>
</g>
</svg>
</body></html>
